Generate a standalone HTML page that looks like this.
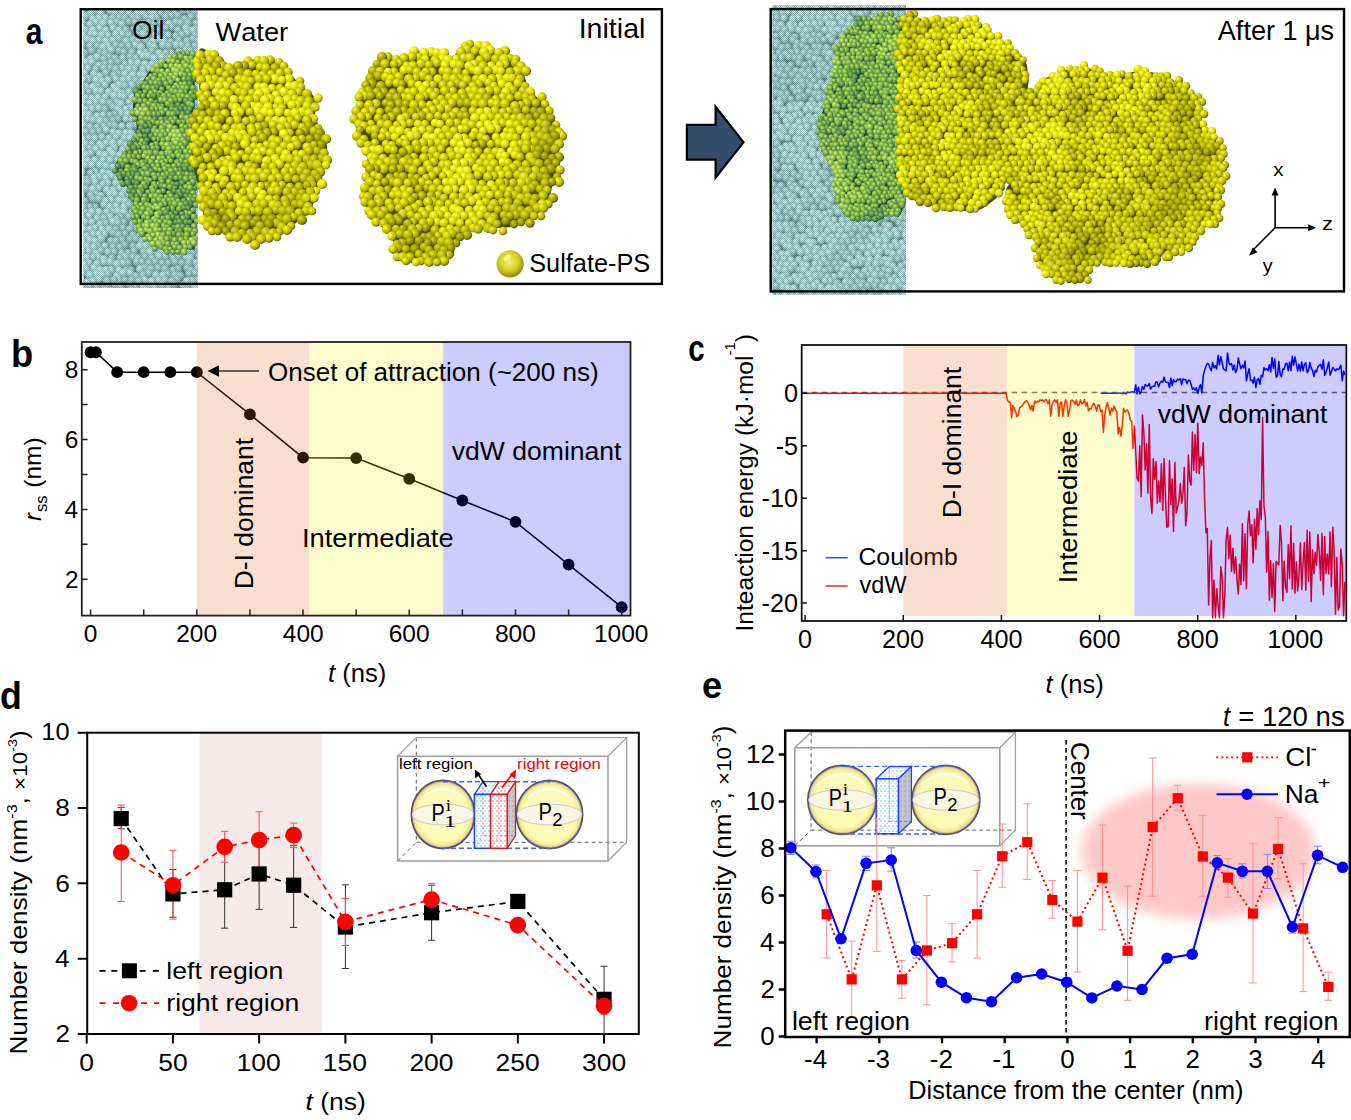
<!DOCTYPE html>
<html><head><meta charset="utf-8"><style>
html,body{margin:0;padding:0;background:#fff;}
body{width:1351px;height:1120px;overflow:hidden;}
svg{display:block;font-family:"Liberation Sans",sans-serif;font-kerning:none;}
text{font-kerning:none;}
</style></head><body>
<svg width="1351" height="1120" viewBox="0 0 1351 1120">
<defs>
<radialGradient id="gy1" cx="0.34" cy="0.31" r="0.75">
 <stop offset="0" stop-color="#ffff88"/><stop offset="0.28" stop-color="#f4f412"/><stop offset="0.7" stop-color="#c8c800"/><stop offset="1" stop-color="#5c5c00"/>
</radialGradient>
<radialGradient id="gy2" cx="0.34" cy="0.31" r="0.75">
 <stop offset="0" stop-color="#f4f46a"/><stop offset="0.28" stop-color="#e2e200"/><stop offset="0.7" stop-color="#a8a800"/><stop offset="1" stop-color="#464600"/>
</radialGradient>
<radialGradient id="gy3" cx="0.34" cy="0.31" r="0.75">
 <stop offset="0" stop-color="#e4e448"/><stop offset="0.28" stop-color="#c4c400"/><stop offset="0.7" stop-color="#8a8a00"/><stop offset="1" stop-color="#363600"/>
</radialGradient>
<radialGradient id="gg1" cx="0.36" cy="0.33" r="0.72">
 <stop offset="0" stop-color="#d8f488"/><stop offset="0.35" stop-color="#a4d050"/><stop offset="0.8" stop-color="#689a40"/><stop offset="1" stop-color="#2c5a40"/>
</radialGradient>
<radialGradient id="gg2" cx="0.36" cy="0.33" r="0.72">
 <stop offset="0" stop-color="#c0e878"/><stop offset="0.35" stop-color="#88bc48"/><stop offset="0.8" stop-color="#528640"/><stop offset="1" stop-color="#205040"/>
</radialGradient>
<radialGradient id="gg3" cx="0.36" cy="0.33" r="0.72">
 <stop offset="0" stop-color="#98cc68"/><stop offset="0.35" stop-color="#68a048"/><stop offset="0.8" stop-color="#3c7048"/><stop offset="1" stop-color="#1a4038"/>
</radialGradient>
<radialGradient id="gc1" cx="0.4" cy="0.35" r="0.7">
 <stop offset="0" stop-color="#e8ffff"/><stop offset="0.45" stop-color="#ace6e6"/><stop offset="1" stop-color="#7cb0b0"/>
</radialGradient>
<radialGradient id="gc2" cx="0.4" cy="0.35" r="0.7">
 <stop offset="0" stop-color="#d4f6f6"/><stop offset="0.45" stop-color="#9cd4d4"/><stop offset="1" stop-color="#74a0a0"/>
</radialGradient>
<pattern id="dith" width="2" height="2" patternUnits="userSpaceOnUse"><rect width="1" height="1" fill="#203838"/><rect x="1" y="1" width="1" height="1" fill="#203838"/></pattern>
<radialGradient id="gball" cx="0.45" cy="0.4" r="0.6">
 <stop offset="0" stop-color="#f4f470"/><stop offset="0.6" stop-color="#d0d020"/><stop offset="1" stop-color="#8a8a10"/>
</radialGradient>
<radialGradient id="lump" cx="0.42" cy="0.4" r="0.6">
 <stop offset="0" stop-color="#ffff60" stop-opacity="0.18"/><stop offset="0.55" stop-color="#ffff40" stop-opacity="0"/><stop offset="0.82" stop-color="#404000" stop-opacity="0"/><stop offset="1" stop-color="#303000" stop-opacity="0.45"/>
</radialGradient>
<radialGradient id="shadeY" cx="0.4" cy="0.38" r="0.62">
 <stop offset="0" stop-color="#ffff80" stop-opacity="0.06"/><stop offset="0.6" stop-color="#808000" stop-opacity="0"/><stop offset="0.9" stop-color="#505000" stop-opacity="0.2"/><stop offset="1" stop-color="#505000" stop-opacity="0.05"/>
</radialGradient>
<filter id="blur8" x="-30%" y="-30%" width="160%" height="160%"><feGaussianBlur stdDeviation="6"/></filter>
</defs>
<style>
.y1{fill:url(#gy1)}.y2{fill:url(#gy2)}.y3{fill:url(#gy3)}
.g1{fill:url(#gg1)}.g2{fill:url(#gg2)}.g3{fill:url(#gg3)}
.c1{fill:url(#gc1)}.c2{fill:url(#gc2)}
</style>
<text transform="translate(25.82,44.24) scale(0.3001,0.3669)" font-size="100" font-weight="bold" fill="#000">a</text>
<defs><circle id="k1c10" r="3.74" class="c1"/></defs>
<defs><circle id="k1c11" r="4.00" class="c1"/></defs>
<defs><circle id="k1c12" r="4.26" class="c1"/></defs>
<defs><circle id="k1c20" r="3.74" class="c2"/></defs>
<defs><circle id="k1c21" r="4.00" class="c2"/></defs>
<defs><circle id="k1c22" r="4.26" class="c2"/></defs>
<clipPath id="k1"><rect x="83.5" y="10" width="114" height="278"/></clipPath>
<g clip-path="url(#k1)">
<rect x="83.5" y="10" width="114" height="278" fill="#708888"/>
<use href="#k1c10" x="112" y="5"/>
<use href="#k1c11" x="193" y="5"/>
<use href="#k1c20" x="145" y="5"/>
<use href="#k1c11" x="118" y="5"/>
<use href="#k1c10" x="184" y="5"/>
<use href="#k1c22" x="177" y="6"/>
<use href="#k1c21" x="153" y="6"/>
<use href="#k1c21" x="166" y="6"/>
<use href="#k1c21" x="79" y="6"/>
<use href="#k1c21" x="86" y="6"/>
<use href="#k1c20" x="171" y="6"/>
<use href="#k1c10" x="132" y="6"/>
<use href="#k1c11" x="197" y="7"/>
<use href="#k1c10" x="93" y="7"/>
<use href="#k1c10" x="98" y="7"/>
<use href="#k1c11" x="126" y="7"/>
<use href="#k1c10" x="160" y="7"/>
<use href="#k1c11" x="107" y="7"/>
<use href="#k1c22" x="140" y="7"/>
<use href="#k1c11" x="188" y="10"/>
<use href="#k1c12" x="195" y="11"/>
<use href="#k1c20" x="183" y="11"/>
<use href="#k1c10" x="110" y="11"/>
<use href="#k1c11" x="95" y="11"/>
<use href="#k1c10" x="82" y="11"/>
<use href="#k1c11" x="122" y="12"/>
<use href="#k1c11" x="115" y="12"/>
<use href="#k1c20" x="150" y="12"/>
<use href="#k1c20" x="168" y="12"/>
<use href="#k1c12" x="91" y="13"/>
<use href="#k1c10" x="137" y="13"/>
<use href="#k1c20" x="161" y="13"/>
<use href="#k1c20" x="175" y="13"/>
<use href="#k1c10" x="129" y="13"/>
<use href="#k1c12" x="143" y="13"/>
<use href="#k1c12" x="154" y="13"/>
<use href="#k1c10" x="101" y="13"/>
<use href="#k1c22" x="171" y="16"/>
<use href="#k1c12" x="85" y="16"/>
<use href="#k1c21" x="178" y="16"/>
<use href="#k1c21" x="133" y="17"/>
<use href="#k1c20" x="199" y="17"/>
<use href="#k1c21" x="146" y="17"/>
<use href="#k1c22" x="191" y="17"/>
<use href="#k1c22" x="166" y="17"/>
<use href="#k1c12" x="105" y="18"/>
<use href="#k1c20" x="157" y="18"/>
<use href="#k1c22" x="138" y="18"/>
<use href="#k1c11" x="81" y="18"/>
<use href="#k1c22" x="119" y="18"/>
<use href="#k1c22" x="113" y="18"/>
<use href="#k1c12" x="99" y="18"/>
<use href="#k1c21" x="125" y="18"/>
<use href="#k1c12" x="152" y="18"/>
<use href="#k1c21" x="185" y="19"/>
<use href="#k1c11" x="93" y="19"/>
<use href="#k1c20" x="129" y="22"/>
<use href="#k1c21" x="117" y="22"/>
<use href="#k1c21" x="135" y="22"/>
<use href="#k1c22" x="176" y="22"/>
<use href="#k1c20" x="149" y="22"/>
<use href="#k1c11" x="96" y="22"/>
<use href="#k1c21" x="161" y="23"/>
<use href="#k1c10" x="111" y="23"/>
<use href="#k1c22" x="181" y="23"/>
<use href="#k1c20" x="196" y="23"/>
<use href="#k1c20" x="154" y="23"/>
<use href="#k1c12" x="103" y="23"/>
<use href="#k1c12" x="82" y="23"/>
<use href="#k1c22" x="188" y="23"/>
<use href="#k1c22" x="143" y="24"/>
<use href="#k1c12" x="169" y="24"/>
<use href="#k1c10" x="122" y="24"/>
<use href="#k1c10" x="90" y="24"/>
<use href="#k1c21" x="172" y="27"/>
<use href="#k1c10" x="113" y="28"/>
<use href="#k1c11" x="186" y="28"/>
<use href="#k1c21" x="166" y="28"/>
<use href="#k1c11" x="100" y="28"/>
<use href="#k1c22" x="152" y="29"/>
<use href="#k1c22" x="197" y="29"/>
<use href="#k1c20" x="134" y="29"/>
<use href="#k1c21" x="146" y="29"/>
<use href="#k1c22" x="138" y="29"/>
<use href="#k1c22" x="126" y="30"/>
<use href="#k1c10" x="106" y="30"/>
<use href="#k1c10" x="119" y="30"/>
<use href="#k1c12" x="93" y="30"/>
<use href="#k1c21" x="178" y="30"/>
<use href="#k1c22" x="80" y="30"/>
<use href="#k1c21" x="158" y="30"/>
<use href="#k1c12" x="85" y="30"/>
<use href="#k1c11" x="193" y="30"/>
<use href="#k1c10" x="187" y="33"/>
<use href="#k1c10" x="91" y="34"/>
<use href="#k1c11" x="122" y="34"/>
<use href="#k1c10" x="95" y="34"/>
<use href="#k1c22" x="137" y="34"/>
<use href="#k1c12" x="143" y="34"/>
<use href="#k1c11" x="83" y="34"/>
<use href="#k1c20" x="163" y="34"/>
<use href="#k1c11" x="116" y="34"/>
<use href="#k1c10" x="108" y="35"/>
<use href="#k1c20" x="195" y="35"/>
<use href="#k1c21" x="129" y="35"/>
<use href="#k1c12" x="102" y="35"/>
<use href="#k1c10" x="168" y="35"/>
<use href="#k1c10" x="155" y="35"/>
<use href="#k1c22" x="182" y="35"/>
<use href="#k1c20" x="176" y="36"/>
<use href="#k1c20" x="148" y="36"/>
<use href="#k1c22" x="119" y="39"/>
<use href="#k1c22" x="193" y="39"/>
<use href="#k1c11" x="159" y="39"/>
<use href="#k1c12" x="87" y="39"/>
<use href="#k1c12" x="79" y="39"/>
<use href="#k1c11" x="164" y="40"/>
<use href="#k1c20" x="198" y="40"/>
<use href="#k1c10" x="113" y="40"/>
<use href="#k1c22" x="146" y="40"/>
<use href="#k1c10" x="99" y="40"/>
<use href="#k1c22" x="133" y="40"/>
<use href="#k1c21" x="179" y="40"/>
<use href="#k1c22" x="187" y="41"/>
<use href="#k1c11" x="93" y="41"/>
<use href="#k1c11" x="153" y="41"/>
<use href="#k1c11" x="106" y="41"/>
<use href="#k1c11" x="126" y="41"/>
<use href="#k1c22" x="138" y="41"/>
<use href="#k1c21" x="171" y="42"/>
<use href="#k1c10" x="135" y="45"/>
<use href="#k1c22" x="150" y="45"/>
<use href="#k1c10" x="181" y="45"/>
<use href="#k1c21" x="116" y="45"/>
<use href="#k1c22" x="82" y="45"/>
<use href="#k1c11" x="176" y="45"/>
<use href="#k1c12" x="163" y="45"/>
<use href="#k1c21" x="195" y="46"/>
<use href="#k1c22" x="169" y="46"/>
<use href="#k1c11" x="108" y="46"/>
<use href="#k1c21" x="90" y="46"/>
<use href="#k1c22" x="129" y="46"/>
<use href="#k1c20" x="122" y="46"/>
<use href="#k1c20" x="97" y="46"/>
<use href="#k1c20" x="188" y="46"/>
<use href="#k1c12" x="141" y="47"/>
<use href="#k1c12" x="103" y="47"/>
<use href="#k1c11" x="154" y="47"/>
<use href="#k1c11" x="111" y="50"/>
<use href="#k1c21" x="186" y="50"/>
<use href="#k1c20" x="119" y="51"/>
<use href="#k1c22" x="198" y="51"/>
<use href="#k1c21" x="152" y="51"/>
<use href="#k1c21" x="92" y="51"/>
<use href="#k1c22" x="190" y="51"/>
<use href="#k1c21" x="132" y="52"/>
<use href="#k1c10" x="179" y="52"/>
<use href="#k1c20" x="146" y="52"/>
<use href="#k1c20" x="100" y="52"/>
<use href="#k1c21" x="124" y="52"/>
<use href="#k1c10" x="140" y="53"/>
<use href="#k1c10" x="171" y="53"/>
<use href="#k1c21" x="85" y="53"/>
<use href="#k1c21" x="166" y="53"/>
<use href="#k1c20" x="81" y="53"/>
<use href="#k1c22" x="105" y="53"/>
<use href="#k1c11" x="159" y="53"/>
<use href="#k1c12" x="143" y="56"/>
<use href="#k1c12" x="148" y="56"/>
<use href="#k1c11" x="82" y="56"/>
<use href="#k1c12" x="162" y="57"/>
<use href="#k1c21" x="130" y="57"/>
<use href="#k1c11" x="97" y="57"/>
<use href="#k1c21" x="109" y="57"/>
<use href="#k1c22" x="123" y="58"/>
<use href="#k1c21" x="115" y="58"/>
<use href="#k1c21" x="136" y="58"/>
<use href="#k1c12" x="154" y="58"/>
<use href="#k1c22" x="189" y="58"/>
<use href="#k1c21" x="177" y="58"/>
<use href="#k1c21" x="182" y="58"/>
<use href="#k1c21" x="169" y="58"/>
<use href="#k1c21" x="196" y="59"/>
<use href="#k1c21" x="104" y="59"/>
<use href="#k1c11" x="91" y="59"/>
<use href="#k1c20" x="118" y="62"/>
<use href="#k1c12" x="86" y="62"/>
<use href="#k1c20" x="184" y="62"/>
<use href="#k1c11" x="92" y="62"/>
<use href="#k1c21" x="172" y="62"/>
<use href="#k1c12" x="131" y="63"/>
<use href="#k1c22" x="111" y="63"/>
<use href="#k1c12" x="165" y="63"/>
<use href="#k1c22" x="193" y="63"/>
<use href="#k1c22" x="198" y="63"/>
<use href="#k1c11" x="138" y="63"/>
<use href="#k1c20" x="105" y="64"/>
<use href="#k1c11" x="80" y="64"/>
<use href="#k1c20" x="125" y="64"/>
<use href="#k1c21" x="178" y="64"/>
<use href="#k1c11" x="145" y="64"/>
<use href="#k1c11" x="157" y="64"/>
<use href="#k1c10" x="152" y="64"/>
<use href="#k1c10" x="99" y="65"/>
<use href="#k1c20" x="110" y="68"/>
<use href="#k1c20" x="189" y="68"/>
<use href="#k1c20" x="174" y="68"/>
<use href="#k1c11" x="149" y="68"/>
<use href="#k1c10" x="88" y="68"/>
<use href="#k1c11" x="162" y="68"/>
<use href="#k1c21" x="104" y="68"/>
<use href="#k1c10" x="122" y="68"/>
<use href="#k1c12" x="168" y="68"/>
<use href="#k1c12" x="134" y="69"/>
<use href="#k1c21" x="96" y="69"/>
<use href="#k1c22" x="116" y="69"/>
<use href="#k1c20" x="183" y="69"/>
<use href="#k1c11" x="143" y="69"/>
<use href="#k1c21" x="196" y="69"/>
<use href="#k1c12" x="129" y="69"/>
<use href="#k1c12" x="81" y="70"/>
<use href="#k1c10" x="154" y="70"/>
<use href="#k1c22" x="106" y="73"/>
<use href="#k1c10" x="85" y="73"/>
<use href="#k1c10" x="159" y="74"/>
<use href="#k1c22" x="185" y="74"/>
<use href="#k1c21" x="118" y="74"/>
<use href="#k1c12" x="125" y="74"/>
<use href="#k1c11" x="94" y="74"/>
<use href="#k1c12" x="171" y="74"/>
<use href="#k1c11" x="140" y="75"/>
<use href="#k1c10" x="80" y="75"/>
<use href="#k1c22" x="193" y="75"/>
<use href="#k1c12" x="133" y="75"/>
<use href="#k1c12" x="166" y="75"/>
<use href="#k1c11" x="144" y="75"/>
<use href="#k1c21" x="114" y="75"/>
<use href="#k1c10" x="100" y="76"/>
<use href="#k1c12" x="153" y="76"/>
<use href="#k1c21" x="198" y="76"/>
<use href="#k1c11" x="177" y="76"/>
<use href="#k1c11" x="129" y="79"/>
<use href="#k1c10" x="116" y="79"/>
<use href="#k1c12" x="88" y="79"/>
<use href="#k1c10" x="84" y="79"/>
<use href="#k1c10" x="176" y="80"/>
<use href="#k1c12" x="96" y="80"/>
<use href="#k1c10" x="123" y="80"/>
<use href="#k1c20" x="194" y="80"/>
<use href="#k1c22" x="136" y="80"/>
<use href="#k1c11" x="181" y="80"/>
<use href="#k1c11" x="108" y="80"/>
<use href="#k1c10" x="102" y="81"/>
<use href="#k1c20" x="187" y="81"/>
<use href="#k1c12" x="143" y="81"/>
<use href="#k1c11" x="150" y="81"/>
<use href="#k1c11" x="169" y="81"/>
<use href="#k1c10" x="162" y="81"/>
<use href="#k1c11" x="156" y="81"/>
<use href="#k1c12" x="119" y="85"/>
<use href="#k1c20" x="157" y="85"/>
<use href="#k1c22" x="145" y="85"/>
<use href="#k1c21" x="140" y="85"/>
<use href="#k1c12" x="132" y="85"/>
<use href="#k1c12" x="184" y="85"/>
<use href="#k1c10" x="105" y="85"/>
<use href="#k1c22" x="198" y="85"/>
<use href="#k1c10" x="178" y="85"/>
<use href="#k1c22" x="125" y="86"/>
<use href="#k1c20" x="98" y="86"/>
<use href="#k1c12" x="151" y="86"/>
<use href="#k1c21" x="191" y="86"/>
<use href="#k1c12" x="86" y="87"/>
<use href="#k1c11" x="114" y="87"/>
<use href="#k1c10" x="166" y="87"/>
<use href="#k1c12" x="93" y="87"/>
<use href="#k1c10" x="172" y="87"/>
<use href="#k1c12" x="81" y="87"/>
<use href="#k1c12" x="117" y="90"/>
<use href="#k1c12" x="169" y="90"/>
<use href="#k1c20" x="150" y="91"/>
<use href="#k1c12" x="96" y="91"/>
<use href="#k1c10" x="101" y="91"/>
<use href="#k1c11" x="161" y="92"/>
<use href="#k1c11" x="180" y="92"/>
<use href="#k1c12" x="136" y="92"/>
<use href="#k1c20" x="143" y="92"/>
<use href="#k1c20" x="89" y="92"/>
<use href="#k1c20" x="195" y="92"/>
<use href="#k1c12" x="109" y="92"/>
<use href="#k1c12" x="82" y="92"/>
<use href="#k1c11" x="129" y="92"/>
<use href="#k1c22" x="155" y="93"/>
<use href="#k1c12" x="188" y="93"/>
<use href="#k1c10" x="175" y="93"/>
<use href="#k1c10" x="122" y="93"/>
<use href="#k1c12" x="114" y="96"/>
<use href="#k1c12" x="166" y="96"/>
<use href="#k1c12" x="121" y="96"/>
<use href="#k1c11" x="191" y="97"/>
<use href="#k1c10" x="124" y="97"/>
<use href="#k1c10" x="145" y="97"/>
<use href="#k1c10" x="132" y="97"/>
<use href="#k1c10" x="78" y="97"/>
<use href="#k1c11" x="184" y="97"/>
<use href="#k1c10" x="105" y="97"/>
<use href="#k1c22" x="198" y="97"/>
<use href="#k1c11" x="86" y="98"/>
<use href="#k1c11" x="173" y="98"/>
<use href="#k1c11" x="160" y="98"/>
<use href="#k1c12" x="98" y="98"/>
<use href="#k1c10" x="92" y="98"/>
<use href="#k1c12" x="178" y="98"/>
<use href="#k1c11" x="152" y="99"/>
<use href="#k1c22" x="138" y="99"/>
<use href="#k1c21" x="117" y="102"/>
<use href="#k1c10" x="129" y="102"/>
<use href="#k1c10" x="134" y="102"/>
<use href="#k1c10" x="84" y="102"/>
<use href="#k1c12" x="154" y="102"/>
<use href="#k1c20" x="196" y="102"/>
<use href="#k1c11" x="149" y="102"/>
<use href="#k1c12" x="95" y="102"/>
<use href="#k1c10" x="103" y="102"/>
<use href="#k1c12" x="183" y="103"/>
<use href="#k1c10" x="168" y="103"/>
<use href="#k1c22" x="110" y="103"/>
<use href="#k1c10" x="90" y="103"/>
<use href="#k1c20" x="162" y="103"/>
<use href="#k1c10" x="142" y="103"/>
<use href="#k1c22" x="174" y="104"/>
<use href="#k1c12" x="188" y="104"/>
<use href="#k1c12" x="121" y="104"/>
<use href="#k1c21" x="113" y="107"/>
<use href="#k1c11" x="99" y="108"/>
<use href="#k1c20" x="180" y="108"/>
<use href="#k1c11" x="186" y="108"/>
<use href="#k1c11" x="191" y="108"/>
<use href="#k1c11" x="131" y="108"/>
<use href="#k1c20" x="166" y="109"/>
<use href="#k1c11" x="79" y="109"/>
<use href="#k1c11" x="118" y="109"/>
<use href="#k1c12" x="158" y="109"/>
<use href="#k1c10" x="126" y="109"/>
<use href="#k1c11" x="92" y="109"/>
<use href="#k1c10" x="86" y="109"/>
<use href="#k1c21" x="171" y="109"/>
<use href="#k1c21" x="105" y="109"/>
<use href="#k1c22" x="198" y="109"/>
<use href="#k1c11" x="138" y="109"/>
<use href="#k1c11" x="153" y="110"/>
<use href="#k1c11" x="146" y="110"/>
<use href="#k1c12" x="121" y="113"/>
<use href="#k1c20" x="115" y="114"/>
<use href="#k1c20" x="176" y="114"/>
<use href="#k1c10" x="149" y="114"/>
<use href="#k1c12" x="84" y="114"/>
<use href="#k1c11" x="189" y="114"/>
<use href="#k1c11" x="162" y="114"/>
<use href="#k1c11" x="128" y="114"/>
<use href="#k1c21" x="141" y="115"/>
<use href="#k1c20" x="110" y="115"/>
<use href="#k1c10" x="103" y="115"/>
<use href="#k1c12" x="89" y="115"/>
<use href="#k1c12" x="155" y="115"/>
<use href="#k1c11" x="170" y="115"/>
<use href="#k1c11" x="97" y="116"/>
<use href="#k1c20" x="135" y="116"/>
<use href="#k1c20" x="182" y="116"/>
<use href="#k1c12" x="196" y="116"/>
<use href="#k1c12" x="78" y="119"/>
<use href="#k1c20" x="144" y="119"/>
<use href="#k1c12" x="191" y="119"/>
<use href="#k1c20" x="118" y="119"/>
<use href="#k1c10" x="88" y="119"/>
<use href="#k1c10" x="126" y="119"/>
<use href="#k1c10" x="132" y="119"/>
<use href="#k1c10" x="186" y="119"/>
<use href="#k1c12" x="151" y="119"/>
<use href="#k1c11" x="166" y="120"/>
<use href="#k1c20" x="138" y="120"/>
<use href="#k1c10" x="93" y="120"/>
<use href="#k1c10" x="198" y="120"/>
<use href="#k1c20" x="113" y="120"/>
<use href="#k1c12" x="172" y="121"/>
<use href="#k1c21" x="106" y="121"/>
<use href="#k1c11" x="100" y="121"/>
<use href="#k1c11" x="158" y="121"/>
<use href="#k1c12" x="180" y="122"/>
<use href="#k1c22" x="84" y="125"/>
<use href="#k1c20" x="110" y="125"/>
<use href="#k1c10" x="143" y="125"/>
<use href="#k1c21" x="136" y="125"/>
<use href="#k1c12" x="155" y="126"/>
<use href="#k1c11" x="130" y="126"/>
<use href="#k1c20" x="187" y="126"/>
<use href="#k1c22" x="115" y="126"/>
<use href="#k1c20" x="195" y="126"/>
<use href="#k1c20" x="104" y="126"/>
<use href="#k1c10" x="174" y="126"/>
<use href="#k1c11" x="148" y="126"/>
<use href="#k1c10" x="122" y="126"/>
<use href="#k1c20" x="181" y="127"/>
<use href="#k1c22" x="90" y="127"/>
<use href="#k1c20" x="97" y="127"/>
<use href="#k1c12" x="161" y="127"/>
<use href="#k1c12" x="167" y="127"/>
<use href="#k1c11" x="106" y="130"/>
<use href="#k1c20" x="186" y="131"/>
<use href="#k1c22" x="197" y="131"/>
<use href="#k1c21" x="99" y="131"/>
<use href="#k1c22" x="190" y="131"/>
<use href="#k1c21" x="93" y="132"/>
<use href="#k1c12" x="173" y="132"/>
<use href="#k1c10" x="146" y="132"/>
<use href="#k1c10" x="159" y="132"/>
<use href="#k1c22" x="86" y="132"/>
<use href="#k1c10" x="113" y="132"/>
<use href="#k1c11" x="165" y="132"/>
<use href="#k1c22" x="140" y="132"/>
<use href="#k1c12" x="153" y="132"/>
<use href="#k1c22" x="180" y="133"/>
<use href="#k1c21" x="80" y="133"/>
<use href="#k1c12" x="126" y="133"/>
<use href="#k1c10" x="131" y="133"/>
<use href="#k1c10" x="119" y="133"/>
<use href="#k1c20" x="175" y="136"/>
<use href="#k1c20" x="189" y="137"/>
<use href="#k1c21" x="196" y="137"/>
<use href="#k1c10" x="102" y="137"/>
<use href="#k1c21" x="170" y="137"/>
<use href="#k1c11" x="135" y="137"/>
<use href="#k1c10" x="116" y="137"/>
<use href="#k1c12" x="155" y="138"/>
<use href="#k1c10" x="124" y="138"/>
<use href="#k1c22" x="89" y="138"/>
<use href="#k1c10" x="95" y="138"/>
<use href="#k1c11" x="130" y="138"/>
<use href="#k1c10" x="109" y="138"/>
<use href="#k1c11" x="142" y="138"/>
<use href="#k1c11" x="161" y="138"/>
<use href="#k1c12" x="83" y="139"/>
<use href="#k1c12" x="149" y="139"/>
<use href="#k1c22" x="182" y="139"/>
<use href="#k1c11" x="198" y="142"/>
<use href="#k1c11" x="146" y="142"/>
<use href="#k1c20" x="192" y="143"/>
<use href="#k1c21" x="171" y="143"/>
<use href="#k1c10" x="106" y="143"/>
<use href="#k1c11" x="138" y="143"/>
<use href="#k1c11" x="121" y="143"/>
<use href="#k1c20" x="184" y="143"/>
<use href="#k1c12" x="113" y="143"/>
<use href="#k1c12" x="132" y="144"/>
<use href="#k1c21" x="92" y="144"/>
<use href="#k1c12" x="152" y="144"/>
<use href="#k1c11" x="159" y="144"/>
<use href="#k1c21" x="177" y="144"/>
<use href="#k1c21" x="80" y="144"/>
<use href="#k1c22" x="164" y="144"/>
<use href="#k1c11" x="85" y="144"/>
<use href="#k1c11" x="100" y="144"/>
<use href="#k1c11" x="126" y="145"/>
<use href="#k1c12" x="102" y="147"/>
<use href="#k1c20" x="174" y="148"/>
<use href="#k1c12" x="114" y="148"/>
<use href="#k1c21" x="90" y="148"/>
<use href="#k1c21" x="182" y="148"/>
<use href="#k1c12" x="128" y="148"/>
<use href="#k1c20" x="148" y="148"/>
<use href="#k1c20" x="187" y="149"/>
<use href="#k1c11" x="155" y="149"/>
<use href="#k1c12" x="162" y="149"/>
<use href="#k1c10" x="83" y="149"/>
<use href="#k1c22" x="135" y="149"/>
<use href="#k1c21" x="167" y="149"/>
<use href="#k1c22" x="143" y="149"/>
<use href="#k1c12" x="96" y="149"/>
<use href="#k1c11" x="110" y="150"/>
<use href="#k1c11" x="123" y="150"/>
<use href="#k1c11" x="195" y="150"/>
<use href="#k1c21" x="139" y="153"/>
<use href="#k1c22" x="133" y="153"/>
<use href="#k1c12" x="166" y="153"/>
<use href="#k1c10" x="91" y="153"/>
<use href="#k1c11" x="79" y="154"/>
<use href="#k1c12" x="113" y="154"/>
<use href="#k1c12" x="198" y="154"/>
<use href="#k1c22" x="184" y="154"/>
<use href="#k1c11" x="100" y="154"/>
<use href="#k1c10" x="159" y="154"/>
<use href="#k1c21" x="153" y="154"/>
<use href="#k1c12" x="86" y="155"/>
<use href="#k1c20" x="172" y="155"/>
<use href="#k1c12" x="124" y="155"/>
<use href="#k1c12" x="120" y="155"/>
<use href="#k1c12" x="105" y="155"/>
<use href="#k1c20" x="191" y="156"/>
<use href="#k1c22" x="178" y="156"/>
<use href="#k1c20" x="146" y="156"/>
<use href="#k1c20" x="169" y="159"/>
<use href="#k1c22" x="150" y="159"/>
<use href="#k1c22" x="162" y="159"/>
<use href="#k1c20" x="117" y="160"/>
<use href="#k1c11" x="95" y="160"/>
<use href="#k1c11" x="110" y="160"/>
<use href="#k1c22" x="189" y="160"/>
<use href="#k1c20" x="143" y="160"/>
<use href="#k1c11" x="103" y="160"/>
<use href="#k1c20" x="174" y="160"/>
<use href="#k1c22" x="183" y="161"/>
<use href="#k1c22" x="135" y="161"/>
<use href="#k1c12" x="83" y="161"/>
<use href="#k1c21" x="154" y="161"/>
<use href="#k1c10" x="122" y="161"/>
<use href="#k1c11" x="88" y="161"/>
<use href="#k1c12" x="128" y="161"/>
<use href="#k1c20" x="194" y="161"/>
<use href="#k1c10" x="79" y="165"/>
<use href="#k1c20" x="160" y="165"/>
<use href="#k1c20" x="146" y="165"/>
<use href="#k1c21" x="192" y="165"/>
<use href="#k1c20" x="152" y="165"/>
<use href="#k1c12" x="100" y="165"/>
<use href="#k1c21" x="179" y="165"/>
<use href="#k1c21" x="185" y="165"/>
<use href="#k1c11" x="85" y="165"/>
<use href="#k1c11" x="92" y="165"/>
<use href="#k1c12" x="125" y="166"/>
<use href="#k1c11" x="134" y="166"/>
<use href="#k1c11" x="106" y="166"/>
<use href="#k1c10" x="200" y="166"/>
<use href="#k1c22" x="164" y="166"/>
<use href="#k1c20" x="173" y="167"/>
<use href="#k1c10" x="113" y="167"/>
<use href="#k1c12" x="118" y="167"/>
<use href="#k1c12" x="138" y="167"/>
<use href="#k1c21" x="161" y="171"/>
<use href="#k1c20" x="181" y="171"/>
<use href="#k1c21" x="169" y="171"/>
<use href="#k1c12" x="142" y="171"/>
<use href="#k1c12" x="156" y="172"/>
<use href="#k1c12" x="95" y="172"/>
<use href="#k1c22" x="175" y="172"/>
<use href="#k1c11" x="148" y="172"/>
<use href="#k1c10" x="103" y="172"/>
<use href="#k1c21" x="189" y="172"/>
<use href="#k1c11" x="123" y="172"/>
<use href="#k1c22" x="82" y="172"/>
<use href="#k1c10" x="194" y="173"/>
<use href="#k1c10" x="130" y="173"/>
<use href="#k1c22" x="91" y="173"/>
<use href="#k1c10" x="117" y="173"/>
<use href="#k1c10" x="109" y="173"/>
<use href="#k1c11" x="136" y="173"/>
<use href="#k1c10" x="112" y="176"/>
<use href="#k1c20" x="173" y="176"/>
<use href="#k1c12" x="145" y="176"/>
<use href="#k1c11" x="158" y="177"/>
<use href="#k1c10" x="151" y="177"/>
<use href="#k1c12" x="134" y="177"/>
<use href="#k1c12" x="99" y="177"/>
<use href="#k1c20" x="184" y="177"/>
<use href="#k1c12" x="199" y="177"/>
<use href="#k1c21" x="165" y="178"/>
<use href="#k1c11" x="140" y="178"/>
<use href="#k1c21" x="178" y="178"/>
<use href="#k1c12" x="94" y="178"/>
<use href="#k1c11" x="106" y="178"/>
<use href="#k1c12" x="118" y="179"/>
<use href="#k1c12" x="125" y="179"/>
<use href="#k1c11" x="193" y="179"/>
<use href="#k1c11" x="79" y="179"/>
<use href="#k1c20" x="87" y="179"/>
<use href="#k1c12" x="95" y="182"/>
<use href="#k1c21" x="84" y="182"/>
<use href="#k1c10" x="195" y="182"/>
<use href="#k1c20" x="156" y="182"/>
<use href="#k1c12" x="143" y="182"/>
<use href="#k1c22" x="88" y="182"/>
<use href="#k1c10" x="148" y="182"/>
<use href="#k1c22" x="137" y="182"/>
<use href="#k1c10" x="108" y="183"/>
<use href="#k1c11" x="122" y="183"/>
<use href="#k1c11" x="116" y="183"/>
<use href="#k1c11" x="182" y="183"/>
<use href="#k1c21" x="174" y="183"/>
<use href="#k1c10" x="129" y="183"/>
<use href="#k1c20" x="188" y="184"/>
<use href="#k1c10" x="103" y="184"/>
<use href="#k1c21" x="161" y="184"/>
<use href="#k1c21" x="169" y="184"/>
<use href="#k1c20" x="159" y="188"/>
<use href="#k1c10" x="120" y="188"/>
<use href="#k1c22" x="186" y="188"/>
<use href="#k1c10" x="99" y="188"/>
<use href="#k1c10" x="178" y="188"/>
<use href="#k1c22" x="86" y="189"/>
<use href="#k1c12" x="93" y="189"/>
<use href="#k1c10" x="192" y="189"/>
<use href="#k1c12" x="140" y="189"/>
<use href="#k1c12" x="197" y="189"/>
<use href="#k1c12" x="151" y="189"/>
<use href="#k1c22" x="166" y="190"/>
<use href="#k1c12" x="132" y="190"/>
<use href="#k1c12" x="113" y="190"/>
<use href="#k1c12" x="80" y="190"/>
<use href="#k1c12" x="107" y="190"/>
<use href="#k1c11" x="125" y="190"/>
<use href="#k1c21" x="172" y="190"/>
<use href="#k1c10" x="144" y="190"/>
<use href="#k1c12" x="137" y="194"/>
<use href="#k1c10" x="155" y="194"/>
<use href="#k1c11" x="110" y="194"/>
<use href="#k1c12" x="150" y="194"/>
<use href="#k1c11" x="187" y="194"/>
<use href="#k1c21" x="96" y="194"/>
<use href="#k1c21" x="169" y="194"/>
<use href="#k1c10" x="115" y="194"/>
<use href="#k1c11" x="129" y="194"/>
<use href="#k1c12" x="194" y="194"/>
<use href="#k1c20" x="176" y="194"/>
<use href="#k1c11" x="122" y="195"/>
<use href="#k1c12" x="161" y="195"/>
<use href="#k1c12" x="143" y="195"/>
<use href="#k1c22" x="91" y="195"/>
<use href="#k1c11" x="101" y="196"/>
<use href="#k1c20" x="82" y="196"/>
<use href="#k1c20" x="182" y="196"/>
<use href="#k1c21" x="93" y="199"/>
<use href="#k1c22" x="99" y="199"/>
<use href="#k1c12" x="192" y="200"/>
<use href="#k1c12" x="111" y="200"/>
<use href="#k1c12" x="119" y="200"/>
<use href="#k1c12" x="139" y="200"/>
<use href="#k1c10" x="184" y="200"/>
<use href="#k1c10" x="132" y="200"/>
<use href="#k1c11" x="145" y="200"/>
<use href="#k1c12" x="106" y="201"/>
<use href="#k1c21" x="79" y="201"/>
<use href="#k1c22" x="172" y="201"/>
<use href="#k1c10" x="158" y="201"/>
<use href="#k1c20" x="85" y="201"/>
<use href="#k1c11" x="125" y="201"/>
<use href="#k1c12" x="152" y="201"/>
<use href="#k1c11" x="197" y="202"/>
<use href="#k1c22" x="166" y="202"/>
<use href="#k1c22" x="179" y="202"/>
<use href="#k1c22" x="174" y="205"/>
<use href="#k1c10" x="104" y="205"/>
<use href="#k1c21" x="129" y="205"/>
<use href="#k1c10" x="196" y="206"/>
<use href="#k1c10" x="155" y="206"/>
<use href="#k1c20" x="181" y="206"/>
<use href="#k1c11" x="116" y="206"/>
<use href="#k1c10" x="162" y="207"/>
<use href="#k1c12" x="124" y="207"/>
<use href="#k1c21" x="149" y="207"/>
<use href="#k1c21" x="95" y="207"/>
<use href="#k1c10" x="142" y="207"/>
<use href="#k1c21" x="90" y="207"/>
<use href="#k1c21" x="84" y="207"/>
<use href="#k1c12" x="189" y="207"/>
<use href="#k1c20" x="170" y="207"/>
<use href="#k1c11" x="110" y="207"/>
<use href="#k1c22" x="136" y="207"/>
<use href="#k1c21" x="171" y="210"/>
<use href="#k1c12" x="144" y="211"/>
<use href="#k1c21" x="178" y="211"/>
<use href="#k1c22" x="113" y="211"/>
<use href="#k1c22" x="151" y="211"/>
<use href="#k1c22" x="185" y="211"/>
<use href="#k1c12" x="79" y="211"/>
<use href="#k1c20" x="165" y="211"/>
<use href="#k1c12" x="118" y="211"/>
<use href="#k1c11" x="198" y="211"/>
<use href="#k1c12" x="99" y="212"/>
<use href="#k1c11" x="158" y="212"/>
<use href="#k1c20" x="132" y="212"/>
<use href="#k1c20" x="86" y="212"/>
<use href="#k1c12" x="92" y="212"/>
<use href="#k1c11" x="192" y="212"/>
<use href="#k1c11" x="107" y="212"/>
<use href="#k1c12" x="124" y="212"/>
<use href="#k1c22" x="138" y="213"/>
<use href="#k1c10" x="89" y="216"/>
<use href="#k1c20" x="137" y="216"/>
<use href="#k1c10" x="189" y="216"/>
<use href="#k1c20" x="174" y="217"/>
<use href="#k1c21" x="121" y="217"/>
<use href="#k1c21" x="129" y="217"/>
<use href="#k1c21" x="169" y="217"/>
<use href="#k1c20" x="141" y="217"/>
<use href="#k1c11" x="110" y="217"/>
<use href="#k1c22" x="83" y="218"/>
<use href="#k1c21" x="156" y="218"/>
<use href="#k1c10" x="97" y="218"/>
<use href="#k1c21" x="163" y="218"/>
<use href="#k1c10" x="196" y="218"/>
<use href="#k1c22" x="181" y="218"/>
<use href="#k1c22" x="104" y="218"/>
<use href="#k1c22" x="149" y="219"/>
<use href="#k1c22" x="117" y="219"/>
<use href="#k1c21" x="151" y="222"/>
<use href="#k1c22" x="158" y="222"/>
<use href="#k1c10" x="197" y="222"/>
<use href="#k1c12" x="85" y="222"/>
<use href="#k1c12" x="113" y="222"/>
<use href="#k1c20" x="124" y="222"/>
<use href="#k1c22" x="172" y="222"/>
<use href="#k1c10" x="92" y="222"/>
<use href="#k1c22" x="118" y="223"/>
<use href="#k1c20" x="106" y="223"/>
<use href="#k1c21" x="139" y="223"/>
<use href="#k1c21" x="144" y="223"/>
<use href="#k1c22" x="164" y="223"/>
<use href="#k1c10" x="100" y="224"/>
<use href="#k1c22" x="133" y="224"/>
<use href="#k1c12" x="192" y="224"/>
<use href="#k1c10" x="78" y="224"/>
<use href="#k1c22" x="185" y="224"/>
<use href="#k1c20" x="177" y="224"/>
<use href="#k1c20" x="196" y="228"/>
<use href="#k1c22" x="137" y="228"/>
<use href="#k1c20" x="123" y="228"/>
<use href="#k1c10" x="95" y="228"/>
<use href="#k1c22" x="148" y="228"/>
<use href="#k1c11" x="109" y="229"/>
<use href="#k1c10" x="84" y="229"/>
<use href="#k1c20" x="116" y="229"/>
<use href="#k1c10" x="187" y="229"/>
<use href="#k1c21" x="130" y="229"/>
<use href="#k1c10" x="90" y="229"/>
<use href="#k1c10" x="102" y="229"/>
<use href="#k1c20" x="142" y="230"/>
<use href="#k1c12" x="163" y="230"/>
<use href="#k1c22" x="183" y="230"/>
<use href="#k1c21" x="169" y="230"/>
<use href="#k1c22" x="177" y="230"/>
<use href="#k1c11" x="156" y="230"/>
<use href="#k1c10" x="178" y="233"/>
<use href="#k1c20" x="145" y="233"/>
<use href="#k1c20" x="113" y="233"/>
<use href="#k1c11" x="157" y="233"/>
<use href="#k1c20" x="172" y="234"/>
<use href="#k1c22" x="191" y="234"/>
<use href="#k1c22" x="185" y="234"/>
<use href="#k1c10" x="93" y="234"/>
<use href="#k1c20" x="125" y="234"/>
<use href="#k1c12" x="104" y="234"/>
<use href="#k1c10" x="99" y="234"/>
<use href="#k1c20" x="133" y="235"/>
<use href="#k1c22" x="199" y="235"/>
<use href="#k1c12" x="153" y="235"/>
<use href="#k1c11" x="79" y="235"/>
<use href="#k1c12" x="166" y="235"/>
<use href="#k1c22" x="119" y="235"/>
<use href="#k1c21" x="140" y="236"/>
<use href="#k1c11" x="87" y="236"/>
<use href="#k1c21" x="181" y="239"/>
<use href="#k1c20" x="130" y="239"/>
<use href="#k1c12" x="101" y="239"/>
<use href="#k1c21" x="136" y="239"/>
<use href="#k1c12" x="176" y="240"/>
<use href="#k1c21" x="122" y="240"/>
<use href="#k1c10" x="168" y="240"/>
<use href="#k1c11" x="90" y="240"/>
<use href="#k1c22" x="195" y="240"/>
<use href="#k1c10" x="157" y="240"/>
<use href="#k1c11" x="95" y="241"/>
<use href="#k1c12" x="163" y="241"/>
<use href="#k1c20" x="142" y="241"/>
<use href="#k1c20" x="190" y="241"/>
<use href="#k1c21" x="111" y="241"/>
<use href="#k1c22" x="116" y="241"/>
<use href="#k1c10" x="148" y="241"/>
<use href="#k1c12" x="83" y="242"/>
<use href="#k1c21" x="125" y="245"/>
<use href="#k1c20" x="186" y="245"/>
<use href="#k1c12" x="178" y="246"/>
<use href="#k1c12" x="165" y="246"/>
<use href="#k1c20" x="133" y="246"/>
<use href="#k1c11" x="158" y="246"/>
<use href="#k1c22" x="98" y="246"/>
<use href="#k1c10" x="105" y="246"/>
<use href="#k1c12" x="140" y="246"/>
<use href="#k1c11" x="146" y="246"/>
<use href="#k1c12" x="87" y="246"/>
<use href="#k1c20" x="191" y="246"/>
<use href="#k1c12" x="79" y="246"/>
<use href="#k1c20" x="120" y="247"/>
<use href="#k1c22" x="198" y="247"/>
<use href="#k1c21" x="113" y="247"/>
<use href="#k1c11" x="94" y="247"/>
<use href="#k1c11" x="172" y="247"/>
<use href="#k1c11" x="153" y="247"/>
<use href="#k1c21" x="101" y="251"/>
<use href="#k1c20" x="134" y="251"/>
<use href="#k1c11" x="156" y="251"/>
<use href="#k1c20" x="174" y="251"/>
<use href="#k1c10" x="89" y="251"/>
<use href="#k1c22" x="189" y="251"/>
<use href="#k1c22" x="114" y="252"/>
<use href="#k1c10" x="108" y="252"/>
<use href="#k1c20" x="182" y="252"/>
<use href="#k1c10" x="82" y="252"/>
<use href="#k1c22" x="194" y="252"/>
<use href="#k1c22" x="144" y="252"/>
<use href="#k1c12" x="150" y="252"/>
<use href="#k1c11" x="162" y="252"/>
<use href="#k1c10" x="96" y="253"/>
<use href="#k1c21" x="128" y="253"/>
<use href="#k1c10" x="169" y="253"/>
<use href="#k1c21" x="122" y="253"/>
<use href="#k1c11" x="165" y="256"/>
<use href="#k1c20" x="199" y="256"/>
<use href="#k1c11" x="159" y="256"/>
<use href="#k1c12" x="125" y="257"/>
<use href="#k1c11" x="98" y="257"/>
<use href="#k1c10" x="93" y="257"/>
<use href="#k1c11" x="78" y="257"/>
<use href="#k1c21" x="178" y="257"/>
<use href="#k1c10" x="186" y="257"/>
<use href="#k1c10" x="87" y="257"/>
<use href="#k1c21" x="145" y="257"/>
<use href="#k1c21" x="133" y="257"/>
<use href="#k1c22" x="138" y="258"/>
<use href="#k1c20" x="152" y="258"/>
<use href="#k1c12" x="190" y="258"/>
<use href="#k1c20" x="120" y="258"/>
<use href="#k1c20" x="112" y="258"/>
<use href="#k1c20" x="173" y="258"/>
<use href="#k1c11" x="104" y="259"/>
<use href="#k1c21" x="155" y="262"/>
<use href="#k1c21" x="175" y="262"/>
<use href="#k1c22" x="137" y="262"/>
<use href="#k1c11" x="110" y="262"/>
<use href="#k1c10" x="104" y="262"/>
<use href="#k1c20" x="142" y="262"/>
<use href="#k1c20" x="168" y="263"/>
<use href="#k1c20" x="162" y="263"/>
<use href="#k1c21" x="128" y="263"/>
<use href="#k1c10" x="89" y="263"/>
<use href="#k1c22" x="196" y="263"/>
<use href="#k1c10" x="123" y="263"/>
<use href="#k1c20" x="182" y="263"/>
<use href="#k1c21" x="149" y="263"/>
<use href="#k1c21" x="189" y="263"/>
<use href="#k1c12" x="117" y="264"/>
<use href="#k1c11" x="84" y="264"/>
<use href="#k1c12" x="97" y="264"/>
<use href="#k1c11" x="94" y="268"/>
<use href="#k1c22" x="145" y="268"/>
<use href="#k1c22" x="198" y="268"/>
<use href="#k1c20" x="187" y="268"/>
<use href="#k1c21" x="158" y="268"/>
<use href="#k1c22" x="151" y="269"/>
<use href="#k1c11" x="140" y="269"/>
<use href="#k1c12" x="86" y="269"/>
<use href="#k1c22" x="165" y="269"/>
<use href="#k1c21" x="178" y="269"/>
<use href="#k1c20" x="131" y="270"/>
<use href="#k1c11" x="81" y="270"/>
<use href="#k1c20" x="191" y="270"/>
<use href="#k1c12" x="111" y="270"/>
<use href="#k1c20" x="173" y="270"/>
<use href="#k1c20" x="126" y="270"/>
<use href="#k1c10" x="119" y="270"/>
<use href="#k1c11" x="100" y="270"/>
<use href="#k1c11" x="106" y="270"/>
<use href="#k1c12" x="130" y="273"/>
<use href="#k1c22" x="195" y="273"/>
<use href="#k1c22" x="149" y="273"/>
<use href="#k1c12" x="123" y="273"/>
<use href="#k1c12" x="82" y="273"/>
<use href="#k1c22" x="108" y="274"/>
<use href="#k1c20" x="168" y="274"/>
<use href="#k1c11" x="96" y="274"/>
<use href="#k1c20" x="189" y="274"/>
<use href="#k1c11" x="156" y="275"/>
<use href="#k1c12" x="90" y="275"/>
<use href="#k1c10" x="163" y="275"/>
<use href="#k1c12" x="102" y="275"/>
<use href="#k1c21" x="143" y="275"/>
<use href="#k1c22" x="175" y="275"/>
<use href="#k1c12" x="117" y="276"/>
<use href="#k1c22" x="180" y="276"/>
<use href="#k1c21" x="136" y="276"/>
<use href="#k1c11" x="99" y="279"/>
<use href="#k1c22" x="177" y="279"/>
<use href="#k1c10" x="159" y="280"/>
<use href="#k1c21" x="198" y="280"/>
<use href="#k1c20" x="125" y="280"/>
<use href="#k1c22" x="165" y="280"/>
<use href="#k1c12" x="118" y="280"/>
<use href="#k1c21" x="132" y="280"/>
<use href="#k1c21" x="114" y="280"/>
<use href="#k1c10" x="145" y="280"/>
<use href="#k1c22" x="107" y="281"/>
<use href="#k1c22" x="172" y="281"/>
<use href="#k1c12" x="192" y="281"/>
<use href="#k1c22" x="80" y="281"/>
<use href="#k1c11" x="93" y="281"/>
<use href="#k1c11" x="187" y="281"/>
<use href="#k1c22" x="139" y="281"/>
<use href="#k1c11" x="152" y="281"/>
<use href="#k1c10" x="87" y="282"/>
<use href="#k1c20" x="129" y="285"/>
<use href="#k1c11" x="187" y="285"/>
<use href="#k1c21" x="174" y="285"/>
<use href="#k1c20" x="108" y="285"/>
<use href="#k1c12" x="162" y="285"/>
<use href="#k1c10" x="183" y="285"/>
<use href="#k1c10" x="149" y="286"/>
<use href="#k1c22" x="116" y="286"/>
<use href="#k1c11" x="89" y="286"/>
<use href="#k1c10" x="82" y="287"/>
<use href="#k1c12" x="143" y="287"/>
<use href="#k1c21" x="102" y="287"/>
<use href="#k1c21" x="121" y="287"/>
<use href="#k1c12" x="155" y="287"/>
<use href="#k1c20" x="136" y="287"/>
<use href="#k1c12" x="195" y="287"/>
<use href="#k1c20" x="169" y="287"/>
<use href="#k1c22" x="97" y="287"/>
<use href="#k1c11" x="146" y="290"/>
<use href="#k1c20" x="87" y="290"/>
<use href="#k1c22" x="106" y="290"/>
<use href="#k1c22" x="132" y="290"/>
<use href="#k1c20" x="119" y="291"/>
<use href="#k1c11" x="80" y="291"/>
<use href="#k1c10" x="186" y="291"/>
<use href="#k1c22" x="111" y="291"/>
<use href="#k1c11" x="158" y="292"/>
<use href="#k1c20" x="126" y="292"/>
<use href="#k1c10" x="197" y="292"/>
<use href="#k1c10" x="164" y="292"/>
<use href="#k1c21" x="190" y="293"/>
<use href="#k1c11" x="138" y="293"/>
<use href="#k1c20" x="93" y="293"/>
<use href="#k1c22" x="171" y="293"/>
<use href="#k1c10" x="153" y="293"/>
<use href="#k1c22" x="98" y="293"/>
<use href="#k1c22" x="178" y="293"/>
</g>
<rect x="83.5" y="10" width="114" height="278" fill="url(#dith)" opacity="0.3"/>
<defs><circle id="k2g10" r="2.80" class="g1"/></defs>
<defs><circle id="k2g11" r="3.10" class="g1"/></defs>
<defs><circle id="k2g12" r="3.40" class="g1"/></defs>
<defs><circle id="k2g20" r="2.80" class="g2"/></defs>
<defs><circle id="k2g21" r="3.10" class="g2"/></defs>
<defs><circle id="k2g22" r="3.40" class="g2"/></defs>
<defs><circle id="k2g30" r="2.80" class="g3"/></defs>
<defs><circle id="k2g31" r="3.10" class="g3"/></defs>
<defs><circle id="k2g32" r="3.40" class="g3"/></defs>
<clipPath id="k2"><rect x="0" y="0" width="197.8" height="400"/></clipPath>
<g clip-path="url(#k2)">
<path d="M159.21,64.62 C156.11,66.49 152.89,67.96 150.27,70.58 C147.65,73.21 146.11,76.48 143.47,80.36 C140.83,84.24 136.12,88.25 134.44,93.86 C132.76,99.48 133.03,108.48 133.42,114.07 C133.8,119.66 137.34,122.16 136.77,127.39 C136.19,132.62 132.97,140.18 129.97,145.45 C126.97,150.73 121.22,155.31 118.8,159.05 C116.37,162.79 114.7,164.17 115.44,167.89 C116.19,171.62 120.47,176.9 123.27,181.4 C126.06,185.9 130.51,189.65 132.2,194.9 C133.9,200.14 132.28,206.9 133.42,212.87 C134.55,218.85 135.82,225.52 139,230.75 C142.18,235.98 147.26,241.06 152.5,244.25 C157.75,247.45 164.11,249.17 170.48,249.93 C176.84,250.69 186.6,250.15 190.68,248.82 C194.77,247.48 194.25,258.44 194.97,241.92 C195.68,225.41 195.12,179.07 194.97,149.74 C194.81,120.4 194.75,81.6 194.04,65.93 C193.32,50.25 193.12,57.24 190.68,55.68 C188.25,54.13 183.05,55.99 179.42,56.62 C175.78,57.24 172.26,58.07 168.89,59.41 C165.53,60.74 162.31,62.76 159.21,64.62Z" fill="#1e4030"/>
<use href="#k2g20" x="188" y="53"/>
<use href="#k2g21" x="183" y="54"/>
<use href="#k2g21" x="193" y="54"/>
<use href="#k2g31" x="179" y="54"/>
<use href="#k2g10" x="170" y="57"/>
<use href="#k2g22" x="175" y="57"/>
<use href="#k2g22" x="181" y="57"/>
<use href="#k2g10" x="186" y="58"/>
<use href="#k2g21" x="191" y="58"/>
<use href="#k2g10" x="169" y="61"/>
<use href="#k2g10" x="173" y="61"/>
<use href="#k2g12" x="162" y="62"/>
<use href="#k2g12" x="187" y="62"/>
<use href="#k2g20" x="178" y="62"/>
<use href="#k2g22" x="193" y="62"/>
<use href="#k2g22" x="184" y="63"/>
<use href="#k2g12" x="160" y="65"/>
<use href="#k2g11" x="176" y="66"/>
<use href="#k2g11" x="186" y="66"/>
<use href="#k2g12" x="157" y="66"/>
<use href="#k2g11" x="171" y="66"/>
<use href="#k2g10" x="166" y="66"/>
<use href="#k2g12" x="180" y="67"/>
<use href="#k2g32" x="196" y="67"/>
<use href="#k2g21" x="191" y="67"/>
<use href="#k2g10" x="153" y="70"/>
<use href="#k2g22" x="193" y="70"/>
<use href="#k2g12" x="174" y="70"/>
<use href="#k2g21" x="183" y="70"/>
<use href="#k2g20" x="188" y="71"/>
<use href="#k2g10" x="168" y="71"/>
<use href="#k2g11" x="177" y="71"/>
<use href="#k2g21" x="158" y="71"/>
<use href="#k2g10" x="162" y="71"/>
<use href="#k2g21" x="195" y="74"/>
<use href="#k2g11" x="181" y="74"/>
<use href="#k2g20" x="155" y="75"/>
<use href="#k2g20" x="190" y="75"/>
<use href="#k2g12" x="165" y="75"/>
<use href="#k2g11" x="176" y="75"/>
<use href="#k2g20" x="185" y="75"/>
<use href="#k2g10" x="171" y="75"/>
<use href="#k2g20" x="151" y="76"/>
<use href="#k2g22" x="161" y="76"/>
<use href="#k2g11" x="174" y="78"/>
<use href="#k2g31" x="194" y="79"/>
<use href="#k2g22" x="169" y="79"/>
<use href="#k2g22" x="154" y="79"/>
<use href="#k2g20" x="148" y="79"/>
<use href="#k2g20" x="184" y="79"/>
<use href="#k2g32" x="189" y="79"/>
<use href="#k2g10" x="178" y="80"/>
<use href="#k2g22" x="164" y="80"/>
<use href="#k2g20" x="159" y="80"/>
<use href="#k2g21" x="171" y="82"/>
<use href="#k2g21" x="151" y="83"/>
<use href="#k2g21" x="156" y="83"/>
<use href="#k2g20" x="142" y="83"/>
<use href="#k2g32" x="190" y="84"/>
<use href="#k2g32" x="146" y="84"/>
<use href="#k2g21" x="166" y="84"/>
<use href="#k2g20" x="181" y="84"/>
<use href="#k2g32" x="160" y="84"/>
<use href="#k2g21" x="185" y="84"/>
<use href="#k2g10" x="176" y="85"/>
<use href="#k2g31" x="157" y="87"/>
<use href="#k2g30" x="139" y="87"/>
<use href="#k2g20" x="144" y="87"/>
<use href="#k2g21" x="178" y="87"/>
<use href="#k2g21" x="174" y="88"/>
<use href="#k2g22" x="183" y="88"/>
<use href="#k2g21" x="193" y="88"/>
<use href="#k2g21" x="169" y="88"/>
<use href="#k2g20" x="187" y="88"/>
<use href="#k2g20" x="153" y="88"/>
<use href="#k2g22" x="148" y="88"/>
<use href="#k2g20" x="162" y="89"/>
<use href="#k2g22" x="172" y="91"/>
<use href="#k2g32" x="136" y="91"/>
<use href="#k2g20" x="185" y="92"/>
<use href="#k2g22" x="155" y="92"/>
<use href="#k2g21" x="176" y="92"/>
<use href="#k2g20" x="145" y="92"/>
<use href="#k2g22" x="181" y="92"/>
<use href="#k2g30" x="195" y="92"/>
<use href="#k2g30" x="140" y="93"/>
<use href="#k2g20" x="191" y="93"/>
<use href="#k2g20" x="167" y="93"/>
<use href="#k2g21" x="160" y="93"/>
<use href="#k2g21" x="151" y="93"/>
<use href="#k2g22" x="169" y="96"/>
<use href="#k2g20" x="143" y="96"/>
<use href="#k2g32" x="158" y="96"/>
<use href="#k2g22" x="179" y="96"/>
<use href="#k2g22" x="138" y="96"/>
<use href="#k2g20" x="149" y="96"/>
<use href="#k2g20" x="183" y="96"/>
<use href="#k2g31" x="154" y="96"/>
<use href="#k2g22" x="164" y="96"/>
<use href="#k2g22" x="188" y="97"/>
<use href="#k2g32" x="194" y="97"/>
<use href="#k2g20" x="174" y="97"/>
<use href="#k2g20" x="180" y="100"/>
<use href="#k2g22" x="135" y="100"/>
<use href="#k2g30" x="191" y="100"/>
<use href="#k2g22" x="161" y="100"/>
<use href="#k2g21" x="175" y="100"/>
<use href="#k2g21" x="165" y="100"/>
<use href="#k2g21" x="145" y="101"/>
<use href="#k2g32" x="186" y="101"/>
<use href="#k2g21" x="140" y="101"/>
<use href="#k2g21" x="151" y="101"/>
<use href="#k2g22" x="171" y="101"/>
<use href="#k2g30" x="156" y="102"/>
<use href="#k2g21" x="168" y="104"/>
<use href="#k2g22" x="149" y="104"/>
<use href="#k2g22" x="189" y="104"/>
<use href="#k2g31" x="178" y="105"/>
<use href="#k2g20" x="192" y="105"/>
<use href="#k2g30" x="183" y="106"/>
<use href="#k2g20" x="162" y="106"/>
<use href="#k2g20" x="138" y="106"/>
<use href="#k2g21" x="158" y="106"/>
<use href="#k2g22" x="154" y="106"/>
<use href="#k2g22" x="144" y="106"/>
<use href="#k2g31" x="172" y="106"/>
<use href="#k2g32" x="172" y="109"/>
<use href="#k2g22" x="161" y="109"/>
<use href="#k2g31" x="186" y="109"/>
<use href="#k2g21" x="156" y="109"/>
<use href="#k2g30" x="190" y="109"/>
<use href="#k2g32" x="180" y="109"/>
<use href="#k2g20" x="152" y="109"/>
<use href="#k2g32" x="176" y="110"/>
<use href="#k2g20" x="166" y="110"/>
<use href="#k2g12" x="141" y="110"/>
<use href="#k2g10" x="136" y="110"/>
<use href="#k2g12" x="146" y="110"/>
<use href="#k2g31" x="196" y="111"/>
<use href="#k2g22" x="133" y="113"/>
<use href="#k2g31" x="188" y="113"/>
<use href="#k2g30" x="178" y="113"/>
<use href="#k2g21" x="162" y="113"/>
<use href="#k2g12" x="138" y="113"/>
<use href="#k2g21" x="158" y="114"/>
<use href="#k2g22" x="169" y="114"/>
<use href="#k2g21" x="154" y="114"/>
<use href="#k2g32" x="183" y="114"/>
<use href="#k2g21" x="173" y="114"/>
<use href="#k2g22" x="149" y="114"/>
<use href="#k2g11" x="143" y="114"/>
<use href="#k2g20" x="194" y="115"/>
<use href="#k2g21" x="191" y="117"/>
<use href="#k2g21" x="182" y="117"/>
<use href="#k2g21" x="141" y="118"/>
<use href="#k2g22" x="187" y="118"/>
<use href="#k2g21" x="175" y="119"/>
<use href="#k2g30" x="155" y="119"/>
<use href="#k2g20" x="135" y="119"/>
<use href="#k2g31" x="166" y="119"/>
<use href="#k2g21" x="146" y="119"/>
<use href="#k2g20" x="150" y="119"/>
<use href="#k2g20" x="161" y="119"/>
<use href="#k2g20" x="171" y="119"/>
<use href="#k2g20" x="183" y="122"/>
<use href="#k2g32" x="194" y="122"/>
<use href="#k2g20" x="173" y="122"/>
<use href="#k2g20" x="179" y="122"/>
<use href="#k2g21" x="153" y="122"/>
<use href="#k2g22" x="189" y="122"/>
<use href="#k2g30" x="139" y="123"/>
<use href="#k2g22" x="142" y="123"/>
<use href="#k2g21" x="158" y="123"/>
<use href="#k2g30" x="149" y="123"/>
<use href="#k2g22" x="168" y="123"/>
<use href="#k2g21" x="162" y="123"/>
<use href="#k2g21" x="190" y="126"/>
<use href="#k2g31" x="150" y="126"/>
<use href="#k2g31" x="196" y="126"/>
<use href="#k2g30" x="146" y="126"/>
<use href="#k2g21" x="182" y="126"/>
<use href="#k2g22" x="165" y="126"/>
<use href="#k2g12" x="170" y="127"/>
<use href="#k2g20" x="186" y="127"/>
<use href="#k2g21" x="175" y="128"/>
<use href="#k2g22" x="162" y="128"/>
<use href="#k2g20" x="155" y="128"/>
<use href="#k2g31" x="141" y="128"/>
<use href="#k2g30" x="144" y="131"/>
<use href="#k2g22" x="154" y="131"/>
<use href="#k2g22" x="182" y="131"/>
<use href="#k2g31" x="194" y="131"/>
<use href="#k2g10" x="168" y="131"/>
<use href="#k2g31" x="148" y="131"/>
<use href="#k2g22" x="158" y="132"/>
<use href="#k2g22" x="188" y="132"/>
<use href="#k2g12" x="174" y="132"/>
<use href="#k2g22" x="163" y="132"/>
<use href="#k2g30" x="139" y="132"/>
<use href="#k2g12" x="178" y="132"/>
<use href="#k2g21" x="165" y="135"/>
<use href="#k2g11" x="171" y="135"/>
<use href="#k2g20" x="156" y="135"/>
<use href="#k2g32" x="195" y="135"/>
<use href="#k2g22" x="191" y="135"/>
<use href="#k2g20" x="136" y="136"/>
<use href="#k2g22" x="161" y="136"/>
<use href="#k2g12" x="175" y="136"/>
<use href="#k2g21" x="185" y="136"/>
<use href="#k2g30" x="145" y="136"/>
<use href="#k2g31" x="151" y="136"/>
<use href="#k2g21" x="140" y="136"/>
<use href="#k2g11" x="180" y="136"/>
<use href="#k2g11" x="168" y="139"/>
<use href="#k2g31" x="189" y="139"/>
<use href="#k2g20" x="158" y="139"/>
<use href="#k2g22" x="137" y="139"/>
<use href="#k2g20" x="154" y="139"/>
<use href="#k2g11" x="174" y="140"/>
<use href="#k2g30" x="147" y="140"/>
<use href="#k2g32" x="193" y="140"/>
<use href="#k2g11" x="178" y="140"/>
<use href="#k2g20" x="163" y="140"/>
<use href="#k2g22" x="183" y="140"/>
<use href="#k2g31" x="134" y="140"/>
<use href="#k2g21" x="142" y="141"/>
<use href="#k2g12" x="176" y="143"/>
<use href="#k2g22" x="185" y="143"/>
<use href="#k2g21" x="156" y="144"/>
<use href="#k2g22" x="196" y="144"/>
<use href="#k2g10" x="162" y="144"/>
<use href="#k2g32" x="130" y="144"/>
<use href="#k2g30" x="136" y="144"/>
<use href="#k2g32" x="145" y="144"/>
<use href="#k2g12" x="170" y="145"/>
<use href="#k2g21" x="191" y="145"/>
<use href="#k2g21" x="140" y="145"/>
<use href="#k2g12" x="167" y="145"/>
<use href="#k2g21" x="181" y="145"/>
<use href="#k2g20" x="152" y="145"/>
<use href="#k2g22" x="137" y="147"/>
<use href="#k2g20" x="157" y="148"/>
<use href="#k2g21" x="174" y="148"/>
<use href="#k2g21" x="194" y="148"/>
<use href="#k2g32" x="134" y="148"/>
<use href="#k2g20" x="153" y="148"/>
<use href="#k2g21" x="147" y="148"/>
<use href="#k2g20" x="183" y="148"/>
<use href="#k2g21" x="189" y="148"/>
<use href="#k2g20" x="164" y="148"/>
<use href="#k2g21" x="144" y="148"/>
<use href="#k2g20" x="178" y="148"/>
<use href="#k2g11" x="169" y="149"/>
<use href="#k2g20" x="128" y="149"/>
<use href="#k2g20" x="140" y="152"/>
<use href="#k2g22" x="186" y="152"/>
<use href="#k2g21" x="191" y="152"/>
<use href="#k2g20" x="180" y="152"/>
<use href="#k2g22" x="156" y="153"/>
<use href="#k2g30" x="130" y="153"/>
<use href="#k2g22" x="146" y="153"/>
<use href="#k2g11" x="167" y="153"/>
<use href="#k2g21" x="177" y="153"/>
<use href="#k2g21" x="136" y="153"/>
<use href="#k2g22" x="150" y="153"/>
<use href="#k2g22" x="170" y="153"/>
<use href="#k2g20" x="196" y="154"/>
<use href="#k2g22" x="162" y="154"/>
<use href="#k2g31" x="125" y="154"/>
<use href="#k2g21" x="194" y="156"/>
<use href="#k2g10" x="144" y="156"/>
<use href="#k2g20" x="173" y="156"/>
<use href="#k2g22" x="179" y="156"/>
<use href="#k2g22" x="133" y="157"/>
<use href="#k2g20" x="139" y="157"/>
<use href="#k2g21" x="183" y="157"/>
<use href="#k2g22" x="129" y="157"/>
<use href="#k2g22" x="124" y="157"/>
<use href="#k2g22" x="188" y="157"/>
<use href="#k2g10" x="153" y="158"/>
<use href="#k2g20" x="169" y="158"/>
<use href="#k2g10" x="159" y="158"/>
<use href="#k2g20" x="163" y="158"/>
<use href="#k2g10" x="148" y="158"/>
<use href="#k2g20" x="166" y="161"/>
<use href="#k2g21" x="181" y="161"/>
<use href="#k2g22" x="121" y="161"/>
<use href="#k2g21" x="126" y="161"/>
<use href="#k2g20" x="132" y="161"/>
<use href="#k2g20" x="171" y="161"/>
<use href="#k2g20" x="145" y="162"/>
<use href="#k2g22" x="190" y="162"/>
<use href="#k2g21" x="177" y="162"/>
<use href="#k2g20" x="186" y="162"/>
<use href="#k2g10" x="157" y="162"/>
<use href="#k2g22" x="151" y="162"/>
<use href="#k2g21" x="136" y="162"/>
<use href="#k2g20" x="162" y="162"/>
<use href="#k2g20" x="142" y="162"/>
<use href="#k2g21" x="196" y="162"/>
<use href="#k2g22" x="138" y="165"/>
<use href="#k2g32" x="123" y="165"/>
<use href="#k2g21" x="164" y="165"/>
<use href="#k2g20" x="179" y="165"/>
<use href="#k2g21" x="143" y="165"/>
<use href="#k2g31" x="193" y="165"/>
<use href="#k2g20" x="153" y="166"/>
<use href="#k2g21" x="174" y="166"/>
<use href="#k2g20" x="158" y="166"/>
<use href="#k2g31" x="118" y="166"/>
<use href="#k2g31" x="184" y="166"/>
<use href="#k2g32" x="187" y="166"/>
<use href="#k2g22" x="168" y="167"/>
<use href="#k2g31" x="134" y="167"/>
<use href="#k2g21" x="128" y="167"/>
<use href="#k2g32" x="148" y="167"/>
<use href="#k2g21" x="156" y="169"/>
<use href="#k2g22" x="165" y="169"/>
<use href="#k2g32" x="191" y="169"/>
<use href="#k2g22" x="145" y="169"/>
<use href="#k2g32" x="185" y="169"/>
<use href="#k2g20" x="160" y="170"/>
<use href="#k2g31" x="180" y="170"/>
<use href="#k2g20" x="176" y="170"/>
<use href="#k2g31" x="132" y="170"/>
<use href="#k2g31" x="196" y="170"/>
<use href="#k2g32" x="135" y="170"/>
<use href="#k2g22" x="171" y="171"/>
<use href="#k2g22" x="127" y="171"/>
<use href="#k2g30" x="121" y="171"/>
<use href="#k2g30" x="115" y="171"/>
<use href="#k2g31" x="151" y="171"/>
<use href="#k2g31" x="141" y="171"/>
<use href="#k2g30" x="133" y="174"/>
<use href="#k2g21" x="167" y="174"/>
<use href="#k2g31" x="183" y="174"/>
<use href="#k2g22" x="143" y="174"/>
<use href="#k2g22" x="148" y="174"/>
<use href="#k2g20" x="187" y="174"/>
<use href="#k2g32" x="124" y="174"/>
<use href="#k2g21" x="179" y="174"/>
<use href="#k2g31" x="119" y="175"/>
<use href="#k2g32" x="192" y="175"/>
<use href="#k2g21" x="163" y="175"/>
<use href="#k2g32" x="173" y="175"/>
<use href="#k2g20" x="158" y="175"/>
<use href="#k2g32" x="138" y="175"/>
<use href="#k2g21" x="154" y="175"/>
<use href="#k2g31" x="129" y="175"/>
<use href="#k2g20" x="191" y="178"/>
<use href="#k2g21" x="137" y="178"/>
<use href="#k2g30" x="120" y="178"/>
<use href="#k2g32" x="171" y="178"/>
<use href="#k2g31" x="131" y="178"/>
<use href="#k2g20" x="155" y="178"/>
<use href="#k2g32" x="195" y="178"/>
<use href="#k2g20" x="176" y="178"/>
<use href="#k2g32" x="181" y="178"/>
<use href="#k2g30" x="165" y="178"/>
<use href="#k2g22" x="186" y="179"/>
<use href="#k2g20" x="146" y="179"/>
<use href="#k2g21" x="161" y="179"/>
<use href="#k2g21" x="141" y="179"/>
<use href="#k2g30" x="127" y="179"/>
<use href="#k2g20" x="150" y="180"/>
<use href="#k2g30" x="134" y="182"/>
<use href="#k2g22" x="193" y="182"/>
<use href="#k2g20" x="162" y="182"/>
<use href="#k2g22" x="169" y="182"/>
<use href="#k2g21" x="147" y="183"/>
<use href="#k2g32" x="128" y="183"/>
<use href="#k2g30" x="137" y="183"/>
<use href="#k2g32" x="182" y="183"/>
<use href="#k2g31" x="173" y="184"/>
<use href="#k2g30" x="177" y="184"/>
<use href="#k2g31" x="123" y="184"/>
<use href="#k2g22" x="144" y="184"/>
<use href="#k2g20" x="158" y="184"/>
<use href="#k2g20" x="189" y="184"/>
<use href="#k2g21" x="154" y="184"/>
<use href="#k2g32" x="162" y="186"/>
<use href="#k2g20" x="165" y="186"/>
<use href="#k2g21" x="186" y="187"/>
<use href="#k2g31" x="136" y="187"/>
<use href="#k2g21" x="141" y="187"/>
<use href="#k2g30" x="146" y="187"/>
<use href="#k2g22" x="155" y="187"/>
<use href="#k2g21" x="170" y="187"/>
<use href="#k2g21" x="152" y="188"/>
<use href="#k2g30" x="195" y="188"/>
<use href="#k2g22" x="190" y="188"/>
<use href="#k2g30" x="175" y="188"/>
<use href="#k2g32" x="131" y="188"/>
<use href="#k2g30" x="181" y="188"/>
<use href="#k2g20" x="163" y="191"/>
<use href="#k2g20" x="142" y="191"/>
<use href="#k2g30" x="174" y="191"/>
<use href="#k2g22" x="153" y="191"/>
<use href="#k2g30" x="129" y="191"/>
<use href="#k2g31" x="184" y="191"/>
<use href="#k2g22" x="139" y="192"/>
<use href="#k2g21" x="159" y="192"/>
<use href="#k2g20" x="148" y="192"/>
<use href="#k2g31" x="179" y="192"/>
<use href="#k2g31" x="134" y="192"/>
<use href="#k2g30" x="188" y="192"/>
<use href="#k2g20" x="169" y="193"/>
<use href="#k2g21" x="193" y="193"/>
<use href="#k2g31" x="180" y="195"/>
<use href="#k2g21" x="140" y="195"/>
<use href="#k2g20" x="145" y="196"/>
<use href="#k2g21" x="171" y="196"/>
<use href="#k2g30" x="137" y="196"/>
<use href="#k2g30" x="186" y="196"/>
<use href="#k2g10" x="151" y="196"/>
<use href="#k2g22" x="156" y="196"/>
<use href="#k2g31" x="131" y="196"/>
<use href="#k2g32" x="191" y="197"/>
<use href="#k2g20" x="195" y="197"/>
<use href="#k2g20" x="166" y="197"/>
<use href="#k2g32" x="177" y="197"/>
<use href="#k2g21" x="161" y="197"/>
<use href="#k2g30" x="133" y="199"/>
<use href="#k2g22" x="159" y="200"/>
<use href="#k2g21" x="137" y="200"/>
<use href="#k2g20" x="147" y="200"/>
<use href="#k2g20" x="169" y="200"/>
<use href="#k2g22" x="189" y="200"/>
<use href="#k2g22" x="144" y="200"/>
<use href="#k2g32" x="194" y="200"/>
<use href="#k2g20" x="173" y="200"/>
<use href="#k2g22" x="154" y="201"/>
<use href="#k2g32" x="184" y="201"/>
<use href="#k2g20" x="178" y="201"/>
<use href="#k2g21" x="164" y="201"/>
<use href="#k2g32" x="190" y="204"/>
<use href="#k2g20" x="165" y="204"/>
<use href="#k2g32" x="171" y="204"/>
<use href="#k2g22" x="175" y="204"/>
<use href="#k2g21" x="136" y="204"/>
<use href="#k2g32" x="186" y="204"/>
<use href="#k2g21" x="196" y="205"/>
<use href="#k2g21" x="141" y="205"/>
<use href="#k2g22" x="181" y="205"/>
<use href="#k2g21" x="161" y="205"/>
<use href="#k2g22" x="147" y="205"/>
<use href="#k2g11" x="156" y="206"/>
<use href="#k2g21" x="150" y="206"/>
<use href="#k2g10" x="153" y="208"/>
<use href="#k2g22" x="138" y="208"/>
<use href="#k2g30" x="184" y="208"/>
<use href="#k2g30" x="188" y="208"/>
<use href="#k2g11" x="158" y="208"/>
<use href="#k2g22" x="172" y="209"/>
<use href="#k2g21" x="179" y="209"/>
<use href="#k2g22" x="143" y="209"/>
<use href="#k2g31" x="168" y="209"/>
<use href="#k2g22" x="134" y="209"/>
<use href="#k2g22" x="149" y="210"/>
<use href="#k2g20" x="193" y="210"/>
<use href="#k2g21" x="164" y="210"/>
<use href="#k2g21" x="136" y="212"/>
<use href="#k2g21" x="186" y="213"/>
<use href="#k2g20" x="141" y="213"/>
<use href="#k2g30" x="176" y="213"/>
<use href="#k2g21" x="151" y="213"/>
<use href="#k2g32" x="166" y="213"/>
<use href="#k2g20" x="190" y="213"/>
<use href="#k2g21" x="160" y="213"/>
<use href="#k2g30" x="171" y="214"/>
<use href="#k2g31" x="182" y="214"/>
<use href="#k2g11" x="157" y="214"/>
<use href="#k2g12" x="147" y="214"/>
<use href="#k2g31" x="187" y="217"/>
<use href="#k2g21" x="137" y="217"/>
<use href="#k2g21" x="144" y="217"/>
<use href="#k2g20" x="133" y="217"/>
<use href="#k2g22" x="194" y="217"/>
<use href="#k2g11" x="157" y="217"/>
<use href="#k2g32" x="173" y="217"/>
<use href="#k2g22" x="168" y="218"/>
<use href="#k2g20" x="183" y="218"/>
<use href="#k2g31" x="178" y="218"/>
<use href="#k2g20" x="163" y="218"/>
<use href="#k2g20" x="148" y="218"/>
<use href="#k2g11" x="154" y="219"/>
<use href="#k2g21" x="197" y="221"/>
<use href="#k2g22" x="156" y="221"/>
<use href="#k2g21" x="166" y="222"/>
<use href="#k2g22" x="140" y="222"/>
<use href="#k2g10" x="150" y="222"/>
<use href="#k2g30" x="176" y="222"/>
<use href="#k2g31" x="186" y="222"/>
<use href="#k2g32" x="180" y="222"/>
<use href="#k2g20" x="135" y="222"/>
<use href="#k2g21" x="160" y="222"/>
<use href="#k2g30" x="190" y="222"/>
<use href="#k2g21" x="170" y="223"/>
<use href="#k2g12" x="147" y="223"/>
<use href="#k2g22" x="164" y="226"/>
<use href="#k2g22" x="144" y="226"/>
<use href="#k2g12" x="153" y="226"/>
<use href="#k2g11" x="147" y="226"/>
<use href="#k2g22" x="157" y="226"/>
<use href="#k2g21" x="194" y="226"/>
<use href="#k2g22" x="139" y="227"/>
<use href="#k2g30" x="174" y="227"/>
<use href="#k2g20" x="167" y="227"/>
<use href="#k2g30" x="188" y="227"/>
<use href="#k2g21" x="178" y="227"/>
<use href="#k2g32" x="183" y="227"/>
<use href="#k2g22" x="187" y="230"/>
<use href="#k2g12" x="156" y="230"/>
<use href="#k2g22" x="165" y="230"/>
<use href="#k2g20" x="190" y="230"/>
<use href="#k2g22" x="170" y="230"/>
<use href="#k2g10" x="146" y="230"/>
<use href="#k2g20" x="160" y="230"/>
<use href="#k2g31" x="177" y="231"/>
<use href="#k2g32" x="180" y="231"/>
<use href="#k2g21" x="195" y="231"/>
<use href="#k2g12" x="141" y="231"/>
<use href="#k2g11" x="150" y="231"/>
<use href="#k2g21" x="142" y="234"/>
<use href="#k2g21" x="173" y="234"/>
<use href="#k2g22" x="169" y="234"/>
<use href="#k2g20" x="193" y="234"/>
<use href="#k2g12" x="158" y="235"/>
<use href="#k2g20" x="182" y="235"/>
<use href="#k2g21" x="179" y="235"/>
<use href="#k2g22" x="187" y="235"/>
<use href="#k2g22" x="163" y="235"/>
<use href="#k2g10" x="153" y="235"/>
<use href="#k2g10" x="148" y="236"/>
<use href="#k2g21" x="170" y="239"/>
<use href="#k2g11" x="195" y="239"/>
<use href="#k2g11" x="150" y="239"/>
<use href="#k2g21" x="186" y="239"/>
<use href="#k2g10" x="145" y="239"/>
<use href="#k2g22" x="167" y="239"/>
<use href="#k2g12" x="161" y="239"/>
<use href="#k2g22" x="181" y="240"/>
<use href="#k2g12" x="192" y="240"/>
<use href="#k2g11" x="156" y="240"/>
<use href="#k2g22" x="175" y="240"/>
<use href="#k2g12" x="194" y="243"/>
<use href="#k2g11" x="163" y="243"/>
<use href="#k2g11" x="188" y="243"/>
<use href="#k2g11" x="184" y="243"/>
<use href="#k2g12" x="153" y="244"/>
<use href="#k2g12" x="159" y="244"/>
<use href="#k2g21" x="173" y="244"/>
<use href="#k2g20" x="177" y="244"/>
<use href="#k2g21" x="168" y="244"/>
<use href="#k2g20" x="161" y="247"/>
<use href="#k2g10" x="185" y="247"/>
<use href="#k2g20" x="190" y="247"/>
<use href="#k2g21" x="175" y="247"/>
<use href="#k2g22" x="180" y="248"/>
<use href="#k2g22" x="166" y="249"/>
<use href="#k2g20" x="155" y="249"/>
<use href="#k2g20" x="170" y="249"/>
<use href="#k2g12" x="184" y="252"/>
<use href="#k2g20" x="173" y="252"/>
<use href="#k2g20" x="167" y="252"/>
<use href="#k2g20" x="178" y="252"/>
</g>
<defs><circle id="k3y10" r="4.30" class="y1"/></defs>
<defs><circle id="k3y11" r="4.70" class="y1"/></defs>
<defs><circle id="k3y12" r="5.10" class="y1"/></defs>
<defs><circle id="k3y20" r="4.30" class="y2"/></defs>
<defs><circle id="k3y21" r="4.70" class="y2"/></defs>
<defs><circle id="k3y22" r="5.10" class="y2"/></defs>
<defs><circle id="k3y30" r="4.30" class="y3"/></defs>
<defs><circle id="k3y31" r="4.70" class="y3"/></defs>
<defs><circle id="k3y32" r="5.10" class="y3"/></defs>
<clipPath id="k3"><rect x="186" y="0" width="400" height="400"/></clipPath>
<g clip-path="url(#k3)">
<path d="M199.72,49.16 C202.13,46.16 208.51,51.67 213.02,54.87 C217.52,58.07 222.22,65.91 226.77,68.35 C231.33,70.78 236.24,70.78 240.35,69.47 C244.45,68.16 246.12,62.17 251.39,60.48 C256.66,58.8 265.93,57.68 271.98,59.36 C278.04,61.05 282.83,66.08 287.71,70.59 C292.59,75.1 296.38,81.51 301.28,86.41 C306.18,91.31 314.84,94.71 317.1,99.98 C319.36,105.26 313.73,112.78 314.85,118.05 C315.98,123.32 321.78,125.97 323.84,131.62 C325.9,137.27 327.21,145.16 327.21,151.93 C327.21,158.7 325.52,165.85 323.84,172.24 C322.15,178.64 319.34,183.91 317.1,190.31 C314.85,196.7 314.13,204.99 310.36,210.62 C306.58,216.25 300.09,219.96 294.45,224.1 C288.8,228.23 283.23,232.6 276.48,235.42 C269.72,238.25 261.45,241.04 253.92,241.04 C246.38,241.04 238.05,237.12 231.27,235.42 C224.48,233.72 217.71,232.72 213.2,230.84 C208.69,228.95 206.09,229.35 204.22,224.1 C202.34,218.84 203.86,209.45 201.97,199.29 C200.08,189.14 194.59,174.83 192.89,163.16 C191.19,151.49 190.63,138.31 191.77,129.28 C192.91,120.25 198.59,118.38 199.72,108.97 C200.86,99.56 198.6,82.81 198.6,72.84 C198.6,62.87 197.32,52.15 199.72,49.16Z" fill="#4a4a00"/>
<use href="#k3y10" x="208" y="54"/>
<use href="#k3y22" x="214" y="55"/>
<use href="#k3y11" x="200" y="55"/>
<use href="#k3y21" x="270" y="60"/>
<use href="#k3y21" x="210" y="60"/>
<use href="#k3y20" x="258" y="60"/>
<use href="#k3y32" x="219" y="61"/>
<use href="#k3y22" x="264" y="61"/>
<use href="#k3y21" x="248" y="61"/>
<use href="#k3y21" x="202" y="62"/>
<use href="#k3y20" x="279" y="62"/>
<use href="#k3y21" x="197" y="62"/>
<use href="#k3y20" x="252" y="65"/>
<use href="#k3y32" x="223" y="66"/>
<use href="#k3y32" x="244" y="66"/>
<use href="#k3y32" x="216" y="66"/>
<use href="#k3y32" x="238" y="66"/>
<use href="#k3y20" x="284" y="66"/>
<use href="#k3y20" x="260" y="67"/>
<use href="#k3y21" x="198" y="67"/>
<use href="#k3y32" x="275" y="68"/>
<use href="#k3y22" x="229" y="68"/>
<use href="#k3y21" x="266" y="68"/>
<use href="#k3y21" x="207" y="68"/>
<use href="#k3y21" x="288" y="72"/>
<use href="#k3y20" x="220" y="72"/>
<use href="#k3y22" x="211" y="72"/>
<use href="#k3y32" x="240" y="73"/>
<use href="#k3y21" x="280" y="73"/>
<use href="#k3y22" x="205" y="73"/>
<use href="#k3y31" x="233" y="73"/>
<use href="#k3y20" x="271" y="74"/>
<use href="#k3y22" x="197" y="74"/>
<use href="#k3y22" x="248" y="74"/>
<use href="#k3y20" x="256" y="74"/>
<use href="#k3y21" x="263" y="75"/>
<use href="#k3y20" x="226" y="75"/>
<use href="#k3y12" x="275" y="79"/>
<use href="#k3y12" x="289" y="79"/>
<use href="#k3y22" x="259" y="79"/>
<use href="#k3y21" x="215" y="79"/>
<use href="#k3y10" x="208" y="79"/>
<use href="#k3y22" x="239" y="79"/>
<use href="#k3y21" x="267" y="79"/>
<use href="#k3y22" x="245" y="80"/>
<use href="#k3y10" x="282" y="80"/>
<use href="#k3y22" x="201" y="80"/>
<use href="#k3y20" x="230" y="81"/>
<use href="#k3y20" x="300" y="81"/>
<use href="#k3y20" x="251" y="81"/>
<use href="#k3y21" x="222" y="81"/>
<use href="#k3y11" x="211" y="85"/>
<use href="#k3y11" x="226" y="86"/>
<use href="#k3y10" x="289" y="86"/>
<use href="#k3y11" x="219" y="86"/>
<use href="#k3y12" x="295" y="86"/>
<use href="#k3y22" x="241" y="86"/>
<use href="#k3y22" x="247" y="87"/>
<use href="#k3y11" x="258" y="87"/>
<use href="#k3y12" x="205" y="87"/>
<use href="#k3y20" x="301" y="87"/>
<use href="#k3y11" x="264" y="87"/>
<use href="#k3y10" x="272" y="88"/>
<use href="#k3y22" x="235" y="88"/>
<use href="#k3y20" x="280" y="88"/>
<use href="#k3y20" x="239" y="92"/>
<use href="#k3y10" x="216" y="92"/>
<use href="#k3y12" x="266" y="92"/>
<use href="#k3y12" x="284" y="92"/>
<use href="#k3y20" x="299" y="92"/>
<use href="#k3y20" x="252" y="93"/>
<use href="#k3y11" x="223" y="93"/>
<use href="#k3y20" x="244" y="93"/>
<use href="#k3y22" x="307" y="94"/>
<use href="#k3y22" x="292" y="94"/>
<use href="#k3y21" x="229" y="94"/>
<use href="#k3y12" x="259" y="94"/>
<use href="#k3y20" x="200" y="94"/>
<use href="#k3y11" x="276" y="95"/>
<use href="#k3y21" x="207" y="95"/>
<use href="#k3y11" x="318" y="98"/>
<use href="#k3y22" x="256" y="99"/>
<use href="#k3y21" x="219" y="99"/>
<use href="#k3y20" x="242" y="99"/>
<use href="#k3y21" x="295" y="99"/>
<use href="#k3y12" x="270" y="99"/>
<use href="#k3y21" x="203" y="99"/>
<use href="#k3y12" x="234" y="100"/>
<use href="#k3y22" x="249" y="100"/>
<use href="#k3y12" x="265" y="100"/>
<use href="#k3y12" x="287" y="100"/>
<use href="#k3y12" x="279" y="101"/>
<use href="#k3y21" x="212" y="101"/>
<use href="#k3y22" x="301" y="101"/>
<use href="#k3y22" x="225" y="101"/>
<use href="#k3y21" x="309" y="101"/>
<use href="#k3y32" x="206" y="105"/>
<use href="#k3y10" x="297" y="105"/>
<use href="#k3y11" x="292" y="105"/>
<use href="#k3y31" x="223" y="106"/>
<use href="#k3y22" x="215" y="106"/>
<use href="#k3y10" x="253" y="106"/>
<use href="#k3y22" x="246" y="106"/>
<use href="#k3y11" x="307" y="106"/>
<use href="#k3y20" x="232" y="106"/>
<use href="#k3y12" x="259" y="107"/>
<use href="#k3y20" x="276" y="107"/>
<use href="#k3y12" x="268" y="107"/>
<use href="#k3y30" x="201" y="107"/>
<use href="#k3y11" x="315" y="107"/>
<use href="#k3y12" x="236" y="108"/>
<use href="#k3y21" x="282" y="108"/>
<use href="#k3y12" x="257" y="111"/>
<use href="#k3y20" x="250" y="112"/>
<use href="#k3y12" x="265" y="112"/>
<use href="#k3y12" x="279" y="112"/>
<use href="#k3y11" x="240" y="112"/>
<use href="#k3y12" x="302" y="112"/>
<use href="#k3y10" x="271" y="113"/>
<use href="#k3y11" x="309" y="113"/>
<use href="#k3y10" x="235" y="113"/>
<use href="#k3y32" x="210" y="113"/>
<use href="#k3y10" x="288" y="113"/>
<use href="#k3y12" x="295" y="113"/>
<use href="#k3y32" x="197" y="114"/>
<use href="#k3y31" x="218" y="114"/>
<use href="#k3y22" x="225" y="114"/>
<use href="#k3y31" x="203" y="115"/>
<use href="#k3y21" x="260" y="118"/>
<use href="#k3y20" x="298" y="118"/>
<use href="#k3y31" x="221" y="119"/>
<use href="#k3y12" x="313" y="119"/>
<use href="#k3y21" x="252" y="120"/>
<use href="#k3y21" x="269" y="120"/>
<use href="#k3y22" x="237" y="120"/>
<use href="#k3y22" x="307" y="120"/>
<use href="#k3y21" x="216" y="120"/>
<use href="#k3y20" x="200" y="120"/>
<use href="#k3y22" x="208" y="121"/>
<use href="#k3y22" x="290" y="121"/>
<use href="#k3y20" x="246" y="121"/>
<use href="#k3y20" x="230" y="121"/>
<use href="#k3y31" x="193" y="121"/>
<use href="#k3y12" x="276" y="121"/>
<use href="#k3y11" x="283" y="121"/>
<use href="#k3y21" x="273" y="125"/>
<use href="#k3y21" x="295" y="125"/>
<use href="#k3y31" x="264" y="126"/>
<use href="#k3y22" x="212" y="126"/>
<use href="#k3y32" x="309" y="126"/>
<use href="#k3y20" x="218" y="127"/>
<use href="#k3y20" x="302" y="127"/>
<use href="#k3y20" x="196" y="127"/>
<use href="#k3y22" x="287" y="127"/>
<use href="#k3y20" x="204" y="127"/>
<use href="#k3y21" x="258" y="127"/>
<use href="#k3y21" x="235" y="128"/>
<use href="#k3y20" x="318" y="128"/>
<use href="#k3y21" x="251" y="128"/>
<use href="#k3y22" x="281" y="128"/>
<use href="#k3y22" x="241" y="128"/>
<use href="#k3y20" x="226" y="128"/>
<use href="#k3y32" x="305" y="131"/>
<use href="#k3y21" x="314" y="131"/>
<use href="#k3y21" x="201" y="132"/>
<use href="#k3y21" x="252" y="132"/>
<use href="#k3y31" x="274" y="132"/>
<use href="#k3y21" x="191" y="133"/>
<use href="#k3y10" x="232" y="133"/>
<use href="#k3y32" x="267" y="133"/>
<use href="#k3y32" x="320" y="133"/>
<use href="#k3y20" x="290" y="133"/>
<use href="#k3y31" x="300" y="133"/>
<use href="#k3y11" x="213" y="134"/>
<use href="#k3y20" x="221" y="134"/>
<use href="#k3y22" x="238" y="134"/>
<use href="#k3y30" x="260" y="134"/>
<use href="#k3y10" x="208" y="134"/>
<use href="#k3y10" x="243" y="134"/>
<use href="#k3y12" x="284" y="134"/>
<use href="#k3y12" x="226" y="138"/>
<use href="#k3y32" x="263" y="138"/>
<use href="#k3y22" x="240" y="138"/>
<use href="#k3y32" x="318" y="138"/>
<use href="#k3y11" x="195" y="138"/>
<use href="#k3y22" x="326" y="139"/>
<use href="#k3y21" x="217" y="139"/>
<use href="#k3y20" x="302" y="139"/>
<use href="#k3y31" x="310" y="139"/>
<use href="#k3y22" x="247" y="139"/>
<use href="#k3y12" x="210" y="139"/>
<use href="#k3y22" x="288" y="140"/>
<use href="#k3y22" x="273" y="140"/>
<use href="#k3y21" x="203" y="140"/>
<use href="#k3y20" x="255" y="140"/>
<use href="#k3y20" x="295" y="140"/>
<use href="#k3y22" x="232" y="140"/>
<use href="#k3y21" x="278" y="141"/>
<use href="#k3y12" x="245" y="144"/>
<use href="#k3y21" x="267" y="145"/>
<use href="#k3y21" x="297" y="145"/>
<use href="#k3y32" x="321" y="145"/>
<use href="#k3y31" x="229" y="145"/>
<use href="#k3y21" x="198" y="145"/>
<use href="#k3y20" x="314" y="145"/>
<use href="#k3y22" x="274" y="146"/>
<use href="#k3y22" x="222" y="146"/>
<use href="#k3y21" x="284" y="146"/>
<use href="#k3y21" x="254" y="147"/>
<use href="#k3y20" x="260" y="147"/>
<use href="#k3y22" x="194" y="147"/>
<use href="#k3y31" x="236" y="147"/>
<use href="#k3y11" x="307" y="147"/>
<use href="#k3y30" x="207" y="147"/>
<use href="#k3y10" x="291" y="147"/>
<use href="#k3y20" x="216" y="148"/>
<use href="#k3y20" x="317" y="151"/>
<use href="#k3y21" x="309" y="151"/>
<use href="#k3y22" x="280" y="151"/>
<use href="#k3y21" x="227" y="151"/>
<use href="#k3y21" x="249" y="151"/>
<use href="#k3y10" x="263" y="151"/>
<use href="#k3y20" x="202" y="152"/>
<use href="#k3y32" x="219" y="152"/>
<use href="#k3y21" x="197" y="152"/>
<use href="#k3y20" x="234" y="153"/>
<use href="#k3y11" x="257" y="153"/>
<use href="#k3y22" x="271" y="153"/>
<use href="#k3y31" x="213" y="153"/>
<use href="#k3y21" x="324" y="153"/>
<use href="#k3y11" x="286" y="154"/>
<use href="#k3y20" x="296" y="154"/>
<use href="#k3y10" x="302" y="154"/>
<use href="#k3y20" x="241" y="154"/>
<use href="#k3y20" x="321" y="158"/>
<use href="#k3y31" x="215" y="158"/>
<use href="#k3y22" x="236" y="158"/>
<use href="#k3y20" x="246" y="158"/>
<use href="#k3y10" x="284" y="158"/>
<use href="#k3y22" x="254" y="158"/>
<use href="#k3y22" x="207" y="158"/>
<use href="#k3y21" x="259" y="159"/>
<use href="#k3y21" x="307" y="159"/>
<use href="#k3y21" x="314" y="159"/>
<use href="#k3y22" x="290" y="159"/>
<use href="#k3y12" x="275" y="159"/>
<use href="#k3y21" x="193" y="160"/>
<use href="#k3y22" x="298" y="160"/>
<use href="#k3y30" x="200" y="160"/>
<use href="#k3y22" x="327" y="160"/>
<use href="#k3y11" x="228" y="160"/>
<use href="#k3y21" x="223" y="161"/>
<use href="#k3y12" x="267" y="161"/>
<use href="#k3y12" x="279" y="164"/>
<use href="#k3y22" x="219" y="164"/>
<use href="#k3y20" x="195" y="164"/>
<use href="#k3y22" x="227" y="164"/>
<use href="#k3y10" x="326" y="165"/>
<use href="#k3y22" x="311" y="165"/>
<use href="#k3y12" x="317" y="165"/>
<use href="#k3y22" x="295" y="166"/>
<use href="#k3y22" x="249" y="166"/>
<use href="#k3y22" x="232" y="166"/>
<use href="#k3y20" x="265" y="166"/>
<use href="#k3y21" x="273" y="167"/>
<use href="#k3y20" x="288" y="167"/>
<use href="#k3y21" x="211" y="167"/>
<use href="#k3y22" x="303" y="167"/>
<use href="#k3y30" x="255" y="167"/>
<use href="#k3y20" x="241" y="167"/>
<use href="#k3y20" x="203" y="167"/>
<use href="#k3y11" x="231" y="171"/>
<use href="#k3y21" x="300" y="171"/>
<use href="#k3y22" x="246" y="171"/>
<use href="#k3y12" x="224" y="171"/>
<use href="#k3y22" x="253" y="172"/>
<use href="#k3y21" x="292" y="172"/>
<use href="#k3y21" x="285" y="172"/>
<use href="#k3y20" x="260" y="172"/>
<use href="#k3y20" x="201" y="172"/>
<use href="#k3y22" x="320" y="172"/>
<use href="#k3y22" x="275" y="173"/>
<use href="#k3y21" x="307" y="173"/>
<use href="#k3y10" x="213" y="173"/>
<use href="#k3y21" x="267" y="173"/>
<use href="#k3y22" x="238" y="173"/>
<use href="#k3y21" x="315" y="174"/>
<use href="#k3y10" x="208" y="174"/>
<use href="#k3y22" x="264" y="177"/>
<use href="#k3y10" x="211" y="178"/>
<use href="#k3y21" x="279" y="178"/>
<use href="#k3y30" x="318" y="178"/>
<use href="#k3y21" x="203" y="178"/>
<use href="#k3y21" x="288" y="178"/>
<use href="#k3y22" x="304" y="178"/>
<use href="#k3y20" x="249" y="178"/>
<use href="#k3y10" x="219" y="178"/>
<use href="#k3y21" x="235" y="178"/>
<use href="#k3y22" x="240" y="179"/>
<use href="#k3y21" x="272" y="179"/>
<use href="#k3y22" x="255" y="179"/>
<use href="#k3y20" x="296" y="179"/>
<use href="#k3y21" x="311" y="180"/>
<use href="#k3y10" x="225" y="180"/>
<use href="#k3y20" x="223" y="184"/>
<use href="#k3y12" x="322" y="184"/>
<use href="#k3y10" x="208" y="185"/>
<use href="#k3y21" x="312" y="185"/>
<use href="#k3y20" x="282" y="185"/>
<use href="#k3y20" x="307" y="185"/>
<use href="#k3y20" x="245" y="185"/>
<use href="#k3y20" x="237" y="186"/>
<use href="#k3y31" x="267" y="186"/>
<use href="#k3y20" x="201" y="186"/>
<use href="#k3y20" x="261" y="186"/>
<use href="#k3y21" x="275" y="186"/>
<use href="#k3y20" x="216" y="187"/>
<use href="#k3y20" x="290" y="187"/>
<use href="#k3y21" x="299" y="187"/>
<use href="#k3y22" x="253" y="187"/>
<use href="#k3y22" x="231" y="187"/>
<use href="#k3y22" x="272" y="191"/>
<use href="#k3y12" x="204" y="191"/>
<use href="#k3y10" x="258" y="191"/>
<use href="#k3y21" x="278" y="191"/>
<use href="#k3y10" x="316" y="191"/>
<use href="#k3y21" x="217" y="192"/>
<use href="#k3y21" x="295" y="192"/>
<use href="#k3y12" x="249" y="192"/>
<use href="#k3y22" x="310" y="192"/>
<use href="#k3y21" x="287" y="192"/>
<use href="#k3y20" x="243" y="192"/>
<use href="#k3y20" x="226" y="193"/>
<use href="#k3y22" x="212" y="193"/>
<use href="#k3y20" x="302" y="193"/>
<use href="#k3y10" x="263" y="194"/>
<use href="#k3y21" x="233" y="194"/>
<use href="#k3y20" x="229" y="197"/>
<use href="#k3y20" x="252" y="197"/>
<use href="#k3y32" x="215" y="198"/>
<use href="#k3y11" x="314" y="198"/>
<use href="#k3y21" x="291" y="198"/>
<use href="#k3y12" x="238" y="198"/>
<use href="#k3y22" x="223" y="198"/>
<use href="#k3y21" x="300" y="198"/>
<use href="#k3y12" x="261" y="198"/>
<use href="#k3y11" x="306" y="198"/>
<use href="#k3y22" x="201" y="199"/>
<use href="#k3y20" x="276" y="199"/>
<use href="#k3y10" x="269" y="199"/>
<use href="#k3y21" x="285" y="200"/>
<use href="#k3y21" x="245" y="200"/>
<use href="#k3y21" x="207" y="200"/>
<use href="#k3y22" x="257" y="204"/>
<use href="#k3y21" x="264" y="204"/>
<use href="#k3y12" x="241" y="204"/>
<use href="#k3y20" x="295" y="204"/>
<use href="#k3y21" x="211" y="204"/>
<use href="#k3y20" x="301" y="204"/>
<use href="#k3y11" x="273" y="205"/>
<use href="#k3y22" x="225" y="205"/>
<use href="#k3y22" x="219" y="205"/>
<use href="#k3y22" x="286" y="205"/>
<use href="#k3y11" x="248" y="206"/>
<use href="#k3y21" x="232" y="206"/>
<use href="#k3y22" x="278" y="206"/>
<use href="#k3y22" x="308" y="207"/>
<use href="#k3y22" x="204" y="207"/>
<use href="#k3y20" x="276" y="210"/>
<use href="#k3y10" x="239" y="211"/>
<use href="#k3y21" x="306" y="211"/>
<use href="#k3y20" x="253" y="211"/>
<use href="#k3y22" x="283" y="211"/>
<use href="#k3y22" x="290" y="211"/>
<use href="#k3y22" x="259" y="211"/>
<use href="#k3y20" x="312" y="211"/>
<use href="#k3y22" x="268" y="212"/>
<use href="#k3y22" x="246" y="212"/>
<use href="#k3y31" x="223" y="212"/>
<use href="#k3y21" x="299" y="213"/>
<use href="#k3y21" x="208" y="213"/>
<use href="#k3y30" x="214" y="213"/>
<use href="#k3y21" x="230" y="213"/>
<use href="#k3y22" x="232" y="217"/>
<use href="#k3y20" x="294" y="217"/>
<use href="#k3y31" x="265" y="219"/>
<use href="#k3y22" x="280" y="219"/>
<use href="#k3y22" x="287" y="219"/>
<use href="#k3y20" x="242" y="219"/>
<use href="#k3y32" x="272" y="219"/>
<use href="#k3y30" x="249" y="219"/>
<use href="#k3y31" x="217" y="219"/>
<use href="#k3y31" x="226" y="219"/>
<use href="#k3y31" x="257" y="220"/>
<use href="#k3y12" x="203" y="220"/>
<use href="#k3y32" x="302" y="220"/>
<use href="#k3y20" x="210" y="220"/>
<use href="#k3y21" x="277" y="223"/>
<use href="#k3y21" x="215" y="223"/>
<use href="#k3y30" x="254" y="223"/>
<use href="#k3y32" x="269" y="224"/>
<use href="#k3y22" x="238" y="224"/>
<use href="#k3y20" x="230" y="225"/>
<use href="#k3y21" x="245" y="226"/>
<use href="#k3y20" x="291" y="226"/>
<use href="#k3y21" x="260" y="226"/>
<use href="#k3y31" x="222" y="226"/>
<use href="#k3y22" x="208" y="226"/>
<use href="#k3y22" x="282" y="227"/>
<use href="#k3y22" x="287" y="230"/>
<use href="#k3y21" x="235" y="231"/>
<use href="#k3y20" x="212" y="231"/>
<use href="#k3y30" x="226" y="231"/>
<use href="#k3y22" x="257" y="231"/>
<use href="#k3y30" x="218" y="231"/>
<use href="#k3y20" x="279" y="232"/>
<use href="#k3y22" x="266" y="232"/>
<use href="#k3y20" x="250" y="233"/>
<use href="#k3y20" x="242" y="233"/>
<use href="#k3y21" x="273" y="233"/>
<use href="#k3y21" x="230" y="237"/>
<use href="#k3y22" x="252" y="237"/>
<use href="#k3y22" x="237" y="237"/>
<use href="#k3y20" x="277" y="237"/>
<use href="#k3y21" x="269" y="238"/>
<use href="#k3y22" x="247" y="239"/>
<use href="#k3y22" x="261" y="239"/>
<use href="#k3y22" x="255" y="245"/>
<path d="M200.32,50.11 C202.7,47.15 209.01,52.6 213.47,55.76 C217.94,58.93 222.58,66.69 227.09,69.1 C231.6,71.51 236.46,71.51 240.52,70.21 C244.58,68.91 246.23,62.99 251.45,61.32 C256.67,59.65 265.84,58.54 271.83,60.21 C277.82,61.88 282.56,66.86 287.39,71.32 C292.22,75.78 295.97,82.13 300.82,86.98 C305.67,91.82 314.24,95.19 316.47,100.41 C318.71,105.63 313.14,113.07 314.25,118.28 C315.36,123.5 321.11,126.13 323.14,131.71 C325.18,137.3 326.48,145.11 326.48,151.81 C326.48,158.51 324.81,165.58 323.14,171.91 C321.48,178.24 318.7,183.46 316.47,189.79 C314.25,196.12 313.54,204.32 309.8,209.89 C306.07,215.46 299.65,219.14 294.06,223.23 C288.47,227.32 282.96,231.64 276.27,234.44 C269.59,237.23 261.41,239.99 253.95,239.99 C246.5,239.99 238.25,236.12 231.54,234.44 C224.82,232.75 218.12,231.76 213.66,229.9 C209.2,228.03 206.62,228.43 204.77,223.23 C202.92,218.03 204.41,208.73 202.55,198.68 C200.68,188.63 195.24,174.48 193.56,162.93 C191.88,151.38 191.32,138.34 192.45,129.4 C193.58,120.46 199.2,118.61 200.32,109.3 C201.45,99.99 199.21,83.41 199.21,73.55 C199.21,63.68 197.94,53.08 200.32,50.11Z" fill="url(#shadeY)"/>
</g>
<defs><circle id="k4y10" r="4.30" class="y1"/></defs>
<defs><circle id="k4y11" r="4.70" class="y1"/></defs>
<defs><circle id="k4y12" r="5.10" class="y1"/></defs>
<defs><circle id="k4y20" r="4.30" class="y2"/></defs>
<defs><circle id="k4y21" r="4.70" class="y2"/></defs>
<defs><circle id="k4y22" r="5.10" class="y2"/></defs>
<defs><circle id="k4y30" r="4.30" class="y3"/></defs>
<defs><circle id="k4y31" r="4.70" class="y3"/></defs>
<defs><circle id="k4y32" r="5.10" class="y3"/></defs>
<g>
<path d="M357.16,109.27 C358.23,104.57 358.56,99.89 361.46,94.1 C364.36,88.32 371.67,79.99 374.57,74.54 C377.47,69.1 375.99,64.17 378.87,61.44 C381.76,58.71 387.17,58.52 391.88,58.16 C396.59,57.8 402.43,60.55 407.14,59.28 C411.85,58.02 415.44,51.3 420.15,50.58 C424.86,49.86 430.34,53.89 435.41,54.98 C440.48,56.07 445.87,58.22 450.57,57.13 C455.27,56.04 458.51,50.06 463.58,48.43 C468.65,46.79 475.55,46.59 480.99,47.3 C486.43,48.02 491.18,51.09 496.25,52.73 C501.32,54.37 507.07,54.23 511.41,57.13 C515.75,60.03 519.37,65.07 522.27,70.14 C525.17,75.21 525.56,82.12 528.82,87.55 C532.08,92.98 537.85,98 541.83,102.71 C545.81,107.43 549.79,110.37 552.69,115.82 C555.59,121.26 558.15,129.59 559.24,135.38 C560.33,141.17 559.61,143.66 559.24,150.54 C558.87,157.42 558.09,170.87 556.99,176.66 C555.9,182.45 554.5,180.22 552.69,185.27 C550.88,190.32 549.4,201.54 546.14,206.98 C542.88,212.43 538.91,214.66 533.13,217.94 C527.34,221.21 518.65,224.83 511.41,226.64 C504.17,228.45 496.93,227.72 489.7,228.79 C482.46,229.87 473.78,230.21 467.98,233.1 C462.18,235.99 457.42,242.13 454.88,246.11 C452.33,250.09 455.61,254.42 452.72,256.97 C449.84,259.51 443.71,260.27 437.56,261.37 C431.41,262.46 422.01,264.25 415.84,263.52 C409.68,262.79 404.21,260.23 400.59,256.97 C396.97,253.71 396.3,248.65 394.13,243.96 C391.96,239.26 390.84,233.5 387.58,228.79 C384.32,224.08 378.55,220.04 374.57,215.69 C370.59,211.34 365.89,207.02 363.71,202.68 C361.53,198.34 360.75,194.01 361.46,189.67 C362.18,185.33 366.92,181.37 368.02,176.66 C369.11,171.95 369.11,167.2 368.02,161.4 C366.92,155.6 363.63,148.36 361.46,141.84 C359.29,135.32 355.72,127.71 355,122.28 C354.29,116.85 356.08,113.96 357.16,109.27Z" fill="#4a4a00"/>
<use href="#k4y20" x="470" y="44"/>
<use href="#k4y10" x="479" y="45"/>
<use href="#k4y12" x="486" y="46"/>
<use href="#k4y20" x="465" y="46"/>
<use href="#k4y22" x="467" y="50"/>
<use href="#k4y12" x="490" y="50"/>
<use href="#k4y21" x="475" y="51"/>
<use href="#k4y22" x="505" y="51"/>
<use href="#k4y11" x="414" y="51"/>
<use href="#k4y12" x="484" y="52"/>
<use href="#k4y22" x="461" y="52"/>
<use href="#k4y12" x="431" y="52"/>
<use href="#k4y11" x="437" y="53"/>
<use href="#k4y12" x="424" y="53"/>
<use href="#k4y22" x="499" y="53"/>
<use href="#k4y12" x="444" y="53"/>
<use href="#k4y22" x="487" y="57"/>
<use href="#k4y21" x="388" y="57"/>
<use href="#k4y20" x="419" y="57"/>
<use href="#k4y22" x="412" y="57"/>
<use href="#k4y32" x="382" y="57"/>
<use href="#k4y21" x="464" y="58"/>
<use href="#k4y20" x="510" y="58"/>
<use href="#k4y22" x="404" y="58"/>
<use href="#k4y22" x="470" y="58"/>
<use href="#k4y20" x="516" y="59"/>
<use href="#k4y10" x="456" y="59"/>
<use href="#k4y22" x="496" y="59"/>
<use href="#k4y11" x="442" y="59"/>
<use href="#k4y12" x="504" y="59"/>
<use href="#k4y10" x="425" y="59"/>
<use href="#k4y20" x="396" y="59"/>
<use href="#k4y12" x="448" y="60"/>
<use href="#k4y21" x="480" y="60"/>
<use href="#k4y21" x="435" y="60"/>
<use href="#k4y20" x="399" y="63"/>
<use href="#k4y20" x="515" y="63"/>
<use href="#k4y21" x="437" y="63"/>
<use href="#k4y11" x="454" y="64"/>
<use href="#k4y30" x="377" y="64"/>
<use href="#k4y20" x="394" y="64"/>
<use href="#k4y22" x="385" y="64"/>
<use href="#k4y10" x="474" y="64"/>
<use href="#k4y22" x="421" y="64"/>
<use href="#k4y10" x="505" y="64"/>
<use href="#k4y20" x="429" y="65"/>
<use href="#k4y22" x="460" y="65"/>
<use href="#k4y11" x="445" y="65"/>
<use href="#k4y10" x="500" y="65"/>
<use href="#k4y11" x="491" y="66"/>
<use href="#k4y21" x="521" y="66"/>
<use href="#k4y11" x="469" y="66"/>
<use href="#k4y21" x="407" y="66"/>
<use href="#k4y22" x="483" y="66"/>
<use href="#k4y22" x="413" y="66"/>
<use href="#k4y11" x="404" y="70"/>
<use href="#k4y11" x="496" y="70"/>
<use href="#k4y20" x="473" y="70"/>
<use href="#k4y20" x="410" y="70"/>
<use href="#k4y21" x="488" y="71"/>
<use href="#k4y12" x="517" y="71"/>
<use href="#k4y22" x="526" y="71"/>
<use href="#k4y12" x="478" y="71"/>
<use href="#k4y32" x="373" y="71"/>
<use href="#k4y10" x="501" y="71"/>
<use href="#k4y20" x="380" y="71"/>
<use href="#k4y21" x="443" y="71"/>
<use href="#k4y21" x="417" y="72"/>
<use href="#k4y21" x="510" y="72"/>
<use href="#k4y22" x="448" y="72"/>
<use href="#k4y21" x="394" y="72"/>
<use href="#k4y22" x="457" y="72"/>
<use href="#k4y21" x="432" y="72"/>
<use href="#k4y10" x="388" y="72"/>
<use href="#k4y21" x="426" y="72"/>
<use href="#k4y20" x="466" y="73"/>
<use href="#k4y22" x="423" y="76"/>
<use href="#k4y32" x="378" y="76"/>
<use href="#k4y22" x="399" y="77"/>
<use href="#k4y22" x="386" y="77"/>
<use href="#k4y11" x="499" y="78"/>
<use href="#k4y11" x="507" y="78"/>
<use href="#k4y20" x="416" y="78"/>
<use href="#k4y31" x="370" y="78"/>
<use href="#k4y10" x="512" y="78"/>
<use href="#k4y22" x="447" y="78"/>
<use href="#k4y20" x="429" y="79"/>
<use href="#k4y22" x="460" y="79"/>
<use href="#k4y22" x="409" y="79"/>
<use href="#k4y22" x="391" y="79"/>
<use href="#k4y20" x="476" y="79"/>
<use href="#k4y22" x="492" y="79"/>
<use href="#k4y12" x="483" y="79"/>
<use href="#k4y22" x="454" y="79"/>
<use href="#k4y11" x="438" y="79"/>
<use href="#k4y21" x="520" y="79"/>
<use href="#k4y22" x="467" y="80"/>
<use href="#k4y20" x="389" y="83"/>
<use href="#k4y21" x="489" y="83"/>
<use href="#k4y32" x="458" y="83"/>
<use href="#k4y11" x="518" y="83"/>
<use href="#k4y21" x="397" y="83"/>
<use href="#k4y21" x="479" y="84"/>
<use href="#k4y30" x="402" y="84"/>
<use href="#k4y32" x="372" y="84"/>
<use href="#k4y11" x="502" y="84"/>
<use href="#k4y21" x="412" y="84"/>
<use href="#k4y21" x="443" y="85"/>
<use href="#k4y31" x="366" y="85"/>
<use href="#k4y20" x="451" y="85"/>
<use href="#k4y20" x="433" y="85"/>
<use href="#k4y10" x="419" y="85"/>
<use href="#k4y20" x="463" y="85"/>
<use href="#k4y10" x="426" y="85"/>
<use href="#k4y20" x="525" y="86"/>
<use href="#k4y32" x="381" y="86"/>
<use href="#k4y20" x="494" y="86"/>
<use href="#k4y21" x="473" y="86"/>
<use href="#k4y10" x="509" y="86"/>
<use href="#k4y20" x="401" y="90"/>
<use href="#k4y21" x="513" y="90"/>
<use href="#k4y11" x="422" y="90"/>
<use href="#k4y21" x="523" y="91"/>
<use href="#k4y21" x="469" y="91"/>
<use href="#k4y22" x="475" y="91"/>
<use href="#k4y20" x="453" y="91"/>
<use href="#k4y21" x="497" y="91"/>
<use href="#k4y22" x="445" y="91"/>
<use href="#k4y22" x="489" y="91"/>
<use href="#k4y32" x="369" y="91"/>
<use href="#k4y12" x="506" y="92"/>
<use href="#k4y20" x="362" y="92"/>
<use href="#k4y12" x="530" y="92"/>
<use href="#k4y20" x="436" y="92"/>
<use href="#k4y20" x="408" y="92"/>
<use href="#k4y31" x="384" y="92"/>
<use href="#k4y21" x="430" y="92"/>
<use href="#k4y21" x="482" y="92"/>
<use href="#k4y22" x="414" y="92"/>
<use href="#k4y31" x="377" y="92"/>
<use href="#k4y21" x="462" y="93"/>
<use href="#k4y31" x="393" y="93"/>
<use href="#k4y22" x="519" y="96"/>
<use href="#k4y30" x="380" y="96"/>
<use href="#k4y20" x="425" y="96"/>
<use href="#k4y21" x="365" y="96"/>
<use href="#k4y21" x="434" y="96"/>
<use href="#k4y31" x="371" y="96"/>
<use href="#k4y22" x="472" y="97"/>
<use href="#k4y31" x="390" y="97"/>
<use href="#k4y21" x="526" y="97"/>
<use href="#k4y21" x="503" y="97"/>
<use href="#k4y20" x="404" y="97"/>
<use href="#k4y21" x="542" y="97"/>
<use href="#k4y20" x="449" y="97"/>
<use href="#k4y21" x="359" y="97"/>
<use href="#k4y32" x="464" y="98"/>
<use href="#k4y21" x="479" y="98"/>
<use href="#k4y32" x="397" y="98"/>
<use href="#k4y32" x="487" y="98"/>
<use href="#k4y20" x="510" y="98"/>
<use href="#k4y21" x="410" y="98"/>
<use href="#k4y21" x="456" y="98"/>
<use href="#k4y22" x="420" y="98"/>
<use href="#k4y20" x="441" y="99"/>
<use href="#k4y20" x="532" y="99"/>
<use href="#k4y20" x="496" y="99"/>
<use href="#k4y21" x="492" y="103"/>
<use href="#k4y20" x="536" y="103"/>
<use href="#k4y31" x="461" y="103"/>
<use href="#k4y21" x="452" y="103"/>
<use href="#k4y32" x="468" y="103"/>
<use href="#k4y22" x="527" y="103"/>
<use href="#k4y20" x="436" y="103"/>
<use href="#k4y30" x="386" y="103"/>
<use href="#k4y21" x="444" y="104"/>
<use href="#k4y21" x="475" y="104"/>
<use href="#k4y32" x="399" y="104"/>
<use href="#k4y22" x="376" y="104"/>
<use href="#k4y22" x="483" y="104"/>
<use href="#k4y21" x="497" y="104"/>
<use href="#k4y20" x="545" y="104"/>
<use href="#k4y22" x="505" y="104"/>
<use href="#k4y30" x="406" y="104"/>
<use href="#k4y20" x="521" y="105"/>
<use href="#k4y21" x="422" y="105"/>
<use href="#k4y22" x="414" y="105"/>
<use href="#k4y20" x="360" y="105"/>
<use href="#k4y20" x="430" y="105"/>
<use href="#k4y22" x="369" y="105"/>
<use href="#k4y31" x="391" y="105"/>
<use href="#k4y22" x="515" y="106"/>
<use href="#k4y21" x="448" y="109"/>
<use href="#k4y22" x="440" y="109"/>
<use href="#k4y31" x="389" y="110"/>
<use href="#k4y21" x="433" y="110"/>
<use href="#k4y20" x="526" y="110"/>
<use href="#k4y20" x="509" y="111"/>
<use href="#k4y22" x="495" y="111"/>
<use href="#k4y21" x="356" y="111"/>
<use href="#k4y21" x="372" y="111"/>
<use href="#k4y21" x="473" y="111"/>
<use href="#k4y30" x="464" y="111"/>
<use href="#k4y21" x="549" y="111"/>
<use href="#k4y32" x="404" y="111"/>
<use href="#k4y30" x="534" y="111"/>
<use href="#k4y32" x="397" y="112"/>
<use href="#k4y21" x="426" y="112"/>
<use href="#k4y32" x="417" y="112"/>
<use href="#k4y32" x="541" y="112"/>
<use href="#k4y12" x="487" y="112"/>
<use href="#k4y21" x="365" y="112"/>
<use href="#k4y32" x="412" y="112"/>
<use href="#k4y21" x="456" y="112"/>
<use href="#k4y10" x="480" y="112"/>
<use href="#k4y20" x="503" y="112"/>
<use href="#k4y32" x="517" y="112"/>
<use href="#k4y20" x="380" y="112"/>
<use href="#k4y31" x="461" y="116"/>
<use href="#k4y30" x="537" y="116"/>
<use href="#k4y32" x="422" y="116"/>
<use href="#k4y30" x="466" y="116"/>
<use href="#k4y20" x="438" y="116"/>
<use href="#k4y21" x="452" y="116"/>
<use href="#k4y20" x="491" y="117"/>
<use href="#k4y20" x="430" y="117"/>
<use href="#k4y21" x="446" y="117"/>
<use href="#k4y20" x="368" y="117"/>
<use href="#k4y22" x="361" y="117"/>
<use href="#k4y20" x="507" y="117"/>
<use href="#k4y21" x="391" y="117"/>
<use href="#k4y20" x="416" y="117"/>
<use href="#k4y21" x="406" y="117"/>
<use href="#k4y21" x="544" y="118"/>
<use href="#k4y22" x="499" y="118"/>
<use href="#k4y20" x="514" y="118"/>
<use href="#k4y12" x="475" y="118"/>
<use href="#k4y11" x="484" y="118"/>
<use href="#k4y22" x="521" y="118"/>
<use href="#k4y30" x="386" y="118"/>
<use href="#k4y20" x="378" y="118"/>
<use href="#k4y30" x="551" y="118"/>
<use href="#k4y31" x="529" y="118"/>
<use href="#k4y11" x="401" y="119"/>
<use href="#k4y21" x="354" y="119"/>
<use href="#k4y21" x="525" y="123"/>
<use href="#k4y21" x="457" y="123"/>
<use href="#k4y21" x="450" y="123"/>
<use href="#k4y21" x="540" y="123"/>
<use href="#k4y22" x="466" y="123"/>
<use href="#k4y10" x="435" y="123"/>
<use href="#k4y21" x="503" y="123"/>
<use href="#k4y20" x="410" y="123"/>
<use href="#k4y10" x="440" y="124"/>
<use href="#k4y11" x="495" y="124"/>
<use href="#k4y21" x="359" y="124"/>
<use href="#k4y10" x="418" y="124"/>
<use href="#k4y11" x="510" y="124"/>
<use href="#k4y21" x="381" y="124"/>
<use href="#k4y20" x="371" y="124"/>
<use href="#k4y21" x="532" y="124"/>
<use href="#k4y20" x="425" y="124"/>
<use href="#k4y22" x="388" y="125"/>
<use href="#k4y20" x="556" y="125"/>
<use href="#k4y22" x="472" y="125"/>
<use href="#k4y22" x="546" y="125"/>
<use href="#k4y12" x="488" y="125"/>
<use href="#k4y10" x="480" y="125"/>
<use href="#k4y12" x="402" y="125"/>
<use href="#k4y20" x="397" y="125"/>
<use href="#k4y22" x="517" y="125"/>
<use href="#k4y21" x="364" y="126"/>
<use href="#k4y10" x="461" y="129"/>
<use href="#k4y10" x="497" y="129"/>
<use href="#k4y20" x="466" y="129"/>
<use href="#k4y11" x="491" y="129"/>
<use href="#k4y20" x="370" y="130"/>
<use href="#k4y21" x="430" y="130"/>
<use href="#k4y11" x="520" y="130"/>
<use href="#k4y32" x="553" y="130"/>
<use href="#k4y22" x="446" y="130"/>
<use href="#k4y30" x="360" y="130"/>
<use href="#k4y10" x="393" y="130"/>
<use href="#k4y20" x="538" y="130"/>
<use href="#k4y10" x="422" y="130"/>
<use href="#k4y22" x="375" y="130"/>
<use href="#k4y20" x="545" y="131"/>
<use href="#k4y21" x="454" y="131"/>
<use href="#k4y10" x="415" y="131"/>
<use href="#k4y12" x="400" y="131"/>
<use href="#k4y10" x="483" y="131"/>
<use href="#k4y20" x="528" y="131"/>
<use href="#k4y20" x="507" y="131"/>
<use href="#k4y10" x="438" y="132"/>
<use href="#k4y20" x="408" y="132"/>
<use href="#k4y10" x="475" y="132"/>
<use href="#k4y21" x="559" y="132"/>
<use href="#k4y21" x="384" y="132"/>
<use href="#k4y21" x="512" y="132"/>
<use href="#k4y22" x="562" y="136"/>
<use href="#k4y21" x="533" y="136"/>
<use href="#k4y12" x="411" y="136"/>
<use href="#k4y22" x="357" y="136"/>
<use href="#k4y22" x="541" y="136"/>
<use href="#k4y20" x="417" y="136"/>
<use href="#k4y21" x="473" y="136"/>
<use href="#k4y32" x="555" y="136"/>
<use href="#k4y21" x="388" y="136"/>
<use href="#k4y21" x="449" y="136"/>
<use href="#k4y30" x="375" y="136"/>
<use href="#k4y12" x="504" y="137"/>
<use href="#k4y10" x="395" y="137"/>
<use href="#k4y12" x="427" y="137"/>
<use href="#k4y12" x="526" y="137"/>
<use href="#k4y20" x="382" y="137"/>
<use href="#k4y10" x="510" y="137"/>
<use href="#k4y21" x="481" y="137"/>
<use href="#k4y10" x="496" y="137"/>
<use href="#k4y20" x="442" y="137"/>
<use href="#k4y12" x="433" y="138"/>
<use href="#k4y21" x="516" y="138"/>
<use href="#k4y11" x="464" y="138"/>
<use href="#k4y22" x="547" y="138"/>
<use href="#k4y12" x="458" y="138"/>
<use href="#k4y20" x="364" y="139"/>
<use href="#k4y10" x="404" y="139"/>
<use href="#k4y20" x="486" y="139"/>
<use href="#k4y22" x="535" y="142"/>
<use href="#k4y31" x="551" y="142"/>
<use href="#k4y20" x="400" y="142"/>
<use href="#k4y21" x="361" y="143"/>
<use href="#k4y22" x="438" y="143"/>
<use href="#k4y20" x="445" y="143"/>
<use href="#k4y21" x="430" y="143"/>
<use href="#k4y22" x="499" y="143"/>
<use href="#k4y11" x="468" y="143"/>
<use href="#k4y20" x="375" y="143"/>
<use href="#k4y11" x="454" y="143"/>
<use href="#k4y22" x="423" y="143"/>
<use href="#k4y21" x="416" y="144"/>
<use href="#k4y31" x="543" y="144"/>
<use href="#k4y11" x="505" y="144"/>
<use href="#k4y20" x="386" y="144"/>
<use href="#k4y21" x="521" y="144"/>
<use href="#k4y21" x="406" y="144"/>
<use href="#k4y32" x="482" y="144"/>
<use href="#k4y20" x="491" y="144"/>
<use href="#k4y22" x="559" y="144"/>
<use href="#k4y21" x="527" y="144"/>
<use href="#k4y20" x="392" y="145"/>
<use href="#k4y30" x="476" y="145"/>
<use href="#k4y11" x="461" y="145"/>
<use href="#k4y20" x="368" y="145"/>
<use href="#k4y11" x="514" y="145"/>
<use href="#k4y32" x="547" y="149"/>
<use href="#k4y22" x="389" y="149"/>
<use href="#k4y21" x="555" y="149"/>
<use href="#k4y20" x="441" y="149"/>
<use href="#k4y20" x="532" y="149"/>
<use href="#k4y22" x="526" y="149"/>
<use href="#k4y31" x="418" y="149"/>
<use href="#k4y11" x="373" y="150"/>
<use href="#k4y32" x="539" y="150"/>
<use href="#k4y20" x="394" y="150"/>
<use href="#k4y12" x="379" y="150"/>
<use href="#k4y20" x="425" y="150"/>
<use href="#k4y22" x="409" y="150"/>
<use href="#k4y11" x="457" y="151"/>
<use href="#k4y11" x="366" y="151"/>
<use href="#k4y10" x="463" y="151"/>
<use href="#k4y10" x="511" y="151"/>
<use href="#k4y20" x="450" y="151"/>
<use href="#k4y22" x="433" y="151"/>
<use href="#k4y21" x="517" y="151"/>
<use href="#k4y21" x="488" y="152"/>
<use href="#k4y22" x="496" y="152"/>
<use href="#k4y31" x="403" y="152"/>
<use href="#k4y21" x="478" y="152"/>
<use href="#k4y21" x="470" y="152"/>
<use href="#k4y10" x="501" y="152"/>
<use href="#k4y32" x="537" y="155"/>
<use href="#k4y10" x="515" y="155"/>
<use href="#k4y10" x="500" y="156"/>
<use href="#k4y10" x="505" y="156"/>
<use href="#k4y22" x="452" y="156"/>
<use href="#k4y20" x="437" y="156"/>
<use href="#k4y30" x="545" y="156"/>
<use href="#k4y20" x="474" y="157"/>
<use href="#k4y10" x="468" y="157"/>
<use href="#k4y20" x="414" y="157"/>
<use href="#k4y10" x="371" y="157"/>
<use href="#k4y21" x="520" y="157"/>
<use href="#k4y20" x="459" y="157"/>
<use href="#k4y11" x="530" y="157"/>
<use href="#k4y32" x="559" y="157"/>
<use href="#k4y21" x="429" y="158"/>
<use href="#k4y21" x="484" y="158"/>
<use href="#k4y22" x="375" y="158"/>
<use href="#k4y20" x="383" y="158"/>
<use href="#k4y30" x="398" y="158"/>
<use href="#k4y31" x="393" y="158"/>
<use href="#k4y22" x="444" y="158"/>
<use href="#k4y22" x="424" y="158"/>
<use href="#k4y21" x="491" y="158"/>
<use href="#k4y30" x="552" y="158"/>
<use href="#k4y31" x="408" y="159"/>
<use href="#k4y21" x="434" y="162"/>
<use href="#k4y22" x="388" y="162"/>
<use href="#k4y22" x="404" y="162"/>
<use href="#k4y22" x="471" y="162"/>
<use href="#k4y21" x="533" y="162"/>
<use href="#k4y11" x="503" y="162"/>
<use href="#k4y12" x="464" y="163"/>
<use href="#k4y30" x="548" y="163"/>
<use href="#k4y22" x="373" y="163"/>
<use href="#k4y32" x="394" y="163"/>
<use href="#k4y30" x="556" y="163"/>
<use href="#k4y21" x="508" y="163"/>
<use href="#k4y21" x="480" y="163"/>
<use href="#k4y31" x="411" y="163"/>
<use href="#k4y21" x="417" y="163"/>
<use href="#k4y21" x="487" y="164"/>
<use href="#k4y21" x="380" y="164"/>
<use href="#k4y22" x="494" y="164"/>
<use href="#k4y22" x="539" y="164"/>
<use href="#k4y20" x="366" y="164"/>
<use href="#k4y12" x="456" y="164"/>
<use href="#k4y22" x="428" y="165"/>
<use href="#k4y22" x="526" y="165"/>
<use href="#k4y22" x="443" y="165"/>
<use href="#k4y22" x="448" y="165"/>
<use href="#k4y22" x="517" y="165"/>
<use href="#k4y22" x="513" y="168"/>
<use href="#k4y31" x="408" y="168"/>
<use href="#k4y10" x="476" y="168"/>
<use href="#k4y20" x="430" y="169"/>
<use href="#k4y22" x="384" y="169"/>
<use href="#k4y32" x="400" y="169"/>
<use href="#k4y10" x="454" y="169"/>
<use href="#k4y32" x="551" y="169"/>
<use href="#k4y31" x="376" y="169"/>
<use href="#k4y32" x="370" y="169"/>
<use href="#k4y31" x="393" y="169"/>
<use href="#k4y22" x="413" y="170"/>
<use href="#k4y21" x="560" y="170"/>
<use href="#k4y21" x="490" y="170"/>
<use href="#k4y21" x="499" y="170"/>
<use href="#k4y21" x="507" y="170"/>
<use href="#k4y12" x="461" y="171"/>
<use href="#k4y21" x="544" y="171"/>
<use href="#k4y21" x="522" y="171"/>
<use href="#k4y20" x="446" y="171"/>
<use href="#k4y12" x="467" y="171"/>
<use href="#k4y21" x="422" y="171"/>
<use href="#k4y12" x="535" y="171"/>
<use href="#k4y20" x="528" y="171"/>
<use href="#k4y22" x="482" y="171"/>
<use href="#k4y21" x="437" y="171"/>
<use href="#k4y22" x="518" y="175"/>
<use href="#k4y10" x="501" y="175"/>
<use href="#k4y12" x="449" y="175"/>
<use href="#k4y20" x="374" y="175"/>
<use href="#k4y21" x="478" y="175"/>
<use href="#k4y20" x="509" y="175"/>
<use href="#k4y21" x="494" y="176"/>
<use href="#k4y20" x="443" y="176"/>
<use href="#k4y30" x="397" y="176"/>
<use href="#k4y21" x="432" y="176"/>
<use href="#k4y22" x="488" y="177"/>
<use href="#k4y32" x="541" y="177"/>
<use href="#k4y30" x="557" y="177"/>
<use href="#k4y12" x="524" y="177"/>
<use href="#k4y10" x="533" y="177"/>
<use href="#k4y30" x="411" y="177"/>
<use href="#k4y21" x="366" y="177"/>
<use href="#k4y20" x="379" y="177"/>
<use href="#k4y12" x="464" y="177"/>
<use href="#k4y32" x="403" y="177"/>
<use href="#k4y12" x="457" y="178"/>
<use href="#k4y31" x="390" y="178"/>
<use href="#k4y22" x="470" y="178"/>
<use href="#k4y30" x="417" y="178"/>
<use href="#k4y32" x="546" y="178"/>
<use href="#k4y20" x="426" y="178"/>
<use href="#k4y32" x="393" y="182"/>
<use href="#k4y10" x="446" y="182"/>
<use href="#k4y21" x="422" y="182"/>
<use href="#k4y30" x="385" y="182"/>
<use href="#k4y10" x="460" y="182"/>
<use href="#k4y22" x="559" y="182"/>
<use href="#k4y22" x="528" y="182"/>
<use href="#k4y22" x="370" y="182"/>
<use href="#k4y30" x="552" y="182"/>
<use href="#k4y12" x="453" y="182"/>
<use href="#k4y22" x="398" y="183"/>
<use href="#k4y32" x="414" y="183"/>
<use href="#k4y21" x="437" y="183"/>
<use href="#k4y12" x="521" y="183"/>
<use href="#k4y21" x="513" y="183"/>
<use href="#k4y21" x="545" y="183"/>
<use href="#k4y21" x="505" y="183"/>
<use href="#k4y21" x="408" y="183"/>
<use href="#k4y22" x="500" y="183"/>
<use href="#k4y20" x="482" y="184"/>
<use href="#k4y20" x="429" y="184"/>
<use href="#k4y22" x="474" y="184"/>
<use href="#k4y20" x="377" y="184"/>
<use href="#k4y11" x="469" y="184"/>
<use href="#k4y21" x="535" y="185"/>
<use href="#k4y11" x="491" y="185"/>
<use href="#k4y21" x="532" y="188"/>
<use href="#k4y30" x="427" y="188"/>
<use href="#k4y22" x="365" y="188"/>
<use href="#k4y21" x="503" y="189"/>
<use href="#k4y10" x="455" y="189"/>
<use href="#k4y20" x="540" y="189"/>
<use href="#k4y21" x="433" y="189"/>
<use href="#k4y21" x="480" y="189"/>
<use href="#k4y20" x="495" y="189"/>
<use href="#k4y20" x="441" y="189"/>
<use href="#k4y31" x="419" y="189"/>
<use href="#k4y11" x="471" y="189"/>
<use href="#k4y31" x="388" y="190"/>
<use href="#k4y21" x="486" y="190"/>
<use href="#k4y12" x="526" y="190"/>
<use href="#k4y12" x="464" y="190"/>
<use href="#k4y12" x="448" y="190"/>
<use href="#k4y21" x="518" y="190"/>
<use href="#k4y20" x="547" y="190"/>
<use href="#k4y22" x="404" y="190"/>
<use href="#k4y20" x="410" y="191"/>
<use href="#k4y21" x="373" y="191"/>
<use href="#k4y21" x="396" y="191"/>
<use href="#k4y22" x="510" y="191"/>
<use href="#k4y22" x="380" y="191"/>
<use href="#k4y20" x="393" y="195"/>
<use href="#k4y22" x="499" y="195"/>
<use href="#k4y21" x="483" y="195"/>
<use href="#k4y21" x="399" y="195"/>
<use href="#k4y21" x="515" y="195"/>
<use href="#k4y10" x="490" y="195"/>
<use href="#k4y20" x="438" y="195"/>
<use href="#k4y20" x="508" y="195"/>
<use href="#k4y22" x="406" y="196"/>
<use href="#k4y32" x="431" y="196"/>
<use href="#k4y20" x="363" y="196"/>
<use href="#k4y32" x="422" y="196"/>
<use href="#k4y22" x="543" y="196"/>
<use href="#k4y22" x="368" y="197"/>
<use href="#k4y20" x="461" y="197"/>
<use href="#k4y30" x="415" y="197"/>
<use href="#k4y21" x="469" y="197"/>
<use href="#k4y10" x="528" y="197"/>
<use href="#k4y22" x="454" y="197"/>
<use href="#k4y22" x="383" y="197"/>
<use href="#k4y20" x="378" y="198"/>
<use href="#k4y11" x="477" y="198"/>
<use href="#k4y11" x="521" y="198"/>
<use href="#k4y20" x="535" y="198"/>
<use href="#k4y32" x="553" y="198"/>
<use href="#k4y20" x="444" y="198"/>
<use href="#k4y11" x="472" y="201"/>
<use href="#k4y32" x="411" y="201"/>
<use href="#k4y20" x="527" y="201"/>
<use href="#k4y21" x="365" y="202"/>
<use href="#k4y20" x="397" y="202"/>
<use href="#k4y21" x="486" y="202"/>
<use href="#k4y22" x="433" y="202"/>
<use href="#k4y20" x="502" y="202"/>
<use href="#k4y22" x="428" y="202"/>
<use href="#k4y21" x="508" y="202"/>
<use href="#k4y21" x="458" y="203"/>
<use href="#k4y20" x="533" y="203"/>
<use href="#k4y22" x="518" y="203"/>
<use href="#k4y22" x="379" y="203"/>
<use href="#k4y21" x="389" y="203"/>
<use href="#k4y20" x="465" y="203"/>
<use href="#k4y22" x="404" y="203"/>
<use href="#k4y21" x="548" y="204"/>
<use href="#k4y10" x="480" y="204"/>
<use href="#k4y11" x="542" y="204"/>
<use href="#k4y22" x="494" y="204"/>
<use href="#k4y20" x="419" y="204"/>
<use href="#k4y21" x="372" y="204"/>
<use href="#k4y21" x="449" y="204"/>
<use href="#k4y21" x="440" y="204"/>
<use href="#k4y22" x="415" y="208"/>
<use href="#k4y20" x="391" y="208"/>
<use href="#k4y22" x="507" y="208"/>
<use href="#k4y20" x="399" y="208"/>
<use href="#k4y22" x="537" y="208"/>
<use href="#k4y20" x="491" y="208"/>
<use href="#k4y22" x="543" y="208"/>
<use href="#k4y12" x="454" y="209"/>
<use href="#k4y22" x="514" y="209"/>
<use href="#k4y10" x="477" y="209"/>
<use href="#k4y20" x="498" y="210"/>
<use href="#k4y21" x="409" y="210"/>
<use href="#k4y22" x="438" y="210"/>
<use href="#k4y22" x="429" y="210"/>
<use href="#k4y10" x="469" y="210"/>
<use href="#k4y11" x="483" y="210"/>
<use href="#k4y20" x="521" y="210"/>
<use href="#k4y22" x="384" y="211"/>
<use href="#k4y21" x="369" y="211"/>
<use href="#k4y22" x="529" y="211"/>
<use href="#k4y12" x="444" y="211"/>
<use href="#k4y12" x="459" y="211"/>
<use href="#k4y20" x="422" y="211"/>
<use href="#k4y21" x="377" y="211"/>
<use href="#k4y22" x="403" y="214"/>
<use href="#k4y22" x="372" y="215"/>
<use href="#k4y21" x="425" y="215"/>
<use href="#k4y21" x="516" y="215"/>
<use href="#k4y22" x="440" y="215"/>
<use href="#k4y20" x="504" y="215"/>
<use href="#k4y20" x="411" y="215"/>
<use href="#k4y11" x="480" y="215"/>
<use href="#k4y21" x="381" y="215"/>
<use href="#k4y22" x="525" y="215"/>
<use href="#k4y11" x="472" y="216"/>
<use href="#k4y20" x="541" y="216"/>
<use href="#k4y12" x="434" y="216"/>
<use href="#k4y10" x="448" y="216"/>
<use href="#k4y11" x="464" y="216"/>
<use href="#k4y20" x="510" y="216"/>
<use href="#k4y20" x="534" y="216"/>
<use href="#k4y20" x="488" y="216"/>
<use href="#k4y12" x="456" y="217"/>
<use href="#k4y21" x="494" y="217"/>
<use href="#k4y21" x="418" y="217"/>
<use href="#k4y31" x="397" y="218"/>
<use href="#k4y21" x="389" y="218"/>
<use href="#k4y11" x="453" y="221"/>
<use href="#k4y12" x="475" y="221"/>
<use href="#k4y31" x="506" y="221"/>
<use href="#k4y11" x="491" y="221"/>
<use href="#k4y30" x="399" y="221"/>
<use href="#k4y30" x="521" y="222"/>
<use href="#k4y20" x="413" y="222"/>
<use href="#k4y21" x="376" y="222"/>
<use href="#k4y30" x="392" y="222"/>
<use href="#k4y10" x="437" y="222"/>
<use href="#k4y21" x="430" y="222"/>
<use href="#k4y21" x="423" y="223"/>
<use href="#k4y11" x="444" y="223"/>
<use href="#k4y31" x="530" y="223"/>
<use href="#k4y10" x="469" y="223"/>
<use href="#k4y21" x="384" y="223"/>
<use href="#k4y10" x="460" y="223"/>
<use href="#k4y20" x="497" y="224"/>
<use href="#k4y30" x="514" y="224"/>
<use href="#k4y32" x="408" y="224"/>
<use href="#k4y11" x="482" y="224"/>
<use href="#k4y22" x="488" y="228"/>
<use href="#k4y30" x="426" y="228"/>
<use href="#k4y20" x="419" y="228"/>
<use href="#k4y10" x="473" y="228"/>
<use href="#k4y11" x="450" y="229"/>
<use href="#k4y21" x="478" y="229"/>
<use href="#k4y21" x="412" y="229"/>
<use href="#k4y20" x="396" y="229"/>
<use href="#k4y30" x="403" y="229"/>
<use href="#k4y22" x="387" y="229"/>
<use href="#k4y20" x="457" y="230"/>
<use href="#k4y20" x="493" y="230"/>
<use href="#k4y21" x="435" y="230"/>
<use href="#k4y21" x="465" y="230"/>
<use href="#k4y20" x="503" y="231"/>
<use href="#k4y10" x="443" y="231"/>
<use href="#k4y21" x="400" y="234"/>
<use href="#k4y21" x="415" y="234"/>
<use href="#k4y21" x="452" y="234"/>
<use href="#k4y32" x="467" y="235"/>
<use href="#k4y22" x="408" y="235"/>
<use href="#k4y11" x="392" y="236"/>
<use href="#k4y20" x="438" y="236"/>
<use href="#k4y11" x="447" y="236"/>
<use href="#k4y30" x="424" y="237"/>
<use href="#k4y32" x="430" y="237"/>
<use href="#k4y30" x="460" y="237"/>
<use href="#k4y31" x="419" y="241"/>
<use href="#k4y31" x="434" y="241"/>
<use href="#k4y30" x="410" y="241"/>
<use href="#k4y22" x="442" y="242"/>
<use href="#k4y30" x="456" y="243"/>
<use href="#k4y30" x="428" y="243"/>
<use href="#k4y22" x="449" y="243"/>
<use href="#k4y21" x="402" y="243"/>
<use href="#k4y20" x="397" y="244"/>
<use href="#k4y20" x="424" y="247"/>
<use href="#k4y21" x="398" y="248"/>
<use href="#k4y20" x="438" y="248"/>
<use href="#k4y30" x="451" y="248"/>
<use href="#k4y20" x="406" y="249"/>
<use href="#k4y21" x="393" y="249"/>
<use href="#k4y32" x="415" y="249"/>
<use href="#k4y20" x="429" y="250"/>
<use href="#k4y20" x="444" y="250"/>
<use href="#k4y20" x="419" y="254"/>
<use href="#k4y20" x="449" y="255"/>
<use href="#k4y22" x="433" y="255"/>
<use href="#k4y22" x="442" y="255"/>
<use href="#k4y20" x="397" y="257"/>
<use href="#k4y22" x="403" y="257"/>
<use href="#k4y21" x="426" y="257"/>
<use href="#k4y21" x="410" y="257"/>
<use href="#k4y20" x="421" y="261"/>
<use href="#k4y20" x="406" y="261"/>
<use href="#k4y22" x="444" y="261"/>
<use href="#k4y22" x="429" y="262"/>
<use href="#k4y10" x="416" y="262"/>
<use href="#k4y20" x="437" y="262"/>
<path d="M358.11,109.67 C359.18,105.03 359.5,100.39 362.37,94.67 C365.24,88.94 372.47,80.7 375.34,75.31 C378.21,69.92 376.74,65.04 379.6,62.34 C382.46,59.64 387.81,59.45 392.47,59.1 C397.14,58.74 402.91,61.46 407.57,60.21 C412.23,58.96 415.79,52.31 420.45,51.6 C425.11,50.89 430.53,54.87 435.55,55.95 C440.56,57.03 445.9,59.16 450.55,58.08 C455.2,57 458.41,51.09 463.43,49.47 C468.44,47.85 475.27,47.64 480.65,48.35 C486.04,49.06 490.73,52.11 495.75,53.73 C500.77,55.35 506.47,55.21 510.76,58.08 C515.05,60.95 518.63,65.94 521.5,70.96 C524.37,75.97 524.76,82.81 527.99,88.18 C531.21,93.56 536.92,98.53 540.86,103.19 C544.8,107.85 548.73,110.77 551.6,116.16 C554.48,121.54 557.01,129.79 558.09,135.51 C559.17,141.24 558.46,143.71 558.09,150.52 C557.72,157.33 556.95,170.64 555.87,176.36 C554.78,182.09 553.4,179.88 551.6,184.88 C549.81,189.89 548.35,200.99 545.12,206.37 C541.89,211.76 537.97,213.97 532.25,217.21 C526.52,220.45 517.92,224.03 510.76,225.82 C503.59,227.62 496.43,226.89 489.27,227.95 C482.11,229.02 473.52,229.36 467.78,232.22 C462.04,235.07 457.33,241.15 454.81,245.09 C452.3,249.03 455.54,253.32 452.68,255.83 C449.83,258.35 443.76,259.11 437.68,260.19 C431.59,261.27 422.28,263.04 416.19,262.32 C410.09,261.59 404.67,259.06 401.09,255.83 C397.51,252.61 396.84,247.61 394.7,242.96 C392.55,238.31 391.44,232.62 388.21,227.95 C384.99,223.29 379.28,219.29 375.34,214.99 C371.4,210.68 366.76,206.4 364.59,202.11 C362.43,197.82 361.66,193.53 362.37,189.24 C363.08,184.95 367.77,181.02 368.86,176.36 C369.94,171.7 369.94,167.01 368.86,161.26 C367.77,155.52 364.52,148.36 362.37,141.91 C360.23,135.45 356.69,127.92 355.98,122.55 C355.27,117.18 357.05,114.32 358.11,109.67Z" fill="url(#shadeY)"/>
</g>
<rect x="80.7" y="9.2" width="581.2" height="274.7" fill="none" stroke="#000" stroke-width="2.4"/>
<text transform="translate(132.05,38.5) scale(1.0578,1)" font-size="25" fill="#000">Oil</text>
<text transform="translate(215.48,40.5) scale(1.0480,1)" font-size="26" fill="#000">Water</text>
<text transform="translate(578.66,37.7) scale(1.0590,1)" font-size="27" fill="#000">Initial</text>
<circle cx="510.1" cy="263.8" r="13.6" fill="url(#gball)"/>
<ellipse cx="507" cy="258" rx="4" ry="2.5" fill="#fbfbb0" opacity="0.7" transform="rotate(-30 507 258)"/>
<text transform="translate(529.25,271.9) scale(0.9736,1)" font-size="26" fill="#000">Sulfate-PS</text>
<path d="M686.9,124.9 H715.6 V106.8 L743.5,142.3 L715.6,177.6 V159.6 H686.9 Z" fill="#344d6b" stroke="#000" stroke-width="2.2" stroke-linejoin="miter"/>
<defs><circle id="k5c10" r="3.74" class="c1"/></defs>
<defs><circle id="k5c11" r="4.00" class="c1"/></defs>
<defs><circle id="k5c12" r="4.26" class="c1"/></defs>
<defs><circle id="k5c20" r="3.74" class="c2"/></defs>
<defs><circle id="k5c21" r="4.00" class="c2"/></defs>
<defs><circle id="k5c22" r="4.26" class="c2"/></defs>
<clipPath id="k5"><rect x="772.5" y="5.5" width="133.5" height="289"/></clipPath>
<g clip-path="url(#k5)">
<rect x="772.5" y="5.5" width="133.5" height="289" fill="#708888"/>
<use href="#k5c22" x="841" y="0"/>
<use href="#k5c22" x="828" y="0"/>
<use href="#k5c11" x="886" y="1"/>
<use href="#k5c10" x="820" y="1"/>
<use href="#k5c22" x="774" y="1"/>
<use href="#k5c10" x="801" y="1"/>
<use href="#k5c21" x="834" y="1"/>
<use href="#k5c12" x="873" y="1"/>
<use href="#k5c12" x="787" y="1"/>
<use href="#k5c10" x="893" y="1"/>
<use href="#k5c21" x="861" y="2"/>
<use href="#k5c12" x="880" y="2"/>
<use href="#k5c11" x="782" y="2"/>
<use href="#k5c20" x="768" y="2"/>
<use href="#k5c21" x="849" y="2"/>
<use href="#k5c10" x="855" y="2"/>
<use href="#k5c12" x="794" y="2"/>
<use href="#k5c11" x="866" y="2"/>
<use href="#k5c10" x="807" y="3"/>
<use href="#k5c20" x="906" y="3"/>
<use href="#k5c11" x="816" y="3"/>
<use href="#k5c22" x="900" y="3"/>
<use href="#k5c12" x="792" y="6"/>
<use href="#k5c12" x="813" y="6"/>
<use href="#k5c10" x="825" y="6"/>
<use href="#k5c22" x="838" y="6"/>
<use href="#k5c12" x="884" y="7"/>
<use href="#k5c10" x="779" y="7"/>
<use href="#k5c21" x="898" y="7"/>
<use href="#k5c12" x="852" y="7"/>
<use href="#k5c12" x="865" y="7"/>
<use href="#k5c11" x="858" y="7"/>
<use href="#k5c12" x="784" y="8"/>
<use href="#k5c11" x="891" y="8"/>
<use href="#k5c22" x="845" y="8"/>
<use href="#k5c12" x="805" y="8"/>
<use href="#k5c11" x="799" y="8"/>
<use href="#k5c20" x="903" y="8"/>
<use href="#k5c12" x="832" y="8"/>
<use href="#k5c10" x="878" y="8"/>
<use href="#k5c22" x="872" y="8"/>
<use href="#k5c20" x="773" y="8"/>
<use href="#k5c12" x="817" y="9"/>
<use href="#k5c22" x="907" y="12"/>
<use href="#k5c10" x="888" y="12"/>
<use href="#k5c11" x="782" y="12"/>
<use href="#k5c11" x="794" y="12"/>
<use href="#k5c11" x="855" y="12"/>
<use href="#k5c10" x="788" y="12"/>
<use href="#k5c10" x="835" y="12"/>
<use href="#k5c10" x="841" y="13"/>
<use href="#k5c21" x="776" y="13"/>
<use href="#k5c11" x="880" y="13"/>
<use href="#k5c10" x="875" y="13"/>
<use href="#k5c12" x="814" y="13"/>
<use href="#k5c12" x="807" y="13"/>
<use href="#k5c12" x="895" y="13"/>
<use href="#k5c11" x="821" y="13"/>
<use href="#k5c10" x="847" y="13"/>
<use href="#k5c21" x="866" y="13"/>
<use href="#k5c11" x="828" y="13"/>
<use href="#k5c21" x="768" y="13"/>
<use href="#k5c22" x="902" y="14"/>
<use href="#k5c10" x="861" y="14"/>
<use href="#k5c12" x="801" y="14"/>
<use href="#k5c10" x="843" y="17"/>
<use href="#k5c12" x="877" y="17"/>
<use href="#k5c10" x="839" y="18"/>
<use href="#k5c22" x="777" y="18"/>
<use href="#k5c10" x="784" y="18"/>
<use href="#k5c22" x="896" y="18"/>
<use href="#k5c11" x="819" y="18"/>
<use href="#k5c11" x="812" y="18"/>
<use href="#k5c12" x="831" y="18"/>
<use href="#k5c10" x="872" y="18"/>
<use href="#k5c11" x="798" y="18"/>
<use href="#k5c11" x="806" y="19"/>
<use href="#k5c12" x="793" y="19"/>
<use href="#k5c12" x="850" y="19"/>
<use href="#k5c12" x="826" y="19"/>
<use href="#k5c10" x="859" y="19"/>
<use href="#k5c11" x="905" y="19"/>
<use href="#k5c21" x="885" y="19"/>
<use href="#k5c20" x="771" y="20"/>
<use href="#k5c22" x="890" y="20"/>
<use href="#k5c10" x="863" y="20"/>
<use href="#k5c22" x="893" y="23"/>
<use href="#k5c12" x="842" y="23"/>
<use href="#k5c11" x="829" y="24"/>
<use href="#k5c11" x="820" y="24"/>
<use href="#k5c10" x="808" y="24"/>
<use href="#k5c12" x="874" y="24"/>
<use href="#k5c10" x="908" y="24"/>
<use href="#k5c11" x="869" y="24"/>
<use href="#k5c11" x="815" y="24"/>
<use href="#k5c10" x="834" y="24"/>
<use href="#k5c11" x="880" y="24"/>
<use href="#k5c20" x="775" y="24"/>
<use href="#k5c11" x="802" y="25"/>
<use href="#k5c11" x="781" y="25"/>
<use href="#k5c21" x="888" y="25"/>
<use href="#k5c11" x="861" y="25"/>
<use href="#k5c11" x="849" y="25"/>
<use href="#k5c10" x="794" y="25"/>
<use href="#k5c11" x="790" y="25"/>
<use href="#k5c10" x="854" y="25"/>
<use href="#k5c20" x="900" y="26"/>
<use href="#k5c20" x="770" y="26"/>
<use href="#k5c11" x="852" y="29"/>
<use href="#k5c10" x="772" y="29"/>
<use href="#k5c10" x="877" y="29"/>
<use href="#k5c10" x="885" y="29"/>
<use href="#k5c22" x="778" y="29"/>
<use href="#k5c22" x="818" y="29"/>
<use href="#k5c12" x="791" y="29"/>
<use href="#k5c22" x="904" y="29"/>
<use href="#k5c12" x="831" y="30"/>
<use href="#k5c11" x="825" y="30"/>
<use href="#k5c22" x="785" y="30"/>
<use href="#k5c10" x="799" y="30"/>
<use href="#k5c12" x="892" y="30"/>
<use href="#k5c20" x="811" y="30"/>
<use href="#k5c11" x="845" y="30"/>
<use href="#k5c12" x="838" y="30"/>
<use href="#k5c12" x="865" y="31"/>
<use href="#k5c12" x="806" y="31"/>
<use href="#k5c11" x="871" y="31"/>
<use href="#k5c21" x="898" y="31"/>
<use href="#k5c11" x="858" y="32"/>
<use href="#k5c22" x="834" y="34"/>
<use href="#k5c22" x="846" y="35"/>
<use href="#k5c20" x="814" y="35"/>
<use href="#k5c20" x="901" y="35"/>
<use href="#k5c21" x="874" y="35"/>
<use href="#k5c20" x="803" y="35"/>
<use href="#k5c21" x="788" y="35"/>
<use href="#k5c21" x="782" y="35"/>
<use href="#k5c22" x="820" y="36"/>
<use href="#k5c20" x="776" y="36"/>
<use href="#k5c20" x="842" y="36"/>
<use href="#k5c21" x="856" y="36"/>
<use href="#k5c21" x="888" y="36"/>
<use href="#k5c10" x="907" y="36"/>
<use href="#k5c21" x="868" y="36"/>
<use href="#k5c22" x="880" y="36"/>
<use href="#k5c22" x="862" y="36"/>
<use href="#k5c12" x="829" y="37"/>
<use href="#k5c20" x="769" y="37"/>
<use href="#k5c22" x="808" y="37"/>
<use href="#k5c21" x="893" y="37"/>
<use href="#k5c20" x="795" y="37"/>
<use href="#k5c20" x="897" y="40"/>
<use href="#k5c22" x="852" y="40"/>
<use href="#k5c20" x="824" y="40"/>
<use href="#k5c22" x="857" y="40"/>
<use href="#k5c20" x="832" y="40"/>
<use href="#k5c21" x="793" y="40"/>
<use href="#k5c21" x="785" y="40"/>
<use href="#k5c22" x="843" y="41"/>
<use href="#k5c22" x="817" y="41"/>
<use href="#k5c22" x="804" y="41"/>
<use href="#k5c22" x="812" y="41"/>
<use href="#k5c20" x="772" y="41"/>
<use href="#k5c22" x="870" y="42"/>
<use href="#k5c11" x="864" y="42"/>
<use href="#k5c20" x="797" y="43"/>
<use href="#k5c22" x="891" y="43"/>
<use href="#k5c21" x="838" y="43"/>
<use href="#k5c22" x="903" y="43"/>
<use href="#k5c22" x="777" y="43"/>
<use href="#k5c22" x="877" y="43"/>
<use href="#k5c20" x="885" y="43"/>
<use href="#k5c22" x="881" y="46"/>
<use href="#k5c20" x="894" y="46"/>
<use href="#k5c20" x="776" y="46"/>
<use href="#k5c20" x="802" y="46"/>
<use href="#k5c20" x="788" y="47"/>
<use href="#k5c20" x="796" y="47"/>
<use href="#k5c20" x="862" y="47"/>
<use href="#k5c21" x="815" y="47"/>
<use href="#k5c21" x="770" y="47"/>
<use href="#k5c20" x="820" y="47"/>
<use href="#k5c20" x="873" y="47"/>
<use href="#k5c20" x="867" y="47"/>
<use href="#k5c20" x="849" y="47"/>
<use href="#k5c20" x="856" y="48"/>
<use href="#k5c20" x="807" y="48"/>
<use href="#k5c20" x="902" y="48"/>
<use href="#k5c20" x="843" y="48"/>
<use href="#k5c22" x="782" y="48"/>
<use href="#k5c10" x="835" y="48"/>
<use href="#k5c22" x="827" y="48"/>
<use href="#k5c21" x="888" y="49"/>
<use href="#k5c21" x="908" y="49"/>
<use href="#k5c22" x="852" y="52"/>
<use href="#k5c21" x="797" y="52"/>
<use href="#k5c20" x="896" y="52"/>
<use href="#k5c21" x="839" y="52"/>
<use href="#k5c22" x="891" y="52"/>
<use href="#k5c20" x="870" y="53"/>
<use href="#k5c21" x="779" y="53"/>
<use href="#k5c22" x="904" y="53"/>
<use href="#k5c22" x="791" y="53"/>
<use href="#k5c21" x="772" y="53"/>
<use href="#k5c20" x="859" y="53"/>
<use href="#k5c21" x="804" y="53"/>
<use href="#k5c21" x="811" y="53"/>
<use href="#k5c21" x="844" y="53"/>
<use href="#k5c22" x="825" y="53"/>
<use href="#k5c22" x="817" y="53"/>
<use href="#k5c22" x="786" y="54"/>
<use href="#k5c20" x="877" y="54"/>
<use href="#k5c12" x="863" y="54"/>
<use href="#k5c12" x="830" y="54"/>
<use href="#k5c22" x="883" y="54"/>
<use href="#k5c20" x="789" y="57"/>
<use href="#k5c22" x="809" y="57"/>
<use href="#k5c20" x="795" y="58"/>
<use href="#k5c20" x="894" y="58"/>
<use href="#k5c21" x="835" y="58"/>
<use href="#k5c21" x="800" y="58"/>
<use href="#k5c21" x="781" y="58"/>
<use href="#k5c21" x="775" y="58"/>
<use href="#k5c22" x="853" y="59"/>
<use href="#k5c20" x="828" y="59"/>
<use href="#k5c22" x="847" y="59"/>
<use href="#k5c12" x="842" y="59"/>
<use href="#k5c20" x="769" y="59"/>
<use href="#k5c11" x="908" y="59"/>
<use href="#k5c10" x="815" y="59"/>
<use href="#k5c10" x="868" y="59"/>
<use href="#k5c22" x="887" y="60"/>
<use href="#k5c20" x="873" y="60"/>
<use href="#k5c11" x="861" y="60"/>
<use href="#k5c11" x="901" y="60"/>
<use href="#k5c21" x="820" y="60"/>
<use href="#k5c12" x="881" y="60"/>
<use href="#k5c11" x="903" y="63"/>
<use href="#k5c20" x="799" y="63"/>
<use href="#k5c12" x="892" y="64"/>
<use href="#k5c10" x="878" y="64"/>
<use href="#k5c11" x="897" y="64"/>
<use href="#k5c21" x="838" y="64"/>
<use href="#k5c20" x="832" y="64"/>
<use href="#k5c21" x="851" y="64"/>
<use href="#k5c21" x="810" y="64"/>
<use href="#k5c10" x="845" y="64"/>
<use href="#k5c21" x="883" y="65"/>
<use href="#k5c12" x="870" y="65"/>
<use href="#k5c22" x="819" y="65"/>
<use href="#k5c20" x="779" y="65"/>
<use href="#k5c21" x="857" y="65"/>
<use href="#k5c12" x="773" y="65"/>
<use href="#k5c21" x="805" y="65"/>
<use href="#k5c21" x="824" y="65"/>
<use href="#k5c20" x="784" y="65"/>
<use href="#k5c20" x="791" y="65"/>
<use href="#k5c10" x="863" y="66"/>
<use href="#k5c10" x="901" y="69"/>
<use href="#k5c10" x="842" y="69"/>
<use href="#k5c22" x="828" y="69"/>
<use href="#k5c21" x="769" y="69"/>
<use href="#k5c10" x="907" y="69"/>
<use href="#k5c20" x="854" y="70"/>
<use href="#k5c22" x="820" y="70"/>
<use href="#k5c22" x="788" y="70"/>
<use href="#k5c21" x="847" y="70"/>
<use href="#k5c20" x="781" y="70"/>
<use href="#k5c10" x="860" y="71"/>
<use href="#k5c22" x="796" y="71"/>
<use href="#k5c20" x="802" y="71"/>
<use href="#k5c12" x="881" y="71"/>
<use href="#k5c11" x="775" y="71"/>
<use href="#k5c21" x="893" y="71"/>
<use href="#k5c10" x="813" y="71"/>
<use href="#k5c21" x="889" y="71"/>
<use href="#k5c12" x="835" y="71"/>
<use href="#k5c21" x="809" y="71"/>
<use href="#k5c12" x="867" y="71"/>
<use href="#k5c12" x="874" y="71"/>
<use href="#k5c22" x="825" y="74"/>
<use href="#k5c22" x="780" y="74"/>
<use href="#k5c12" x="865" y="75"/>
<use href="#k5c12" x="859" y="75"/>
<use href="#k5c10" x="844" y="75"/>
<use href="#k5c11" x="898" y="75"/>
<use href="#k5c21" x="805" y="75"/>
<use href="#k5c10" x="891" y="75"/>
<use href="#k5c21" x="792" y="75"/>
<use href="#k5c21" x="851" y="75"/>
<use href="#k5c10" x="903" y="75"/>
<use href="#k5c10" x="872" y="75"/>
<use href="#k5c22" x="819" y="76"/>
<use href="#k5c20" x="785" y="76"/>
<use href="#k5c11" x="837" y="76"/>
<use href="#k5c10" x="771" y="77"/>
<use href="#k5c21" x="799" y="77"/>
<use href="#k5c12" x="831" y="77"/>
<use href="#k5c22" x="811" y="77"/>
<use href="#k5c12" x="884" y="77"/>
<use href="#k5c12" x="876" y="77"/>
<use href="#k5c20" x="776" y="80"/>
<use href="#k5c12" x="866" y="80"/>
<use href="#k5c20" x="796" y="81"/>
<use href="#k5c21" x="769" y="81"/>
<use href="#k5c20" x="848" y="81"/>
<use href="#k5c11" x="901" y="81"/>
<use href="#k5c10" x="836" y="81"/>
<use href="#k5c12" x="888" y="81"/>
<use href="#k5c20" x="814" y="81"/>
<use href="#k5c20" x="807" y="82"/>
<use href="#k5c21" x="783" y="82"/>
<use href="#k5c12" x="874" y="82"/>
<use href="#k5c12" x="840" y="82"/>
<use href="#k5c10" x="895" y="82"/>
<use href="#k5c20" x="789" y="82"/>
<use href="#k5c21" x="854" y="82"/>
<use href="#k5c11" x="862" y="82"/>
<use href="#k5c11" x="907" y="82"/>
<use href="#k5c22" x="802" y="82"/>
<use href="#k5c11" x="881" y="82"/>
<use href="#k5c11" x="829" y="83"/>
<use href="#k5c20" x="821" y="83"/>
<use href="#k5c11" x="883" y="86"/>
<use href="#k5c22" x="811" y="86"/>
<use href="#k5c21" x="777" y="86"/>
<use href="#k5c21" x="803" y="86"/>
<use href="#k5c21" x="773" y="86"/>
<use href="#k5c20" x="865" y="86"/>
<use href="#k5c10" x="817" y="87"/>
<use href="#k5c22" x="838" y="87"/>
<use href="#k5c10" x="891" y="87"/>
<use href="#k5c10" x="825" y="87"/>
<use href="#k5c12" x="871" y="87"/>
<use href="#k5c20" x="784" y="88"/>
<use href="#k5c21" x="798" y="88"/>
<use href="#k5c21" x="845" y="88"/>
<use href="#k5c20" x="850" y="88"/>
<use href="#k5c20" x="793" y="88"/>
<use href="#k5c20" x="904" y="88"/>
<use href="#k5c20" x="857" y="88"/>
<use href="#k5c20" x="899" y="88"/>
<use href="#k5c22" x="830" y="88"/>
<use href="#k5c10" x="876" y="88"/>
<use href="#k5c10" x="840" y="92"/>
<use href="#k5c20" x="899" y="92"/>
<use href="#k5c12" x="886" y="92"/>
<use href="#k5c21" x="854" y="92"/>
<use href="#k5c22" x="809" y="92"/>
<use href="#k5c20" x="796" y="92"/>
<use href="#k5c21" x="800" y="92"/>
<use href="#k5c21" x="907" y="93"/>
<use href="#k5c10" x="867" y="93"/>
<use href="#k5c22" x="776" y="93"/>
<use href="#k5c20" x="849" y="93"/>
<use href="#k5c20" x="827" y="93"/>
<use href="#k5c11" x="876" y="93"/>
<use href="#k5c20" x="787" y="94"/>
<use href="#k5c11" x="894" y="94"/>
<use href="#k5c21" x="815" y="94"/>
<use href="#k5c22" x="781" y="94"/>
<use href="#k5c21" x="860" y="94"/>
<use href="#k5c21" x="768" y="94"/>
<use href="#k5c10" x="882" y="94"/>
<use href="#k5c22" x="820" y="94"/>
<use href="#k5c11" x="834" y="94"/>
<use href="#k5c11" x="879" y="97"/>
<use href="#k5c11" x="864" y="97"/>
<use href="#k5c11" x="892" y="97"/>
<use href="#k5c10" x="871" y="97"/>
<use href="#k5c21" x="804" y="97"/>
<use href="#k5c12" x="885" y="97"/>
<use href="#k5c20" x="799" y="98"/>
<use href="#k5c10" x="903" y="98"/>
<use href="#k5c21" x="824" y="98"/>
<use href="#k5c20" x="846" y="98"/>
<use href="#k5c20" x="850" y="98"/>
<use href="#k5c22" x="819" y="98"/>
<use href="#k5c11" x="858" y="98"/>
<use href="#k5c20" x="791" y="99"/>
<use href="#k5c21" x="897" y="99"/>
<use href="#k5c22" x="771" y="99"/>
<use href="#k5c22" x="784" y="99"/>
<use href="#k5c20" x="839" y="99"/>
<use href="#k5c20" x="812" y="100"/>
<use href="#k5c10" x="832" y="100"/>
<use href="#k5c20" x="780" y="100"/>
<use href="#k5c12" x="835" y="103"/>
<use href="#k5c10" x="874" y="103"/>
<use href="#k5c20" x="902" y="103"/>
<use href="#k5c12" x="776" y="104"/>
<use href="#k5c10" x="840" y="104"/>
<use href="#k5c11" x="780" y="104"/>
<use href="#k5c11" x="827" y="104"/>
<use href="#k5c20" x="847" y="104"/>
<use href="#k5c11" x="888" y="104"/>
<use href="#k5c12" x="882" y="105"/>
<use href="#k5c10" x="814" y="105"/>
<use href="#k5c11" x="906" y="105"/>
<use href="#k5c12" x="893" y="105"/>
<use href="#k5c20" x="861" y="105"/>
<use href="#k5c22" x="795" y="105"/>
<use href="#k5c10" x="809" y="105"/>
<use href="#k5c10" x="821" y="105"/>
<use href="#k5c21" x="854" y="105"/>
<use href="#k5c11" x="868" y="105"/>
<use href="#k5c11" x="801" y="105"/>
<use href="#k5c10" x="770" y="105"/>
<use href="#k5c22" x="790" y="106"/>
<use href="#k5c22" x="851" y="109"/>
<use href="#k5c12" x="791" y="109"/>
<use href="#k5c12" x="898" y="109"/>
<use href="#k5c10" x="797" y="109"/>
<use href="#k5c10" x="832" y="109"/>
<use href="#k5c12" x="811" y="109"/>
<use href="#k5c11" x="778" y="109"/>
<use href="#k5c10" x="806" y="110"/>
<use href="#k5c12" x="885" y="110"/>
<use href="#k5c12" x="879" y="110"/>
<use href="#k5c11" x="784" y="110"/>
<use href="#k5c20" x="891" y="110"/>
<use href="#k5c11" x="818" y="110"/>
<use href="#k5c22" x="771" y="111"/>
<use href="#k5c10" x="871" y="111"/>
<use href="#k5c12" x="843" y="111"/>
<use href="#k5c21" x="858" y="111"/>
<use href="#k5c21" x="863" y="111"/>
<use href="#k5c10" x="837" y="111"/>
<use href="#k5c11" x="824" y="111"/>
<use href="#k5c12" x="903" y="111"/>
<use href="#k5c22" x="866" y="114"/>
<use href="#k5c12" x="800" y="115"/>
<use href="#k5c11" x="907" y="115"/>
<use href="#k5c11" x="841" y="115"/>
<use href="#k5c21" x="895" y="115"/>
<use href="#k5c20" x="833" y="115"/>
<use href="#k5c10" x="783" y="115"/>
<use href="#k5c12" x="900" y="115"/>
<use href="#k5c11" x="821" y="116"/>
<use href="#k5c20" x="889" y="116"/>
<use href="#k5c11" x="879" y="116"/>
<use href="#k5c11" x="862" y="116"/>
<use href="#k5c10" x="770" y="116"/>
<use href="#k5c22" x="829" y="116"/>
<use href="#k5c12" x="795" y="116"/>
<use href="#k5c10" x="776" y="117"/>
<use href="#k5c12" x="789" y="117"/>
<use href="#k5c12" x="809" y="117"/>
<use href="#k5c10" x="874" y="117"/>
<use href="#k5c20" x="849" y="117"/>
<use href="#k5c10" x="816" y="117"/>
<use href="#k5c21" x="855" y="117"/>
<use href="#k5c12" x="791" y="120"/>
<use href="#k5c10" x="817" y="120"/>
<use href="#k5c21" x="898" y="120"/>
<use href="#k5c10" x="858" y="120"/>
<use href="#k5c22" x="771" y="121"/>
<use href="#k5c10" x="839" y="121"/>
<use href="#k5c22" x="904" y="121"/>
<use href="#k5c11" x="869" y="121"/>
<use href="#k5c12" x="863" y="121"/>
<use href="#k5c12" x="805" y="121"/>
<use href="#k5c10" x="786" y="121"/>
<use href="#k5c12" x="889" y="121"/>
<use href="#k5c12" x="813" y="121"/>
<use href="#k5c12" x="879" y="122"/>
<use href="#k5c11" x="824" y="122"/>
<use href="#k5c11" x="777" y="122"/>
<use href="#k5c10" x="884" y="122"/>
<use href="#k5c12" x="844" y="122"/>
<use href="#k5c11" x="799" y="122"/>
<use href="#k5c11" x="851" y="123"/>
<use href="#k5c10" x="830" y="123"/>
<use href="#k5c21" x="900" y="126"/>
<use href="#k5c10" x="788" y="126"/>
<use href="#k5c12" x="807" y="127"/>
<use href="#k5c10" x="840" y="127"/>
<use href="#k5c12" x="795" y="127"/>
<use href="#k5c12" x="860" y="127"/>
<use href="#k5c12" x="822" y="127"/>
<use href="#k5c11" x="833" y="127"/>
<use href="#k5c12" x="849" y="127"/>
<use href="#k5c21" x="880" y="127"/>
<use href="#k5c11" x="855" y="127"/>
<use href="#k5c10" x="829" y="127"/>
<use href="#k5c11" x="887" y="128"/>
<use href="#k5c10" x="776" y="128"/>
<use href="#k5c21" x="895" y="128"/>
<use href="#k5c11" x="801" y="128"/>
<use href="#k5c12" x="781" y="128"/>
<use href="#k5c12" x="769" y="128"/>
<use href="#k5c22" x="908" y="128"/>
<use href="#k5c10" x="815" y="128"/>
<use href="#k5c10" x="874" y="128"/>
<use href="#k5c12" x="869" y="128"/>
<use href="#k5c21" x="877" y="132"/>
<use href="#k5c10" x="843" y="132"/>
<use href="#k5c10" x="792" y="132"/>
<use href="#k5c11" x="871" y="132"/>
<use href="#k5c12" x="885" y="132"/>
<use href="#k5c10" x="784" y="132"/>
<use href="#k5c21" x="890" y="132"/>
<use href="#k5c21" x="771" y="133"/>
<use href="#k5c10" x="856" y="133"/>
<use href="#k5c10" x="799" y="133"/>
<use href="#k5c11" x="817" y="133"/>
<use href="#k5c12" x="804" y="133"/>
<use href="#k5c11" x="865" y="133"/>
<use href="#k5c10" x="838" y="134"/>
<use href="#k5c20" x="898" y="134"/>
<use href="#k5c12" x="812" y="134"/>
<use href="#k5c11" x="850" y="134"/>
<use href="#k5c20" x="903" y="134"/>
<use href="#k5c10" x="779" y="134"/>
<use href="#k5c12" x="824" y="134"/>
<use href="#k5c20" x="830" y="134"/>
<use href="#k5c10" x="782" y="137"/>
<use href="#k5c20" x="906" y="137"/>
<use href="#k5c12" x="769" y="137"/>
<use href="#k5c20" x="901" y="137"/>
<use href="#k5c12" x="814" y="138"/>
<use href="#k5c10" x="788" y="138"/>
<use href="#k5c20" x="861" y="138"/>
<use href="#k5c11" x="834" y="138"/>
<use href="#k5c12" x="854" y="138"/>
<use href="#k5c10" x="822" y="138"/>
<use href="#k5c22" x="894" y="138"/>
<use href="#k5c12" x="775" y="138"/>
<use href="#k5c11" x="828" y="138"/>
<use href="#k5c20" x="887" y="139"/>
<use href="#k5c11" x="840" y="139"/>
<use href="#k5c22" x="875" y="139"/>
<use href="#k5c11" x="808" y="139"/>
<use href="#k5c12" x="796" y="139"/>
<use href="#k5c22" x="868" y="139"/>
<use href="#k5c12" x="800" y="140"/>
<use href="#k5c21" x="880" y="140"/>
<use href="#k5c12" x="847" y="140"/>
<use href="#k5c11" x="870" y="143"/>
<use href="#k5c22" x="885" y="144"/>
<use href="#k5c20" x="832" y="144"/>
<use href="#k5c20" x="771" y="144"/>
<use href="#k5c11" x="817" y="144"/>
<use href="#k5c10" x="812" y="144"/>
<use href="#k5c22" x="777" y="144"/>
<use href="#k5c11" x="799" y="144"/>
<use href="#k5c21" x="904" y="144"/>
<use href="#k5c21" x="876" y="144"/>
<use href="#k5c11" x="890" y="144"/>
<use href="#k5c21" x="826" y="145"/>
<use href="#k5c21" x="857" y="145"/>
<use href="#k5c10" x="804" y="145"/>
<use href="#k5c21" x="865" y="145"/>
<use href="#k5c11" x="791" y="146"/>
<use href="#k5c22" x="850" y="146"/>
<use href="#k5c21" x="844" y="146"/>
<use href="#k5c10" x="786" y="146"/>
<use href="#k5c11" x="896" y="146"/>
<use href="#k5c22" x="838" y="146"/>
<use href="#k5c20" x="894" y="149"/>
<use href="#k5c20" x="834" y="149"/>
<use href="#k5c22" x="880" y="149"/>
<use href="#k5c10" x="874" y="149"/>
<use href="#k5c11" x="781" y="149"/>
<use href="#k5c10" x="788" y="149"/>
<use href="#k5c21" x="862" y="149"/>
<use href="#k5c11" x="902" y="149"/>
<use href="#k5c22" x="855" y="149"/>
<use href="#k5c12" x="801" y="150"/>
<use href="#k5c12" x="907" y="150"/>
<use href="#k5c21" x="829" y="150"/>
<use href="#k5c11" x="794" y="150"/>
<use href="#k5c21" x="822" y="150"/>
<use href="#k5c12" x="809" y="150"/>
<use href="#k5c22" x="847" y="151"/>
<use href="#k5c10" x="813" y="151"/>
<use href="#k5c21" x="888" y="151"/>
<use href="#k5c22" x="769" y="151"/>
<use href="#k5c22" x="842" y="151"/>
<use href="#k5c20" x="776" y="151"/>
<use href="#k5c20" x="868" y="151"/>
<use href="#k5c12" x="785" y="155"/>
<use href="#k5c21" x="870" y="155"/>
<use href="#k5c12" x="892" y="155"/>
<use href="#k5c12" x="819" y="155"/>
<use href="#k5c21" x="857" y="155"/>
<use href="#k5c22" x="878" y="155"/>
<use href="#k5c12" x="813" y="155"/>
<use href="#k5c11" x="904" y="155"/>
<use href="#k5c22" x="864" y="155"/>
<use href="#k5c20" x="846" y="156"/>
<use href="#k5c22" x="839" y="156"/>
<use href="#k5c21" x="851" y="156"/>
<use href="#k5c21" x="777" y="156"/>
<use href="#k5c20" x="771" y="156"/>
<use href="#k5c11" x="825" y="156"/>
<use href="#k5c12" x="804" y="156"/>
<use href="#k5c10" x="792" y="156"/>
<use href="#k5c21" x="832" y="156"/>
<use href="#k5c10" x="896" y="157"/>
<use href="#k5c21" x="884" y="157"/>
<use href="#k5c11" x="798" y="157"/>
<use href="#k5c20" x="769" y="160"/>
<use href="#k5c11" x="822" y="160"/>
<use href="#k5c22" x="859" y="160"/>
<use href="#k5c11" x="867" y="160"/>
<use href="#k5c12" x="802" y="161"/>
<use href="#k5c20" x="783" y="161"/>
<use href="#k5c10" x="795" y="161"/>
<use href="#k5c20" x="775" y="161"/>
<use href="#k5c22" x="880" y="161"/>
<use href="#k5c22" x="889" y="161"/>
<use href="#k5c10" x="789" y="161"/>
<use href="#k5c11" x="900" y="161"/>
<use href="#k5c22" x="836" y="161"/>
<use href="#k5c22" x="827" y="162"/>
<use href="#k5c11" x="816" y="162"/>
<use href="#k5c21" x="854" y="162"/>
<use href="#k5c22" x="875" y="162"/>
<use href="#k5c21" x="841" y="162"/>
<use href="#k5c21" x="848" y="162"/>
<use href="#k5c11" x="895" y="162"/>
<use href="#k5c10" x="808" y="162"/>
<use href="#k5c10" x="906" y="163"/>
<use href="#k5c12" x="800" y="166"/>
<use href="#k5c11" x="851" y="166"/>
<use href="#k5c22" x="777" y="166"/>
<use href="#k5c21" x="831" y="166"/>
<use href="#k5c21" x="845" y="166"/>
<use href="#k5c12" x="902" y="166"/>
<use href="#k5c22" x="872" y="166"/>
<use href="#k5c20" x="837" y="166"/>
<use href="#k5c10" x="806" y="167"/>
<use href="#k5c12" x="892" y="167"/>
<use href="#k5c20" x="826" y="167"/>
<use href="#k5c20" x="878" y="167"/>
<use href="#k5c11" x="785" y="168"/>
<use href="#k5c12" x="865" y="168"/>
<use href="#k5c12" x="817" y="168"/>
<use href="#k5c10" x="811" y="168"/>
<use href="#k5c12" x="897" y="168"/>
<use href="#k5c10" x="858" y="168"/>
<use href="#k5c10" x="791" y="168"/>
<use href="#k5c21" x="885" y="168"/>
<use href="#k5c21" x="772" y="169"/>
<use href="#k5c12" x="908" y="172"/>
<use href="#k5c12" x="893" y="172"/>
<use href="#k5c21" x="802" y="172"/>
<use href="#k5c11" x="855" y="172"/>
<use href="#k5c22" x="835" y="172"/>
<use href="#k5c11" x="862" y="172"/>
<use href="#k5c11" x="868" y="173"/>
<use href="#k5c22" x="842" y="173"/>
<use href="#k5c10" x="822" y="173"/>
<use href="#k5c11" x="900" y="173"/>
<use href="#k5c22" x="770" y="173"/>
<use href="#k5c22" x="774" y="174"/>
<use href="#k5c22" x="849" y="174"/>
<use href="#k5c22" x="880" y="174"/>
<use href="#k5c10" x="814" y="174"/>
<use href="#k5c22" x="794" y="174"/>
<use href="#k5c22" x="886" y="174"/>
<use href="#k5c21" x="827" y="174"/>
<use href="#k5c11" x="807" y="174"/>
<use href="#k5c20" x="782" y="174"/>
<use href="#k5c21" x="873" y="174"/>
<use href="#k5c21" x="787" y="174"/>
<use href="#k5c20" x="877" y="177"/>
<use href="#k5c20" x="772" y="177"/>
<use href="#k5c20" x="799" y="177"/>
<use href="#k5c21" x="779" y="177"/>
<use href="#k5c20" x="825" y="178"/>
<use href="#k5c11" x="905" y="178"/>
<use href="#k5c11" x="897" y="178"/>
<use href="#k5c10" x="891" y="178"/>
<use href="#k5c21" x="786" y="178"/>
<use href="#k5c11" x="864" y="178"/>
<use href="#k5c10" x="806" y="178"/>
<use href="#k5c20" x="885" y="179"/>
<use href="#k5c22" x="837" y="179"/>
<use href="#k5c10" x="818" y="179"/>
<use href="#k5c10" x="852" y="179"/>
<use href="#k5c12" x="858" y="179"/>
<use href="#k5c21" x="832" y="180"/>
<use href="#k5c20" x="844" y="180"/>
<use href="#k5c20" x="870" y="180"/>
<use href="#k5c20" x="792" y="180"/>
<use href="#k5c10" x="811" y="180"/>
<use href="#k5c20" x="802" y="183"/>
<use href="#k5c22" x="840" y="183"/>
<use href="#k5c21" x="847" y="183"/>
<use href="#k5c11" x="894" y="183"/>
<use href="#k5c22" x="882" y="183"/>
<use href="#k5c11" x="853" y="183"/>
<use href="#k5c20" x="835" y="184"/>
<use href="#k5c21" x="860" y="184"/>
<use href="#k5c21" x="875" y="184"/>
<use href="#k5c11" x="906" y="184"/>
<use href="#k5c12" x="816" y="184"/>
<use href="#k5c20" x="828" y="184"/>
<use href="#k5c20" x="790" y="184"/>
<use href="#k5c21" x="887" y="184"/>
<use href="#k5c22" x="769" y="185"/>
<use href="#k5c20" x="774" y="185"/>
<use href="#k5c12" x="808" y="185"/>
<use href="#k5c22" x="867" y="185"/>
<use href="#k5c10" x="902" y="185"/>
<use href="#k5c22" x="795" y="186"/>
<use href="#k5c22" x="781" y="186"/>
<use href="#k5c20" x="821" y="186"/>
<use href="#k5c22" x="837" y="189"/>
<use href="#k5c20" x="833" y="189"/>
<use href="#k5c11" x="903" y="189"/>
<use href="#k5c22" x="792" y="189"/>
<use href="#k5c12" x="891" y="190"/>
<use href="#k5c20" x="884" y="190"/>
<use href="#k5c11" x="798" y="190"/>
<use href="#k5c22" x="864" y="190"/>
<use href="#k5c22" x="771" y="190"/>
<use href="#k5c10" x="825" y="190"/>
<use href="#k5c20" x="859" y="190"/>
<use href="#k5c21" x="850" y="190"/>
<use href="#k5c22" x="844" y="190"/>
<use href="#k5c10" x="897" y="191"/>
<use href="#k5c12" x="819" y="191"/>
<use href="#k5c20" x="871" y="191"/>
<use href="#k5c22" x="786" y="191"/>
<use href="#k5c22" x="778" y="191"/>
<use href="#k5c22" x="876" y="191"/>
<use href="#k5c10" x="812" y="191"/>
<use href="#k5c22" x="805" y="192"/>
<use href="#k5c21" x="902" y="194"/>
<use href="#k5c10" x="868" y="194"/>
<use href="#k5c10" x="803" y="194"/>
<use href="#k5c20" x="840" y="195"/>
<use href="#k5c11" x="888" y="195"/>
<use href="#k5c20" x="769" y="195"/>
<use href="#k5c10" x="789" y="195"/>
<use href="#k5c22" x="823" y="195"/>
<use href="#k5c20" x="834" y="195"/>
<use href="#k5c21" x="856" y="195"/>
<use href="#k5c10" x="881" y="196"/>
<use href="#k5c11" x="829" y="196"/>
<use href="#k5c11" x="816" y="196"/>
<use href="#k5c10" x="907" y="196"/>
<use href="#k5c11" x="781" y="196"/>
<use href="#k5c21" x="873" y="196"/>
<use href="#k5c21" x="807" y="196"/>
<use href="#k5c12" x="776" y="197"/>
<use href="#k5c22" x="794" y="197"/>
<use href="#k5c10" x="894" y="197"/>
<use href="#k5c22" x="848" y="197"/>
<use href="#k5c20" x="860" y="197"/>
<use href="#k5c11" x="831" y="200"/>
<use href="#k5c11" x="845" y="200"/>
<use href="#k5c22" x="897" y="200"/>
<use href="#k5c20" x="864" y="201"/>
<use href="#k5c22" x="877" y="201"/>
<use href="#k5c11" x="804" y="201"/>
<use href="#k5c22" x="818" y="201"/>
<use href="#k5c11" x="779" y="201"/>
<use href="#k5c12" x="839" y="201"/>
<use href="#k5c22" x="811" y="201"/>
<use href="#k5c11" x="791" y="201"/>
<use href="#k5c11" x="852" y="202"/>
<use href="#k5c10" x="884" y="202"/>
<use href="#k5c10" x="771" y="202"/>
<use href="#k5c10" x="871" y="202"/>
<use href="#k5c11" x="798" y="202"/>
<use href="#k5c10" x="891" y="203"/>
<use href="#k5c20" x="903" y="203"/>
<use href="#k5c22" x="858" y="203"/>
<use href="#k5c22" x="825" y="203"/>
<use href="#k5c12" x="785" y="203"/>
<use href="#k5c11" x="854" y="206"/>
<use href="#k5c10" x="794" y="206"/>
<use href="#k5c22" x="900" y="206"/>
<use href="#k5c11" x="889" y="206"/>
<use href="#k5c20" x="807" y="206"/>
<use href="#k5c22" x="829" y="206"/>
<use href="#k5c10" x="781" y="207"/>
<use href="#k5c21" x="881" y="207"/>
<use href="#k5c11" x="875" y="207"/>
<use href="#k5c20" x="822" y="207"/>
<use href="#k5c12" x="848" y="207"/>
<use href="#k5c21" x="814" y="208"/>
<use href="#k5c22" x="770" y="208"/>
<use href="#k5c20" x="835" y="208"/>
<use href="#k5c21" x="893" y="208"/>
<use href="#k5c12" x="868" y="208"/>
<use href="#k5c10" x="789" y="208"/>
<use href="#k5c22" x="860" y="208"/>
<use href="#k5c12" x="774" y="208"/>
<use href="#k5c12" x="841" y="208"/>
<use href="#k5c12" x="800" y="208"/>
<use href="#k5c21" x="907" y="209"/>
<use href="#k5c22" x="891" y="212"/>
<use href="#k5c11" x="799" y="212"/>
<use href="#k5c11" x="838" y="212"/>
<use href="#k5c20" x="786" y="212"/>
<use href="#k5c11" x="852" y="212"/>
<use href="#k5c11" x="872" y="212"/>
<use href="#k5c10" x="778" y="212"/>
<use href="#k5c11" x="830" y="213"/>
<use href="#k5c10" x="844" y="213"/>
<use href="#k5c12" x="858" y="213"/>
<use href="#k5c21" x="896" y="213"/>
<use href="#k5c12" x="813" y="213"/>
<use href="#k5c12" x="818" y="214"/>
<use href="#k5c21" x="792" y="214"/>
<use href="#k5c11" x="863" y="214"/>
<use href="#k5c10" x="825" y="214"/>
<use href="#k5c22" x="877" y="214"/>
<use href="#k5c11" x="806" y="214"/>
<use href="#k5c20" x="883" y="214"/>
<use href="#k5c20" x="903" y="214"/>
<use href="#k5c10" x="773" y="214"/>
<use href="#k5c11" x="821" y="217"/>
<use href="#k5c20" x="796" y="218"/>
<use href="#k5c21" x="886" y="218"/>
<use href="#k5c11" x="901" y="218"/>
<use href="#k5c21" x="906" y="218"/>
<use href="#k5c10" x="894" y="218"/>
<use href="#k5c10" x="866" y="218"/>
<use href="#k5c20" x="787" y="218"/>
<use href="#k5c21" x="781" y="218"/>
<use href="#k5c11" x="775" y="218"/>
<use href="#k5c21" x="803" y="219"/>
<use href="#k5c11" x="854" y="219"/>
<use href="#k5c12" x="769" y="219"/>
<use href="#k5c11" x="848" y="219"/>
<use href="#k5c20" x="875" y="219"/>
<use href="#k5c10" x="834" y="220"/>
<use href="#k5c20" x="879" y="220"/>
<use href="#k5c11" x="815" y="220"/>
<use href="#k5c10" x="842" y="220"/>
<use href="#k5c12" x="862" y="220"/>
<use href="#k5c12" x="828" y="220"/>
<use href="#k5c12" x="809" y="220"/>
<use href="#k5c21" x="804" y="223"/>
<use href="#k5c12" x="865" y="223"/>
<use href="#k5c20" x="899" y="223"/>
<use href="#k5c12" x="824" y="224"/>
<use href="#k5c10" x="872" y="224"/>
<use href="#k5c10" x="810" y="224"/>
<use href="#k5c11" x="773" y="225"/>
<use href="#k5c11" x="831" y="225"/>
<use href="#k5c10" x="843" y="225"/>
<use href="#k5c11" x="779" y="225"/>
<use href="#k5c21" x="792" y="225"/>
<use href="#k5c20" x="800" y="225"/>
<use href="#k5c22" x="905" y="225"/>
<use href="#k5c20" x="876" y="225"/>
<use href="#k5c12" x="850" y="225"/>
<use href="#k5c11" x="786" y="225"/>
<use href="#k5c21" x="885" y="225"/>
<use href="#k5c10" x="817" y="225"/>
<use href="#k5c11" x="889" y="226"/>
<use href="#k5c10" x="838" y="226"/>
<use href="#k5c11" x="857" y="226"/>
<use href="#k5c12" x="860" y="229"/>
<use href="#k5c10" x="802" y="229"/>
<use href="#k5c12" x="834" y="229"/>
<use href="#k5c22" x="855" y="229"/>
<use href="#k5c20" x="901" y="229"/>
<use href="#k5c12" x="780" y="229"/>
<use href="#k5c11" x="848" y="229"/>
<use href="#k5c10" x="788" y="230"/>
<use href="#k5c21" x="881" y="230"/>
<use href="#k5c12" x="775" y="230"/>
<use href="#k5c10" x="820" y="230"/>
<use href="#k5c11" x="816" y="230"/>
<use href="#k5c10" x="875" y="230"/>
<use href="#k5c11" x="828" y="231"/>
<use href="#k5c11" x="886" y="231"/>
<use href="#k5c21" x="906" y="231"/>
<use href="#k5c22" x="795" y="231"/>
<use href="#k5c11" x="841" y="231"/>
<use href="#k5c21" x="867" y="231"/>
<use href="#k5c11" x="768" y="231"/>
<use href="#k5c12" x="895" y="231"/>
<use href="#k5c11" x="809" y="231"/>
<use href="#k5c11" x="897" y="235"/>
<use href="#k5c20" x="864" y="235"/>
<use href="#k5c20" x="852" y="235"/>
<use href="#k5c10" x="905" y="235"/>
<use href="#k5c10" x="811" y="235"/>
<use href="#k5c11" x="890" y="235"/>
<use href="#k5c10" x="817" y="235"/>
<use href="#k5c22" x="790" y="236"/>
<use href="#k5c12" x="771" y="236"/>
<use href="#k5c11" x="824" y="236"/>
<use href="#k5c10" x="838" y="236"/>
<use href="#k5c12" x="779" y="236"/>
<use href="#k5c10" x="877" y="236"/>
<use href="#k5c12" x="845" y="237"/>
<use href="#k5c10" x="832" y="237"/>
<use href="#k5c12" x="785" y="237"/>
<use href="#k5c21" x="859" y="237"/>
<use href="#k5c10" x="798" y="237"/>
<use href="#k5c12" x="804" y="237"/>
<use href="#k5c11" x="884" y="237"/>
<use href="#k5c21" x="871" y="237"/>
<use href="#k5c10" x="907" y="240"/>
<use href="#k5c12" x="821" y="240"/>
<use href="#k5c11" x="829" y="240"/>
<use href="#k5c12" x="873" y="240"/>
<use href="#k5c10" x="803" y="240"/>
<use href="#k5c11" x="879" y="241"/>
<use href="#k5c10" x="789" y="241"/>
<use href="#k5c20" x="854" y="241"/>
<use href="#k5c12" x="886" y="241"/>
<use href="#k5c22" x="848" y="242"/>
<use href="#k5c21" x="867" y="242"/>
<use href="#k5c11" x="835" y="242"/>
<use href="#k5c11" x="768" y="242"/>
<use href="#k5c10" x="796" y="242"/>
<use href="#k5c21" x="861" y="242"/>
<use href="#k5c22" x="842" y="242"/>
<use href="#k5c10" x="783" y="242"/>
<use href="#k5c12" x="776" y="242"/>
<use href="#k5c10" x="895" y="242"/>
<use href="#k5c11" x="809" y="242"/>
<use href="#k5c10" x="902" y="243"/>
<use href="#k5c12" x="813" y="243"/>
<use href="#k5c10" x="771" y="246"/>
<use href="#k5c10" x="878" y="246"/>
<use href="#k5c20" x="858" y="246"/>
<use href="#k5c12" x="897" y="246"/>
<use href="#k5c10" x="786" y="246"/>
<use href="#k5c11" x="811" y="246"/>
<use href="#k5c12" x="870" y="247"/>
<use href="#k5c11" x="790" y="247"/>
<use href="#k5c11" x="891" y="247"/>
<use href="#k5c12" x="885" y="247"/>
<use href="#k5c12" x="831" y="247"/>
<use href="#k5c10" x="805" y="248"/>
<use href="#k5c12" x="904" y="248"/>
<use href="#k5c12" x="852" y="248"/>
<use href="#k5c12" x="863" y="248"/>
<use href="#k5c22" x="844" y="248"/>
<use href="#k5c10" x="838" y="248"/>
<use href="#k5c11" x="825" y="248"/>
<use href="#k5c11" x="797" y="248"/>
<use href="#k5c12" x="817" y="249"/>
<use href="#k5c11" x="777" y="249"/>
<use href="#k5c12" x="808" y="252"/>
<use href="#k5c12" x="874" y="252"/>
<use href="#k5c10" x="888" y="252"/>
<use href="#k5c10" x="880" y="252"/>
<use href="#k5c12" x="801" y="252"/>
<use href="#k5c10" x="815" y="252"/>
<use href="#k5c20" x="793" y="252"/>
<use href="#k5c20" x="834" y="252"/>
<use href="#k5c11" x="769" y="253"/>
<use href="#k5c20" x="854" y="253"/>
<use href="#k5c12" x="829" y="253"/>
<use href="#k5c11" x="900" y="253"/>
<use href="#k5c20" x="842" y="253"/>
<use href="#k5c11" x="774" y="253"/>
<use href="#k5c11" x="782" y="254"/>
<use href="#k5c21" x="859" y="254"/>
<use href="#k5c22" x="847" y="254"/>
<use href="#k5c12" x="822" y="254"/>
<use href="#k5c11" x="868" y="254"/>
<use href="#k5c11" x="893" y="254"/>
<use href="#k5c11" x="788" y="254"/>
<use href="#k5c21" x="907" y="254"/>
<use href="#k5c20" x="811" y="257"/>
<use href="#k5c20" x="845" y="257"/>
<use href="#k5c11" x="859" y="258"/>
<use href="#k5c20" x="903" y="258"/>
<use href="#k5c11" x="817" y="258"/>
<use href="#k5c11" x="777" y="258"/>
<use href="#k5c11" x="772" y="258"/>
<use href="#k5c20" x="831" y="258"/>
<use href="#k5c12" x="878" y="258"/>
<use href="#k5c21" x="838" y="258"/>
<use href="#k5c21" x="898" y="259"/>
<use href="#k5c10" x="784" y="259"/>
<use href="#k5c10" x="806" y="259"/>
<use href="#k5c10" x="850" y="259"/>
<use href="#k5c12" x="885" y="260"/>
<use href="#k5c10" x="863" y="260"/>
<use href="#k5c12" x="870" y="260"/>
<use href="#k5c10" x="824" y="260"/>
<use href="#k5c10" x="791" y="260"/>
<use href="#k5c11" x="890" y="260"/>
<use href="#k5c11" x="799" y="260"/>
<use href="#k5c11" x="860" y="263"/>
<use href="#k5c12" x="855" y="263"/>
<use href="#k5c20" x="882" y="263"/>
<use href="#k5c21" x="841" y="264"/>
<use href="#k5c11" x="820" y="264"/>
<use href="#k5c11" x="888" y="264"/>
<use href="#k5c12" x="876" y="264"/>
<use href="#k5c10" x="781" y="264"/>
<use href="#k5c10" x="815" y="264"/>
<use href="#k5c22" x="906" y="264"/>
<use href="#k5c10" x="775" y="264"/>
<use href="#k5c20" x="828" y="264"/>
<use href="#k5c22" x="835" y="264"/>
<use href="#k5c10" x="794" y="265"/>
<use href="#k5c11" x="803" y="265"/>
<use href="#k5c12" x="769" y="265"/>
<use href="#k5c11" x="787" y="265"/>
<use href="#k5c10" x="868" y="265"/>
<use href="#k5c11" x="807" y="266"/>
<use href="#k5c10" x="893" y="266"/>
<use href="#k5c12" x="847" y="266"/>
<use href="#k5c10" x="901" y="266"/>
<use href="#k5c21" x="838" y="269"/>
<use href="#k5c12" x="779" y="269"/>
<use href="#k5c21" x="791" y="269"/>
<use href="#k5c10" x="819" y="269"/>
<use href="#k5c10" x="813" y="270"/>
<use href="#k5c10" x="785" y="270"/>
<use href="#k5c11" x="871" y="270"/>
<use href="#k5c22" x="884" y="270"/>
<use href="#k5c22" x="830" y="270"/>
<use href="#k5c21" x="799" y="270"/>
<use href="#k5c10" x="897" y="270"/>
<use href="#k5c20" x="878" y="270"/>
<use href="#k5c12" x="844" y="270"/>
<use href="#k5c12" x="804" y="270"/>
<use href="#k5c20" x="850" y="271"/>
<use href="#k5c11" x="865" y="271"/>
<use href="#k5c12" x="773" y="271"/>
<use href="#k5c10" x="889" y="271"/>
<use href="#k5c21" x="825" y="271"/>
<use href="#k5c11" x="904" y="272"/>
<use href="#k5c10" x="857" y="272"/>
<use href="#k5c10" x="841" y="275"/>
<use href="#k5c11" x="907" y="275"/>
<use href="#k5c12" x="809" y="275"/>
<use href="#k5c20" x="868" y="275"/>
<use href="#k5c11" x="875" y="275"/>
<use href="#k5c10" x="901" y="275"/>
<use href="#k5c20" x="787" y="275"/>
<use href="#k5c22" x="882" y="275"/>
<use href="#k5c20" x="888" y="276"/>
<use href="#k5c12" x="776" y="276"/>
<use href="#k5c22" x="862" y="276"/>
<use href="#k5c12" x="820" y="276"/>
<use href="#k5c11" x="816" y="276"/>
<use href="#k5c12" x="801" y="277"/>
<use href="#k5c21" x="847" y="277"/>
<use href="#k5c20" x="895" y="277"/>
<use href="#k5c21" x="854" y="277"/>
<use href="#k5c12" x="783" y="277"/>
<use href="#k5c12" x="795" y="277"/>
<use href="#k5c11" x="834" y="277"/>
<use href="#k5c22" x="828" y="277"/>
<use href="#k5c12" x="767" y="277"/>
<use href="#k5c10" x="790" y="280"/>
<use href="#k5c10" x="811" y="280"/>
<use href="#k5c11" x="798" y="281"/>
<use href="#k5c12" x="871" y="281"/>
<use href="#k5c10" x="830" y="281"/>
<use href="#k5c10" x="825" y="281"/>
<use href="#k5c11" x="903" y="281"/>
<use href="#k5c12" x="891" y="281"/>
<use href="#k5c20" x="858" y="282"/>
<use href="#k5c12" x="898" y="282"/>
<use href="#k5c12" x="846" y="282"/>
<use href="#k5c22" x="771" y="282"/>
<use href="#k5c21" x="884" y="282"/>
<use href="#k5c22" x="877" y="282"/>
<use href="#k5c11" x="805" y="282"/>
<use href="#k5c10" x="786" y="282"/>
<use href="#k5c11" x="780" y="282"/>
<use href="#k5c10" x="817" y="283"/>
<use href="#k5c21" x="837" y="283"/>
<use href="#k5c22" x="851" y="283"/>
<use href="#k5c20" x="863" y="283"/>
<use href="#k5c22" x="776" y="286"/>
<use href="#k5c22" x="861" y="286"/>
<use href="#k5c21" x="868" y="286"/>
<use href="#k5c21" x="875" y="286"/>
<use href="#k5c20" x="901" y="286"/>
<use href="#k5c12" x="814" y="286"/>
<use href="#k5c11" x="783" y="287"/>
<use href="#k5c10" x="808" y="287"/>
<use href="#k5c11" x="803" y="287"/>
<use href="#k5c20" x="882" y="287"/>
<use href="#k5c22" x="841" y="287"/>
<use href="#k5c10" x="821" y="287"/>
<use href="#k5c12" x="829" y="288"/>
<use href="#k5c11" x="835" y="288"/>
<use href="#k5c11" x="788" y="288"/>
<use href="#k5c11" x="906" y="288"/>
<use href="#k5c22" x="847" y="288"/>
<use href="#k5c10" x="794" y="288"/>
<use href="#k5c11" x="894" y="288"/>
<use href="#k5c12" x="888" y="288"/>
<use href="#k5c22" x="855" y="288"/>
<use href="#k5c20" x="770" y="289"/>
<use href="#k5c21" x="877" y="292"/>
<use href="#k5c11" x="806" y="292"/>
<use href="#k5c20" x="844" y="292"/>
<use href="#k5c10" x="838" y="292"/>
<use href="#k5c20" x="851" y="292"/>
<use href="#k5c10" x="792" y="292"/>
<use href="#k5c20" x="864" y="292"/>
<use href="#k5c12" x="825" y="292"/>
<use href="#k5c11" x="831" y="292"/>
<use href="#k5c22" x="857" y="293"/>
<use href="#k5c12" x="819" y="293"/>
<use href="#k5c11" x="890" y="293"/>
<use href="#k5c11" x="811" y="293"/>
<use href="#k5c12" x="904" y="293"/>
<use href="#k5c10" x="798" y="293"/>
<use href="#k5c21" x="871" y="293"/>
<use href="#k5c11" x="785" y="294"/>
<use href="#k5c21" x="778" y="294"/>
<use href="#k5c22" x="897" y="294"/>
<use href="#k5c21" x="772" y="294"/>
<use href="#k5c20" x="885" y="294"/>
</g>
<rect x="772.5" y="5.5" width="133.5" height="289" fill="url(#dith)" opacity="0.3"/>
<defs><circle id="k6g10" r="2.80" class="g1"/></defs>
<defs><circle id="k6g11" r="3.10" class="g1"/></defs>
<defs><circle id="k6g12" r="3.40" class="g1"/></defs>
<defs><circle id="k6g20" r="2.80" class="g2"/></defs>
<defs><circle id="k6g21" r="3.10" class="g2"/></defs>
<defs><circle id="k6g22" r="3.40" class="g2"/></defs>
<defs><circle id="k6g30" r="2.80" class="g3"/></defs>
<defs><circle id="k6g31" r="3.10" class="g3"/></defs>
<defs><circle id="k6g32" r="3.40" class="g3"/></defs>
<clipPath id="k6"><rect x="0" y="0" width="906" height="400"/></clipPath>
<g clip-path="url(#k6)">
<path d="M876.4,18.28 C870.97,18.9 864.76,19.37 859.64,22.01 C854.52,24.65 849.39,29.92 845.67,34.11 C841.94,38.3 839,42.18 837.29,47.15 C835.58,52.12 836.36,58.01 835.43,63.91 C834.49,69.81 833.25,76.33 831.7,82.54 C830.15,88.74 827.98,95.26 826.11,101.16 C824.25,107.06 821.77,113.11 820.53,117.92 C819.29,122.73 818.35,125.84 818.66,130.03 C818.97,134.22 819.91,136.86 822.39,143.06 C824.87,149.27 831.39,160.29 833.56,167.27 C835.74,174.26 834.18,178.29 835.43,184.97 C836.67,191.64 838.22,202.35 841.01,207.32 C843.81,212.28 847.14,213.37 852.19,214.77 C857.23,216.16 865.38,215.85 871.28,215.7 C877.17,215.54 882.37,215.08 887.57,213.83 C892.77,212.59 899.99,223.92 902.47,208.25 C904.96,192.57 902.47,150.05 902.47,119.78 C902.47,89.52 904.18,43.58 902.47,26.66 C900.77,9.75 896.57,19.68 892.23,18.28 C887.88,16.89 881.83,17.66 876.4,18.28Z" fill="#1e4030"/>
<use href="#k6g22" x="891" y="14"/>
<use href="#k6g20" x="881" y="15"/>
<use href="#k6g21" x="887" y="15"/>
<use href="#k6g21" x="876" y="16"/>
<use href="#k6g11" x="890" y="19"/>
<use href="#k6g20" x="869" y="19"/>
<use href="#k6g10" x="875" y="19"/>
<use href="#k6g22" x="879" y="19"/>
<use href="#k6g20" x="899" y="19"/>
<use href="#k6g22" x="864" y="19"/>
<use href="#k6g32" x="859" y="19"/>
<use href="#k6g21" x="894" y="20"/>
<use href="#k6g11" x="885" y="20"/>
<use href="#k6g20" x="891" y="23"/>
<use href="#k6g10" x="872" y="23"/>
<use href="#k6g22" x="883" y="23"/>
<use href="#k6g20" x="887" y="24"/>
<use href="#k6g22" x="877" y="24"/>
<use href="#k6g22" x="867" y="24"/>
<use href="#k6g22" x="902" y="24"/>
<use href="#k6g32" x="861" y="24"/>
<use href="#k6g30" x="856" y="25"/>
<use href="#k6g21" x="897" y="25"/>
<use href="#k6g21" x="899" y="27"/>
<use href="#k6g20" x="864" y="28"/>
<use href="#k6g22" x="895" y="28"/>
<use href="#k6g12" x="889" y="28"/>
<use href="#k6g10" x="884" y="28"/>
<use href="#k6g22" x="875" y="28"/>
<use href="#k6g20" x="854" y="28"/>
<use href="#k6g12" x="880" y="28"/>
<use href="#k6g21" x="868" y="28"/>
<use href="#k6g22" x="850" y="29"/>
<use href="#k6g20" x="858" y="29"/>
<use href="#k6g21" x="852" y="32"/>
<use href="#k6g20" x="891" y="32"/>
<use href="#k6g21" x="847" y="32"/>
<use href="#k6g22" x="856" y="32"/>
<use href="#k6g20" x="897" y="32"/>
<use href="#k6g20" x="861" y="33"/>
<use href="#k6g22" x="881" y="33"/>
<use href="#k6g21" x="877" y="33"/>
<use href="#k6g20" x="902" y="33"/>
<use href="#k6g20" x="871" y="34"/>
<use href="#k6g22" x="866" y="34"/>
<use href="#k6g20" x="886" y="34"/>
<use href="#k6g22" x="884" y="36"/>
<use href="#k6g21" x="900" y="36"/>
<use href="#k6g22" x="864" y="37"/>
<use href="#k6g11" x="889" y="37"/>
<use href="#k6g11" x="895" y="37"/>
<use href="#k6g11" x="843" y="37"/>
<use href="#k6g22" x="880" y="37"/>
<use href="#k6g12" x="874" y="37"/>
<use href="#k6g20" x="849" y="37"/>
<use href="#k6g10" x="868" y="38"/>
<use href="#k6g12" x="903" y="38"/>
<use href="#k6g22" x="858" y="38"/>
<use href="#k6g20" x="853" y="38"/>
<use href="#k6g11" x="896" y="40"/>
<use href="#k6g11" x="871" y="41"/>
<use href="#k6g20" x="876" y="41"/>
<use href="#k6g10" x="846" y="41"/>
<use href="#k6g10" x="902" y="41"/>
<use href="#k6g10" x="886" y="41"/>
<use href="#k6g22" x="852" y="41"/>
<use href="#k6g11" x="842" y="41"/>
<use href="#k6g10" x="862" y="41"/>
<use href="#k6g22" x="882" y="41"/>
<use href="#k6g12" x="891" y="42"/>
<use href="#k6g20" x="866" y="42"/>
<use href="#k6g21" x="855" y="42"/>
<use href="#k6g10" x="849" y="45"/>
<use href="#k6g11" x="885" y="45"/>
<use href="#k6g12" x="894" y="45"/>
<use href="#k6g22" x="858" y="45"/>
<use href="#k6g10" x="844" y="45"/>
<use href="#k6g21" x="854" y="45"/>
<use href="#k6g12" x="900" y="45"/>
<use href="#k6g20" x="864" y="46"/>
<use href="#k6g21" x="839" y="46"/>
<use href="#k6g20" x="869" y="46"/>
<use href="#k6g20" x="874" y="46"/>
<use href="#k6g10" x="890" y="47"/>
<use href="#k6g10" x="879" y="47"/>
<use href="#k6g22" x="896" y="49"/>
<use href="#k6g22" x="836" y="49"/>
<use href="#k6g10" x="891" y="49"/>
<use href="#k6g12" x="882" y="50"/>
<use href="#k6g21" x="872" y="50"/>
<use href="#k6g21" x="861" y="50"/>
<use href="#k6g10" x="886" y="50"/>
<use href="#k6g22" x="846" y="50"/>
<use href="#k6g12" x="902" y="50"/>
<use href="#k6g20" x="842" y="50"/>
<use href="#k6g20" x="877" y="51"/>
<use href="#k6g22" x="867" y="51"/>
<use href="#k6g22" x="853" y="51"/>
<use href="#k6g21" x="857" y="51"/>
<use href="#k6g21" x="874" y="53"/>
<use href="#k6g22" x="859" y="54"/>
<use href="#k6g21" x="893" y="54"/>
<use href="#k6g20" x="853" y="54"/>
<use href="#k6g22" x="868" y="54"/>
<use href="#k6g10" x="880" y="54"/>
<use href="#k6g22" x="838" y="54"/>
<use href="#k6g10" x="889" y="55"/>
<use href="#k6g20" x="843" y="55"/>
<use href="#k6g21" x="864" y="55"/>
<use href="#k6g11" x="884" y="55"/>
<use href="#k6g21" x="849" y="55"/>
<use href="#k6g21" x="900" y="55"/>
<use href="#k6g10" x="904" y="55"/>
<use href="#k6g21" x="887" y="58"/>
<use href="#k6g22" x="892" y="58"/>
<use href="#k6g21" x="858" y="58"/>
<use href="#k6g20" x="878" y="58"/>
<use href="#k6g20" x="861" y="58"/>
<use href="#k6g20" x="853" y="58"/>
<use href="#k6g21" x="882" y="58"/>
<use href="#k6g22" x="896" y="59"/>
<use href="#k6g32" x="872" y="59"/>
<use href="#k6g21" x="867" y="59"/>
<use href="#k6g21" x="843" y="59"/>
<use href="#k6g11" x="837" y="59"/>
<use href="#k6g22" x="847" y="59"/>
<use href="#k6g22" x="902" y="59"/>
<use href="#k6g11" x="835" y="62"/>
<use href="#k6g22" x="855" y="62"/>
<use href="#k6g22" x="879" y="62"/>
<use href="#k6g21" x="894" y="62"/>
<use href="#k6g21" x="845" y="63"/>
<use href="#k6g20" x="889" y="63"/>
<use href="#k6g22" x="849" y="63"/>
<use href="#k6g10" x="839" y="63"/>
<use href="#k6g31" x="860" y="63"/>
<use href="#k6g20" x="883" y="63"/>
<use href="#k6g20" x="868" y="64"/>
<use href="#k6g20" x="900" y="64"/>
<use href="#k6g32" x="864" y="64"/>
<use href="#k6g21" x="873" y="64"/>
<use href="#k6g22" x="862" y="66"/>
<use href="#k6g22" x="857" y="67"/>
<use href="#k6g12" x="881" y="67"/>
<use href="#k6g21" x="877" y="67"/>
<use href="#k6g20" x="901" y="67"/>
<use href="#k6g22" x="897" y="67"/>
<use href="#k6g22" x="852" y="67"/>
<use href="#k6g12" x="836" y="68"/>
<use href="#k6g21" x="871" y="68"/>
<use href="#k6g22" x="866" y="68"/>
<use href="#k6g20" x="841" y="68"/>
<use href="#k6g22" x="847" y="68"/>
<use href="#k6g20" x="886" y="68"/>
<use href="#k6g21" x="892" y="68"/>
<use href="#k6g21" x="900" y="71"/>
<use href="#k6g31" x="864" y="71"/>
<use href="#k6g21" x="889" y="71"/>
<use href="#k6g21" x="840" y="72"/>
<use href="#k6g20" x="884" y="72"/>
<use href="#k6g22" x="873" y="72"/>
<use href="#k6g21" x="878" y="72"/>
<use href="#k6g30" x="858" y="72"/>
<use href="#k6g32" x="849" y="72"/>
<use href="#k6g10" x="835" y="72"/>
<use href="#k6g22" x="903" y="72"/>
<use href="#k6g21" x="870" y="72"/>
<use href="#k6g30" x="854" y="72"/>
<use href="#k6g22" x="845" y="72"/>
<use href="#k6g20" x="893" y="72"/>
<use href="#k6g11" x="832" y="75"/>
<use href="#k6g22" x="867" y="75"/>
<use href="#k6g32" x="851" y="75"/>
<use href="#k6g20" x="841" y="76"/>
<use href="#k6g20" x="837" y="76"/>
<use href="#k6g20" x="846" y="76"/>
<use href="#k6g21" x="872" y="76"/>
<use href="#k6g20" x="892" y="76"/>
<use href="#k6g20" x="876" y="76"/>
<use href="#k6g21" x="881" y="76"/>
<use href="#k6g20" x="886" y="76"/>
<use href="#k6g32" x="896" y="76"/>
<use href="#k6g21" x="903" y="77"/>
<use href="#k6g31" x="855" y="77"/>
<use href="#k6g30" x="862" y="77"/>
<use href="#k6g30" x="899" y="80"/>
<use href="#k6g22" x="894" y="80"/>
<use href="#k6g20" x="880" y="80"/>
<use href="#k6g21" x="864" y="80"/>
<use href="#k6g22" x="884" y="80"/>
<use href="#k6g30" x="903" y="80"/>
<use href="#k6g22" x="845" y="80"/>
<use href="#k6g21" x="890" y="80"/>
<use href="#k6g22" x="874" y="81"/>
<use href="#k6g20" x="860" y="81"/>
<use href="#k6g32" x="853" y="81"/>
<use href="#k6g22" x="849" y="81"/>
<use href="#k6g22" x="839" y="81"/>
<use href="#k6g20" x="834" y="81"/>
<use href="#k6g30" x="869" y="81"/>
<use href="#k6g20" x="871" y="84"/>
<use href="#k6g31" x="901" y="84"/>
<use href="#k6g22" x="831" y="84"/>
<use href="#k6g22" x="851" y="84"/>
<use href="#k6g21" x="846" y="84"/>
<use href="#k6g31" x="842" y="84"/>
<use href="#k6g22" x="886" y="85"/>
<use href="#k6g20" x="867" y="85"/>
<use href="#k6g22" x="876" y="85"/>
<use href="#k6g31" x="862" y="85"/>
<use href="#k6g22" x="881" y="85"/>
<use href="#k6g30" x="857" y="85"/>
<use href="#k6g21" x="891" y="86"/>
<use href="#k6g21" x="836" y="86"/>
<use href="#k6g20" x="896" y="86"/>
<use href="#k6g21" x="880" y="88"/>
<use href="#k6g21" x="835" y="88"/>
<use href="#k6g20" x="859" y="88"/>
<use href="#k6g21" x="830" y="88"/>
<use href="#k6g32" x="904" y="88"/>
<use href="#k6g21" x="854" y="89"/>
<use href="#k6g21" x="868" y="89"/>
<use href="#k6g21" x="845" y="89"/>
<use href="#k6g22" x="874" y="89"/>
<use href="#k6g30" x="894" y="89"/>
<use href="#k6g20" x="864" y="89"/>
<use href="#k6g20" x="839" y="90"/>
<use href="#k6g21" x="900" y="90"/>
<use href="#k6g20" x="885" y="90"/>
<use href="#k6g20" x="888" y="90"/>
<use href="#k6g22" x="849" y="90"/>
<use href="#k6g21" x="892" y="92"/>
<use href="#k6g20" x="827" y="92"/>
<use href="#k6g20" x="896" y="92"/>
<use href="#k6g21" x="831" y="93"/>
<use href="#k6g22" x="882" y="93"/>
<use href="#k6g22" x="886" y="93"/>
<use href="#k6g20" x="872" y="93"/>
<use href="#k6g21" x="867" y="93"/>
<use href="#k6g32" x="856" y="94"/>
<use href="#k6g32" x="876" y="94"/>
<use href="#k6g21" x="901" y="94"/>
<use href="#k6g22" x="847" y="94"/>
<use href="#k6g20" x="838" y="94"/>
<use href="#k6g32" x="841" y="94"/>
<use href="#k6g31" x="852" y="94"/>
<use href="#k6g30" x="862" y="94"/>
<use href="#k6g22" x="834" y="97"/>
<use href="#k6g22" x="885" y="97"/>
<use href="#k6g20" x="900" y="97"/>
<use href="#k6g31" x="863" y="97"/>
<use href="#k6g20" x="868" y="97"/>
<use href="#k6g22" x="860" y="97"/>
<use href="#k6g21" x="894" y="97"/>
<use href="#k6g30" x="843" y="98"/>
<use href="#k6g21" x="850" y="98"/>
<use href="#k6g31" x="878" y="98"/>
<use href="#k6g30" x="853" y="98"/>
<use href="#k6g31" x="873" y="98"/>
<use href="#k6g20" x="840" y="98"/>
<use href="#k6g21" x="904" y="98"/>
<use href="#k6g21" x="829" y="98"/>
<use href="#k6g22" x="889" y="99"/>
<use href="#k6g22" x="902" y="101"/>
<use href="#k6g11" x="831" y="101"/>
<use href="#k6g20" x="871" y="101"/>
<use href="#k6g21" x="837" y="101"/>
<use href="#k6g20" x="852" y="101"/>
<use href="#k6g30" x="881" y="101"/>
<use href="#k6g31" x="842" y="101"/>
<use href="#k6g21" x="877" y="101"/>
<use href="#k6g30" x="867" y="101"/>
<use href="#k6g21" x="897" y="102"/>
<use href="#k6g31" x="856" y="102"/>
<use href="#k6g21" x="846" y="102"/>
<use href="#k6g22" x="892" y="103"/>
<use href="#k6g22" x="827" y="103"/>
<use href="#k6g31" x="862" y="103"/>
<use href="#k6g22" x="886" y="103"/>
<use href="#k6g30" x="855" y="105"/>
<use href="#k6g12" x="835" y="105"/>
<use href="#k6g10" x="903" y="106"/>
<use href="#k6g30" x="844" y="106"/>
<use href="#k6g22" x="865" y="106"/>
<use href="#k6g20" x="838" y="106"/>
<use href="#k6g20" x="859" y="106"/>
<use href="#k6g20" x="850" y="106"/>
<use href="#k6g21" x="899" y="107"/>
<use href="#k6g20" x="824" y="107"/>
<use href="#k6g22" x="869" y="107"/>
<use href="#k6g21" x="828" y="107"/>
<use href="#k6g22" x="894" y="107"/>
<use href="#k6g21" x="884" y="107"/>
<use href="#k6g21" x="879" y="107"/>
<use href="#k6g20" x="874" y="107"/>
<use href="#k6g20" x="890" y="107"/>
<use href="#k6g20" x="897" y="110"/>
<use href="#k6g20" x="851" y="110"/>
<use href="#k6g11" x="902" y="110"/>
<use href="#k6g20" x="877" y="110"/>
<use href="#k6g21" x="856" y="111"/>
<use href="#k6g22" x="866" y="111"/>
<use href="#k6g21" x="891" y="111"/>
<use href="#k6g22" x="887" y="111"/>
<use href="#k6g22" x="833" y="111"/>
<use href="#k6g22" x="862" y="111"/>
<use href="#k6g20" x="827" y="111"/>
<use href="#k6g22" x="837" y="111"/>
<use href="#k6g22" x="881" y="112"/>
<use href="#k6g21" x="847" y="112"/>
<use href="#k6g21" x="872" y="112"/>
<use href="#k6g20" x="842" y="112"/>
<use href="#k6g20" x="874" y="114"/>
<use href="#k6g22" x="843" y="114"/>
<use href="#k6g21" x="883" y="114"/>
<use href="#k6g22" x="879" y="114"/>
<use href="#k6g21" x="834" y="115"/>
<use href="#k6g22" x="830" y="115"/>
<use href="#k6g20" x="849" y="115"/>
<use href="#k6g22" x="889" y="115"/>
<use href="#k6g12" x="899" y="115"/>
<use href="#k6g21" x="855" y="115"/>
<use href="#k6g10" x="894" y="115"/>
<use href="#k6g20" x="868" y="116"/>
<use href="#k6g20" x="823" y="116"/>
<use href="#k6g11" x="903" y="116"/>
<use href="#k6g30" x="858" y="116"/>
<use href="#k6g20" x="839" y="116"/>
<use href="#k6g22" x="865" y="116"/>
<use href="#k6g20" x="887" y="118"/>
<use href="#k6g20" x="867" y="118"/>
<use href="#k6g22" x="851" y="118"/>
<use href="#k6g22" x="892" y="118"/>
<use href="#k6g10" x="902" y="119"/>
<use href="#k6g22" x="861" y="119"/>
<use href="#k6g22" x="877" y="119"/>
<use href="#k6g21" x="826" y="119"/>
<use href="#k6g22" x="871" y="120"/>
<use href="#k6g22" x="881" y="120"/>
<use href="#k6g32" x="821" y="120"/>
<use href="#k6g21" x="897" y="120"/>
<use href="#k6g22" x="837" y="120"/>
<use href="#k6g20" x="831" y="120"/>
<use href="#k6g20" x="846" y="120"/>
<use href="#k6g22" x="856" y="120"/>
<use href="#k6g20" x="841" y="120"/>
<use href="#k6g22" x="838" y="123"/>
<use href="#k6g12" x="904" y="123"/>
<use href="#k6g20" x="874" y="123"/>
<use href="#k6g22" x="890" y="123"/>
<use href="#k6g10" x="899" y="123"/>
<use href="#k6g22" x="858" y="123"/>
<use href="#k6g22" x="863" y="123"/>
<use href="#k6g21" x="884" y="123"/>
<use href="#k6g30" x="828" y="123"/>
<use href="#k6g20" x="824" y="123"/>
<use href="#k6g20" x="895" y="123"/>
<use href="#k6g20" x="880" y="124"/>
<use href="#k6g20" x="849" y="124"/>
<use href="#k6g20" x="868" y="124"/>
<use href="#k6g22" x="845" y="124"/>
<use href="#k6g22" x="820" y="125"/>
<use href="#k6g20" x="833" y="125"/>
<use href="#k6g20" x="855" y="125"/>
<use href="#k6g22" x="902" y="127"/>
<use href="#k6g30" x="846" y="127"/>
<use href="#k6g22" x="867" y="127"/>
<use href="#k6g12" x="870" y="127"/>
<use href="#k6g20" x="851" y="128"/>
<use href="#k6g21" x="857" y="128"/>
<use href="#k6g22" x="891" y="128"/>
<use href="#k6g22" x="887" y="128"/>
<use href="#k6g22" x="897" y="128"/>
<use href="#k6g22" x="877" y="128"/>
<use href="#k6g32" x="827" y="128"/>
<use href="#k6g22" x="823" y="129"/>
<use href="#k6g32" x="837" y="129"/>
<use href="#k6g21" x="831" y="129"/>
<use href="#k6g21" x="862" y="129"/>
<use href="#k6g10" x="881" y="129"/>
<use href="#k6g31" x="842" y="129"/>
<use href="#k6g22" x="834" y="131"/>
<use href="#k6g21" x="829" y="131"/>
<use href="#k6g22" x="855" y="132"/>
<use href="#k6g32" x="824" y="132"/>
<use href="#k6g21" x="903" y="132"/>
<use href="#k6g10" x="875" y="132"/>
<use href="#k6g21" x="895" y="132"/>
<use href="#k6g22" x="870" y="132"/>
<use href="#k6g20" x="863" y="132"/>
<use href="#k6g21" x="889" y="132"/>
<use href="#k6g21" x="818" y="132"/>
<use href="#k6g21" x="879" y="132"/>
<use href="#k6g31" x="843" y="132"/>
<use href="#k6g22" x="849" y="133"/>
<use href="#k6g30" x="839" y="133"/>
<use href="#k6g20" x="899" y="133"/>
<use href="#k6g20" x="858" y="133"/>
<use href="#k6g21" x="884" y="133"/>
<use href="#k6g20" x="861" y="136"/>
<use href="#k6g22" x="822" y="136"/>
<use href="#k6g20" x="856" y="136"/>
<use href="#k6g21" x="836" y="136"/>
<use href="#k6g20" x="871" y="136"/>
<use href="#k6g21" x="852" y="137"/>
<use href="#k6g20" x="902" y="137"/>
<use href="#k6g20" x="831" y="137"/>
<use href="#k6g20" x="882" y="137"/>
<use href="#k6g20" x="826" y="137"/>
<use href="#k6g20" x="891" y="137"/>
<use href="#k6g22" x="886" y="137"/>
<use href="#k6g22" x="877" y="137"/>
<use href="#k6g20" x="867" y="138"/>
<use href="#k6g21" x="841" y="138"/>
<use href="#k6g21" x="847" y="138"/>
<use href="#k6g10" x="897" y="138"/>
<use href="#k6g21" x="834" y="140"/>
<use href="#k6g20" x="904" y="140"/>
<use href="#k6g22" x="899" y="140"/>
<use href="#k6g32" x="848" y="140"/>
<use href="#k6g22" x="864" y="140"/>
<use href="#k6g21" x="859" y="141"/>
<use href="#k6g20" x="829" y="141"/>
<use href="#k6g21" x="844" y="141"/>
<use href="#k6g21" x="894" y="141"/>
<use href="#k6g20" x="840" y="141"/>
<use href="#k6g22" x="824" y="142"/>
<use href="#k6g21" x="854" y="142"/>
<use href="#k6g20" x="878" y="142"/>
<use href="#k6g20" x="873" y="142"/>
<use href="#k6g22" x="870" y="142"/>
<use href="#k6g22" x="884" y="142"/>
<use href="#k6g21" x="890" y="142"/>
<use href="#k6g20" x="842" y="144"/>
<use href="#k6g22" x="877" y="144"/>
<use href="#k6g21" x="861" y="144"/>
<use href="#k6g20" x="846" y="144"/>
<use href="#k6g20" x="827" y="144"/>
<use href="#k6g22" x="868" y="145"/>
<use href="#k6g22" x="852" y="145"/>
<use href="#k6g31" x="856" y="145"/>
<use href="#k6g22" x="882" y="145"/>
<use href="#k6g20" x="822" y="145"/>
<use href="#k6g22" x="902" y="145"/>
<use href="#k6g20" x="832" y="145"/>
<use href="#k6g22" x="836" y="145"/>
<use href="#k6g20" x="897" y="145"/>
<use href="#k6g20" x="891" y="146"/>
<use href="#k6g21" x="886" y="146"/>
<use href="#k6g20" x="871" y="146"/>
<use href="#k6g20" x="899" y="149"/>
<use href="#k6g21" x="839" y="149"/>
<use href="#k6g20" x="834" y="149"/>
<use href="#k6g20" x="829" y="149"/>
<use href="#k6g20" x="904" y="149"/>
<use href="#k6g21" x="843" y="149"/>
<use href="#k6g22" x="885" y="149"/>
<use href="#k6g30" x="849" y="149"/>
<use href="#k6g21" x="824" y="149"/>
<use href="#k6g20" x="880" y="149"/>
<use href="#k6g20" x="860" y="149"/>
<use href="#k6g22" x="869" y="150"/>
<use href="#k6g20" x="873" y="150"/>
<use href="#k6g21" x="895" y="150"/>
<use href="#k6g32" x="864" y="150"/>
<use href="#k6g22" x="889" y="150"/>
<use href="#k6g32" x="855" y="151"/>
<use href="#k6g11" x="831" y="153"/>
<use href="#k6g20" x="862" y="153"/>
<use href="#k6g22" x="876" y="153"/>
<use href="#k6g22" x="826" y="153"/>
<use href="#k6g22" x="883" y="154"/>
<use href="#k6g32" x="867" y="154"/>
<use href="#k6g10" x="896" y="154"/>
<use href="#k6g21" x="871" y="154"/>
<use href="#k6g21" x="852" y="154"/>
<use href="#k6g22" x="846" y="154"/>
<use href="#k6g20" x="892" y="154"/>
<use href="#k6g22" x="902" y="154"/>
<use href="#k6g12" x="841" y="154"/>
<use href="#k6g12" x="836" y="154"/>
<use href="#k6g20" x="886" y="155"/>
<use href="#k6g32" x="856" y="155"/>
<use href="#k6g12" x="894" y="157"/>
<use href="#k6g20" x="850" y="158"/>
<use href="#k6g11" x="829" y="158"/>
<use href="#k6g12" x="843" y="158"/>
<use href="#k6g21" x="869" y="158"/>
<use href="#k6g21" x="880" y="158"/>
<use href="#k6g11" x="833" y="158"/>
<use href="#k6g32" x="864" y="158"/>
<use href="#k6g11" x="874" y="158"/>
<use href="#k6g11" x="885" y="158"/>
<use href="#k6g10" x="839" y="158"/>
<use href="#k6g31" x="858" y="158"/>
<use href="#k6g20" x="854" y="159"/>
<use href="#k6g22" x="899" y="159"/>
<use href="#k6g11" x="890" y="159"/>
<use href="#k6g32" x="866" y="162"/>
<use href="#k6g11" x="841" y="162"/>
<use href="#k6g11" x="896" y="162"/>
<use href="#k6g20" x="901" y="162"/>
<use href="#k6g21" x="856" y="162"/>
<use href="#k6g21" x="845" y="162"/>
<use href="#k6g31" x="862" y="163"/>
<use href="#k6g20" x="876" y="163"/>
<use href="#k6g22" x="851" y="163"/>
<use href="#k6g20" x="872" y="163"/>
<use href="#k6g12" x="831" y="163"/>
<use href="#k6g20" x="886" y="163"/>
<use href="#k6g12" x="892" y="163"/>
<use href="#k6g12" x="837" y="164"/>
<use href="#k6g20" x="881" y="164"/>
<use href="#k6g22" x="869" y="166"/>
<use href="#k6g21" x="863" y="166"/>
<use href="#k6g22" x="855" y="166"/>
<use href="#k6g20" x="875" y="166"/>
<use href="#k6g22" x="904" y="167"/>
<use href="#k6g20" x="894" y="167"/>
<use href="#k6g22" x="878" y="167"/>
<use href="#k6g20" x="843" y="167"/>
<use href="#k6g21" x="850" y="167"/>
<use href="#k6g12" x="834" y="168"/>
<use href="#k6g22" x="883" y="168"/>
<use href="#k6g20" x="860" y="168"/>
<use href="#k6g12" x="839" y="168"/>
<use href="#k6g21" x="890" y="168"/>
<use href="#k6g21" x="898" y="168"/>
<use href="#k6g21" x="901" y="170"/>
<use href="#k6g20" x="896" y="170"/>
<use href="#k6g20" x="878" y="171"/>
<use href="#k6g21" x="882" y="171"/>
<use href="#k6g20" x="892" y="171"/>
<use href="#k6g20" x="857" y="171"/>
<use href="#k6g22" x="852" y="171"/>
<use href="#k6g20" x="888" y="171"/>
<use href="#k6g11" x="836" y="172"/>
<use href="#k6g20" x="867" y="172"/>
<use href="#k6g12" x="841" y="172"/>
<use href="#k6g21" x="862" y="172"/>
<use href="#k6g21" x="846" y="172"/>
<use href="#k6g21" x="872" y="172"/>
<use href="#k6g20" x="849" y="175"/>
<use href="#k6g21" x="875" y="175"/>
<use href="#k6g21" x="884" y="175"/>
<use href="#k6g21" x="879" y="175"/>
<use href="#k6g21" x="853" y="175"/>
<use href="#k6g11" x="838" y="176"/>
<use href="#k6g10" x="843" y="176"/>
<use href="#k6g21" x="860" y="176"/>
<use href="#k6g20" x="868" y="176"/>
<use href="#k6g20" x="893" y="176"/>
<use href="#k6g30" x="899" y="176"/>
<use href="#k6g30" x="904" y="176"/>
<use href="#k6g22" x="889" y="176"/>
<use href="#k6g20" x="864" y="177"/>
<use href="#k6g22" x="892" y="179"/>
<use href="#k6g20" x="851" y="179"/>
<use href="#k6g11" x="881" y="179"/>
<use href="#k6g20" x="862" y="179"/>
<use href="#k6g21" x="877" y="180"/>
<use href="#k6g11" x="836" y="180"/>
<use href="#k6g21" x="866" y="180"/>
<use href="#k6g30" x="901" y="180"/>
<use href="#k6g22" x="886" y="180"/>
<use href="#k6g12" x="841" y="181"/>
<use href="#k6g22" x="872" y="181"/>
<use href="#k6g22" x="847" y="181"/>
<use href="#k6g20" x="857" y="181"/>
<use href="#k6g20" x="896" y="181"/>
<use href="#k6g20" x="859" y="183"/>
<use href="#k6g21" x="883" y="183"/>
<use href="#k6g21" x="849" y="183"/>
<use href="#k6g22" x="899" y="184"/>
<use href="#k6g20" x="890" y="184"/>
<use href="#k6g20" x="894" y="184"/>
<use href="#k6g12" x="838" y="184"/>
<use href="#k6g22" x="869" y="184"/>
<use href="#k6g22" x="879" y="184"/>
<use href="#k6g20" x="864" y="185"/>
<use href="#k6g21" x="874" y="185"/>
<use href="#k6g12" x="845" y="185"/>
<use href="#k6g20" x="904" y="185"/>
<use href="#k6g20" x="853" y="185"/>
<use href="#k6g10" x="834" y="185"/>
<use href="#k6g21" x="872" y="188"/>
<use href="#k6g21" x="883" y="188"/>
<use href="#k6g10" x="852" y="188"/>
<use href="#k6g21" x="866" y="188"/>
<use href="#k6g12" x="841" y="189"/>
<use href="#k6g12" x="863" y="189"/>
<use href="#k6g20" x="877" y="189"/>
<use href="#k6g21" x="892" y="189"/>
<use href="#k6g20" x="903" y="189"/>
<use href="#k6g21" x="897" y="189"/>
<use href="#k6g11" x="847" y="189"/>
<use href="#k6g20" x="886" y="189"/>
<use href="#k6g22" x="857" y="190"/>
<use href="#k6g12" x="837" y="190"/>
<use href="#k6g12" x="839" y="192"/>
<use href="#k6g22" x="868" y="192"/>
<use href="#k6g22" x="879" y="193"/>
<use href="#k6g20" x="889" y="193"/>
<use href="#k6g20" x="899" y="193"/>
<use href="#k6g12" x="854" y="193"/>
<use href="#k6g21" x="894" y="193"/>
<use href="#k6g21" x="865" y="193"/>
<use href="#k6g20" x="885" y="193"/>
<use href="#k6g11" x="850" y="194"/>
<use href="#k6g10" x="859" y="194"/>
<use href="#k6g22" x="875" y="194"/>
<use href="#k6g10" x="843" y="194"/>
<use href="#k6g20" x="891" y="196"/>
<use href="#k6g11" x="846" y="197"/>
<use href="#k6g20" x="887" y="197"/>
<use href="#k6g11" x="861" y="197"/>
<use href="#k6g21" x="897" y="197"/>
<use href="#k6g22" x="867" y="197"/>
<use href="#k6g10" x="852" y="197"/>
<use href="#k6g21" x="842" y="197"/>
<use href="#k6g21" x="901" y="197"/>
<use href="#k6g21" x="883" y="197"/>
<use href="#k6g20" x="871" y="198"/>
<use href="#k6g20" x="877" y="198"/>
<use href="#k6g22" x="838" y="198"/>
<use href="#k6g11" x="855" y="198"/>
<use href="#k6g20" x="884" y="201"/>
<use href="#k6g10" x="853" y="201"/>
<use href="#k6g21" x="863" y="201"/>
<use href="#k6g12" x="843" y="201"/>
<use href="#k6g20" x="859" y="201"/>
<use href="#k6g22" x="899" y="201"/>
<use href="#k6g22" x="903" y="201"/>
<use href="#k6g20" x="838" y="201"/>
<use href="#k6g22" x="874" y="201"/>
<use href="#k6g20" x="880" y="202"/>
<use href="#k6g22" x="848" y="202"/>
<use href="#k6g22" x="894" y="202"/>
<use href="#k6g20" x="869" y="202"/>
<use href="#k6g21" x="890" y="203"/>
<use href="#k6g22" x="902" y="205"/>
<use href="#k6g22" x="892" y="205"/>
<use href="#k6g22" x="857" y="206"/>
<use href="#k6g20" x="873" y="206"/>
<use href="#k6g20" x="876" y="206"/>
<use href="#k6g12" x="842" y="206"/>
<use href="#k6g21" x="862" y="206"/>
<use href="#k6g21" x="851" y="207"/>
<use href="#k6g11" x="846" y="207"/>
<use href="#k6g20" x="867" y="207"/>
<use href="#k6g22" x="896" y="207"/>
<use href="#k6g20" x="886" y="207"/>
<use href="#k6g30" x="883" y="207"/>
<use href="#k6g21" x="870" y="209"/>
<use href="#k6g22" x="855" y="209"/>
<use href="#k6g22" x="850" y="210"/>
<use href="#k6g22" x="863" y="210"/>
<use href="#k6g21" x="858" y="210"/>
<use href="#k6g21" x="884" y="210"/>
<use href="#k6g22" x="845" y="211"/>
<use href="#k6g22" x="898" y="211"/>
<use href="#k6g20" x="889" y="211"/>
<use href="#k6g32" x="880" y="211"/>
<use href="#k6g21" x="893" y="211"/>
<use href="#k6g32" x="875" y="211"/>
<use href="#k6g22" x="866" y="213"/>
<use href="#k6g20" x="886" y="214"/>
<use href="#k6g32" x="872" y="214"/>
<use href="#k6g21" x="897" y="214"/>
<use href="#k6g21" x="853" y="214"/>
<use href="#k6g30" x="877" y="214"/>
<use href="#k6g10" x="892" y="214"/>
<use href="#k6g22" x="848" y="214"/>
<use href="#k6g22" x="862" y="215"/>
<use href="#k6g22" x="857" y="215"/>
<use href="#k6g32" x="881" y="216"/>
<use href="#k6g21" x="853" y="218"/>
<use href="#k6g30" x="878" y="218"/>
<use href="#k6g31" x="875" y="219"/>
<use href="#k6g30" x="858" y="219"/>
<use href="#k6g30" x="869" y="219"/>
<use href="#k6g30" x="863" y="219"/>
</g>
<defs><circle id="k7y10" r="3.67" class="y1"/></defs>
<defs><circle id="k7y11" r="4.00" class="y1"/></defs>
<defs><circle id="k7y12" r="4.33" class="y1"/></defs>
<defs><circle id="k7y20" r="3.67" class="y2"/></defs>
<defs><circle id="k7y21" r="4.00" class="y2"/></defs>
<defs><circle id="k7y22" r="4.33" class="y2"/></defs>
<defs><circle id="k7y30" r="3.67" class="y3"/></defs>
<defs><circle id="k7y31" r="4.00" class="y3"/></defs>
<defs><circle id="k7y32" r="4.33" class="y3"/></defs>
<clipPath id="k7"><rect x="893" y="0" width="500" height="400"/></clipPath>
<g clip-path="url(#k7)">
<path d="M912.69,18.05 C916.72,17.3 931.21,20.5 936.61,21.17 C942.01,21.84 948.24,23.32 953.16,23.06 C958.08,22.81 967.41,17.26 973.49,19.28 C979.57,21.3 991.99,32.95 998.74,38.19 C1005.48,43.44 1020.13,53.2 1024.08,58.62 C1028.02,64.04 1027.77,74.14 1028.33,78.85 C1028.9,83.57 1026.67,93.64 1028.33,93.98 C1030,94.32 1036.45,84.43 1040.82,81.41 C1045.18,78.38 1055.31,73.14 1061.05,71.29 C1066.79,69.44 1077.08,67 1083.84,67.51 C1090.6,68.01 1104.3,74.57 1111.74,75.07 C1119.17,75.58 1132.54,71.29 1139.63,71.29 C1146.72,71.29 1159.48,73.05 1164.88,75.07 C1170.27,77.09 1176.04,82.89 1180.1,86.42 C1184.16,89.95 1192.29,95.8 1195.33,101.55 C1198.37,107.3 1200.19,124.46 1202.89,129.54 C1205.59,134.62 1213.19,134.26 1215.56,139.66 C1217.93,145.05 1220.67,162.58 1220.67,170.01 C1220.67,177.44 1216.58,188.93 1215.56,195.35 C1214.54,201.77 1215.71,213.75 1213.01,218.14 C1210.31,222.53 1199.03,224.54 1195.33,228.26 C1191.62,231.98 1190.62,241.98 1185.21,246.04 C1179.8,250.1 1162.87,256.34 1154.76,258.71 C1146.65,261.08 1132.84,263.13 1124.41,263.81 C1115.97,264.49 1096.57,261.8 1091.5,263.81 C1086.43,265.83 1091.46,277.25 1086.39,278.94 C1081.32,280.63 1059.9,278.5 1053.49,276.48 C1047.07,274.47 1040.97,269.24 1038.26,263.81 C1035.55,258.39 1036.54,242.24 1033.16,235.82 C1029.78,229.41 1016.59,220.85 1012.92,215.68 C1009.25,210.51 1006.31,201.05 1005.64,197.05 C1004.97,193.06 1006.27,187.6 1007.91,185.71 C1009.55,183.82 1018.61,183.63 1017.93,182.87 C1017.25,182.11 1004.69,179.02 1002.8,180.03 C1000.91,181.04 1007.03,186.4 1003.75,190.44 C1000.47,194.47 986.66,207.95 978.22,210.29 C969.77,212.64 949.13,210.04 940.39,208.02 C931.66,206.01 917.48,199.15 912.69,195.16 C907.9,191.18 905.81,185.46 904.46,178.14 C903.11,170.83 902.69,150.4 902.57,140.32 C902.44,130.23 903.26,113.84 903.51,102.49 C903.77,91.15 904.08,65.3 904.46,55.21 C904.84,45.13 905.25,31.8 906.35,26.85 C907.45,21.89 908.65,18.81 912.69,18.05Z" fill="#4a4a00"/>
<use href="#k7y21" x="914" y="14"/>
<use href="#k7y32" x="910" y="15"/>
<use href="#k7y12" x="975" y="19"/>
<use href="#k7y21" x="904" y="19"/>
<use href="#k7y22" x="937" y="19"/>
<use href="#k7y12" x="968" y="19"/>
<use href="#k7y20" x="950" y="20"/>
<use href="#k7y20" x="910" y="20"/>
<use href="#k7y11" x="932" y="20"/>
<use href="#k7y20" x="955" y="20"/>
<use href="#k7y20" x="944" y="21"/>
<use href="#k7y22" x="925" y="21"/>
<use href="#k7y11" x="964" y="21"/>
<use href="#k7y20" x="917" y="21"/>
<use href="#k7y12" x="972" y="25"/>
<use href="#k7y22" x="926" y="25"/>
<use href="#k7y20" x="940" y="25"/>
<use href="#k7y10" x="967" y="25"/>
<use href="#k7y21" x="914" y="25"/>
<use href="#k7y20" x="978" y="25"/>
<use href="#k7y11" x="959" y="25"/>
<use href="#k7y22" x="922" y="25"/>
<use href="#k7y21" x="948" y="25"/>
<use href="#k7y30" x="902" y="25"/>
<use href="#k7y32" x="907" y="26"/>
<use href="#k7y20" x="935" y="26"/>
<use href="#k7y10" x="954" y="27"/>
<use href="#k7y11" x="986" y="27"/>
<use href="#k7y21" x="919" y="30"/>
<use href="#k7y12" x="950" y="30"/>
<use href="#k7y12" x="975" y="30"/>
<use href="#k7y21" x="906" y="30"/>
<use href="#k7y21" x="938" y="30"/>
<use href="#k7y10" x="988" y="30"/>
<use href="#k7y20" x="956" y="31"/>
<use href="#k7y10" x="969" y="31"/>
<use href="#k7y22" x="913" y="31"/>
<use href="#k7y20" x="924" y="31"/>
<use href="#k7y10" x="964" y="32"/>
<use href="#k7y12" x="982" y="32"/>
<use href="#k7y10" x="932" y="32"/>
<use href="#k7y20" x="944" y="32"/>
<use href="#k7y20" x="966" y="35"/>
<use href="#k7y11" x="984" y="35"/>
<use href="#k7y20" x="909" y="35"/>
<use href="#k7y12" x="998" y="36"/>
<use href="#k7y11" x="935" y="36"/>
<use href="#k7y22" x="940" y="36"/>
<use href="#k7y10" x="978" y="36"/>
<use href="#k7y10" x="928" y="36"/>
<use href="#k7y11" x="991" y="36"/>
<use href="#k7y21" x="947" y="37"/>
<use href="#k7y20" x="915" y="37"/>
<use href="#k7y10" x="960" y="37"/>
<use href="#k7y21" x="902" y="37"/>
<use href="#k7y11" x="954" y="37"/>
<use href="#k7y10" x="971" y="38"/>
<use href="#k7y10" x="921" y="38"/>
<use href="#k7y22" x="919" y="41"/>
<use href="#k7y20" x="951" y="41"/>
<use href="#k7y10" x="976" y="41"/>
<use href="#k7y11" x="981" y="42"/>
<use href="#k7y11" x="924" y="42"/>
<use href="#k7y20" x="900" y="42"/>
<use href="#k7y10" x="968" y="42"/>
<use href="#k7y22" x="905" y="42"/>
<use href="#k7y10" x="989" y="43"/>
<use href="#k7y11" x="930" y="43"/>
<use href="#k7y11" x="956" y="43"/>
<use href="#k7y20" x="1008" y="43"/>
<use href="#k7y20" x="937" y="43"/>
<use href="#k7y11" x="963" y="43"/>
<use href="#k7y11" x="995" y="43"/>
<use href="#k7y20" x="911" y="43"/>
<use href="#k7y20" x="944" y="43"/>
<use href="#k7y12" x="1000" y="43"/>
<use href="#k7y10" x="921" y="46"/>
<use href="#k7y11" x="972" y="46"/>
<use href="#k7y12" x="985" y="46"/>
<use href="#k7y21" x="945" y="47"/>
<use href="#k7y11" x="967" y="47"/>
<use href="#k7y12" x="960" y="47"/>
<use href="#k7y22" x="914" y="47"/>
<use href="#k7y11" x="933" y="47"/>
<use href="#k7y10" x="978" y="47"/>
<use href="#k7y32" x="908" y="47"/>
<use href="#k7y21" x="993" y="48"/>
<use href="#k7y11" x="954" y="48"/>
<use href="#k7y10" x="1004" y="48"/>
<use href="#k7y22" x="903" y="48"/>
<use href="#k7y12" x="928" y="48"/>
<use href="#k7y10" x="1010" y="48"/>
<use href="#k7y20" x="939" y="49"/>
<use href="#k7y11" x="998" y="49"/>
<use href="#k7y21" x="905" y="52"/>
<use href="#k7y22" x="989" y="52"/>
<use href="#k7y21" x="912" y="52"/>
<use href="#k7y21" x="1008" y="52"/>
<use href="#k7y20" x="936" y="52"/>
<use href="#k7y20" x="932" y="53"/>
<use href="#k7y12" x="962" y="53"/>
<use href="#k7y21" x="1015" y="53"/>
<use href="#k7y20" x="995" y="53"/>
<use href="#k7y20" x="919" y="53"/>
<use href="#k7y20" x="925" y="53"/>
<use href="#k7y20" x="945" y="53"/>
<use href="#k7y21" x="976" y="54"/>
<use href="#k7y11" x="950" y="54"/>
<use href="#k7y22" x="956" y="54"/>
<use href="#k7y12" x="1001" y="54"/>
<use href="#k7y21" x="970" y="54"/>
<use href="#k7y22" x="898" y="54"/>
<use href="#k7y10" x="982" y="54"/>
<use href="#k7y22" x="958" y="57"/>
<use href="#k7y20" x="1018" y="57"/>
<use href="#k7y12" x="946" y="57"/>
<use href="#k7y21" x="986" y="57"/>
<use href="#k7y20" x="901" y="58"/>
<use href="#k7y22" x="999" y="58"/>
<use href="#k7y12" x="941" y="58"/>
<use href="#k7y22" x="933" y="58"/>
<use href="#k7y20" x="992" y="58"/>
<use href="#k7y30" x="1009" y="59"/>
<use href="#k7y32" x="921" y="59"/>
<use href="#k7y21" x="929" y="59"/>
<use href="#k7y22" x="967" y="59"/>
<use href="#k7y21" x="916" y="59"/>
<use href="#k7y20" x="980" y="59"/>
<use href="#k7y21" x="909" y="60"/>
<use href="#k7y21" x="973" y="60"/>
<use href="#k7y22" x="952" y="60"/>
<use href="#k7y20" x="1003" y="60"/>
<use href="#k7y20" x="1023" y="60"/>
<use href="#k7y20" x="982" y="63"/>
<use href="#k7y32" x="976" y="63"/>
<use href="#k7y11" x="905" y="63"/>
<use href="#k7y20" x="931" y="63"/>
<use href="#k7y20" x="951" y="63"/>
<use href="#k7y11" x="945" y="64"/>
<use href="#k7y31" x="964" y="64"/>
<use href="#k7y31" x="923" y="64"/>
<use href="#k7y32" x="996" y="64"/>
<use href="#k7y31" x="990" y="65"/>
<use href="#k7y11" x="1084" y="65"/>
<use href="#k7y31" x="1015" y="65"/>
<use href="#k7y20" x="955" y="65"/>
<use href="#k7y30" x="970" y="65"/>
<use href="#k7y22" x="1019" y="65"/>
<use href="#k7y20" x="919" y="65"/>
<use href="#k7y21" x="936" y="65"/>
<use href="#k7y31" x="1007" y="65"/>
<use href="#k7y32" x="1001" y="65"/>
<use href="#k7y22" x="899" y="65"/>
<use href="#k7y21" x="912" y="65"/>
<use href="#k7y30" x="991" y="68"/>
<use href="#k7y31" x="1011" y="68"/>
<use href="#k7y21" x="909" y="69"/>
<use href="#k7y22" x="1095" y="69"/>
<use href="#k7y20" x="1070" y="69"/>
<use href="#k7y20" x="933" y="69"/>
<use href="#k7y30" x="997" y="69"/>
<use href="#k7y32" x="1005" y="69"/>
<use href="#k7y12" x="1138" y="69"/>
<use href="#k7y30" x="971" y="69"/>
<use href="#k7y21" x="1022" y="70"/>
<use href="#k7y30" x="959" y="70"/>
<use href="#k7y11" x="901" y="70"/>
<use href="#k7y20" x="920" y="70"/>
<use href="#k7y30" x="987" y="70"/>
<use href="#k7y12" x="1061" y="70"/>
<use href="#k7y21" x="1017" y="70"/>
<use href="#k7y22" x="916" y="70"/>
<use href="#k7y21" x="1076" y="70"/>
<use href="#k7y20" x="979" y="70"/>
<use href="#k7y12" x="946" y="70"/>
<use href="#k7y32" x="967" y="70"/>
<use href="#k7y10" x="1086" y="70"/>
<use href="#k7y22" x="1081" y="71"/>
<use href="#k7y20" x="1100" y="71"/>
<use href="#k7y10" x="941" y="71"/>
<use href="#k7y11" x="1145" y="71"/>
<use href="#k7y20" x="954" y="71"/>
<use href="#k7y20" x="927" y="71"/>
<use href="#k7y22" x="1077" y="74"/>
<use href="#k7y21" x="917" y="74"/>
<use href="#k7y21" x="950" y="74"/>
<use href="#k7y11" x="1142" y="74"/>
<use href="#k7y20" x="1122" y="74"/>
<use href="#k7y32" x="990" y="74"/>
<use href="#k7y21" x="955" y="74"/>
<use href="#k7y10" x="1073" y="74"/>
<use href="#k7y21" x="1084" y="74"/>
<use href="#k7y31" x="981" y="74"/>
<use href="#k7y30" x="994" y="74"/>
<use href="#k7y32" x="962" y="75"/>
<use href="#k7y12" x="905" y="75"/>
<use href="#k7y21" x="1110" y="75"/>
<use href="#k7y22" x="1025" y="75"/>
<use href="#k7y32" x="1014" y="75"/>
<use href="#k7y10" x="1064" y="75"/>
<use href="#k7y22" x="923" y="75"/>
<use href="#k7y22" x="1092" y="75"/>
<use href="#k7y20" x="1098" y="75"/>
<use href="#k7y30" x="1008" y="75"/>
<use href="#k7y12" x="1117" y="75"/>
<use href="#k7y22" x="1167" y="76"/>
<use href="#k7y10" x="1136" y="76"/>
<use href="#k7y22" x="1129" y="76"/>
<use href="#k7y11" x="1053" y="76"/>
<use href="#k7y22" x="931" y="76"/>
<use href="#k7y20" x="943" y="76"/>
<use href="#k7y21" x="913" y="76"/>
<use href="#k7y21" x="1104" y="76"/>
<use href="#k7y30" x="1019" y="76"/>
<use href="#k7y20" x="936" y="76"/>
<use href="#k7y12" x="1148" y="76"/>
<use href="#k7y20" x="970" y="76"/>
<use href="#k7y20" x="1156" y="76"/>
<use href="#k7y20" x="1161" y="76"/>
<use href="#k7y30" x="976" y="77"/>
<use href="#k7y30" x="1000" y="77"/>
<use href="#k7y12" x="1058" y="77"/>
<use href="#k7y30" x="1003" y="79"/>
<use href="#k7y22" x="1163" y="80"/>
<use href="#k7y20" x="1076" y="80"/>
<use href="#k7y10" x="933" y="80"/>
<use href="#k7y22" x="987" y="80"/>
<use href="#k7y21" x="1025" y="80"/>
<use href="#k7y22" x="1113" y="80"/>
<use href="#k7y21" x="1108" y="80"/>
<use href="#k7y21" x="1158" y="80"/>
<use href="#k7y21" x="1138" y="80"/>
<use href="#k7y21" x="1179" y="80"/>
<use href="#k7y11" x="1145" y="80"/>
<use href="#k7y22" x="916" y="80"/>
<use href="#k7y21" x="929" y="80"/>
<use href="#k7y20" x="1093" y="80"/>
<use href="#k7y30" x="1011" y="80"/>
<use href="#k7y22" x="1082" y="81"/>
<use href="#k7y20" x="947" y="81"/>
<use href="#k7y21" x="1102" y="81"/>
<use href="#k7y31" x="978" y="81"/>
<use href="#k7y11" x="1153" y="81"/>
<use href="#k7y21" x="992" y="81"/>
<use href="#k7y10" x="1119" y="81"/>
<use href="#k7y22" x="901" y="81"/>
<use href="#k7y11" x="1056" y="81"/>
<use href="#k7y11" x="1043" y="81"/>
<use href="#k7y31" x="959" y="81"/>
<use href="#k7y30" x="973" y="81"/>
<use href="#k7y11" x="1061" y="81"/>
<use href="#k7y21" x="941" y="81"/>
<use href="#k7y21" x="954" y="82"/>
<use href="#k7y22" x="1068" y="82"/>
<use href="#k7y12" x="908" y="82"/>
<use href="#k7y30" x="997" y="82"/>
<use href="#k7y31" x="966" y="82"/>
<use href="#k7y20" x="1126" y="82"/>
<use href="#k7y10" x="1049" y="82"/>
<use href="#k7y22" x="1087" y="82"/>
<use href="#k7y20" x="1131" y="82"/>
<use href="#k7y31" x="1018" y="82"/>
<use href="#k7y22" x="922" y="82"/>
<use href="#k7y21" x="1170" y="82"/>
<use href="#k7y31" x="982" y="85"/>
<use href="#k7y10" x="1143" y="85"/>
<use href="#k7y20" x="1092" y="85"/>
<use href="#k7y11" x="932" y="85"/>
<use href="#k7y32" x="970" y="85"/>
<use href="#k7y21" x="1078" y="85"/>
<use href="#k7y20" x="1162" y="85"/>
<use href="#k7y10" x="937" y="85"/>
<use href="#k7y10" x="917" y="85"/>
<use href="#k7y20" x="1173" y="85"/>
<use href="#k7y20" x="1110" y="85"/>
<use href="#k7y20" x="1128" y="85"/>
<use href="#k7y12" x="912" y="86"/>
<use href="#k7y10" x="1154" y="86"/>
<use href="#k7y22" x="1039" y="86"/>
<use href="#k7y32" x="1169" y="86"/>
<use href="#k7y32" x="1019" y="86"/>
<use href="#k7y21" x="945" y="86"/>
<use href="#k7y10" x="957" y="86"/>
<use href="#k7y12" x="1058" y="86"/>
<use href="#k7y20" x="1071" y="86"/>
<use href="#k7y21" x="1098" y="86"/>
<use href="#k7y20" x="949" y="86"/>
<use href="#k7y20" x="1000" y="86"/>
<use href="#k7y22" x="1104" y="86"/>
<use href="#k7y21" x="1180" y="86"/>
<use href="#k7y21" x="962" y="86"/>
<use href="#k7y11" x="926" y="86"/>
<use href="#k7y21" x="1008" y="86"/>
<use href="#k7y30" x="977" y="86"/>
<use href="#k7y11" x="1137" y="86"/>
<use href="#k7y22" x="1186" y="86"/>
<use href="#k7y12" x="906" y="87"/>
<use href="#k7y12" x="1148" y="87"/>
<use href="#k7y32" x="1086" y="87"/>
<use href="#k7y10" x="900" y="87"/>
<use href="#k7y31" x="993" y="87"/>
<use href="#k7y12" x="1065" y="87"/>
<use href="#k7y12" x="1052" y="87"/>
<use href="#k7y22" x="1014" y="87"/>
<use href="#k7y10" x="1123" y="87"/>
<use href="#k7y10" x="1116" y="87"/>
<use href="#k7y21" x="988" y="88"/>
<use href="#k7y10" x="1045" y="88"/>
<use href="#k7y21" x="1176" y="91"/>
<use href="#k7y10" x="922" y="91"/>
<use href="#k7y20" x="902" y="91"/>
<use href="#k7y10" x="1048" y="91"/>
<use href="#k7y22" x="1004" y="91"/>
<use href="#k7y31" x="1171" y="91"/>
<use href="#k7y12" x="1126" y="91"/>
<use href="#k7y22" x="1157" y="91"/>
<use href="#k7y10" x="940" y="91"/>
<use href="#k7y10" x="946" y="91"/>
<use href="#k7y12" x="1146" y="91"/>
<use href="#k7y22" x="1073" y="91"/>
<use href="#k7y21" x="1184" y="91"/>
<use href="#k7y21" x="1036" y="91"/>
<use href="#k7y20" x="1093" y="91"/>
<use href="#k7y20" x="1101" y="91"/>
<use href="#k7y22" x="1068" y="91"/>
<use href="#k7y12" x="1120" y="91"/>
<use href="#k7y20" x="1165" y="91"/>
<use href="#k7y20" x="1153" y="92"/>
<use href="#k7y20" x="1087" y="92"/>
<use href="#k7y11" x="1063" y="92"/>
<use href="#k7y32" x="1023" y="92"/>
<use href="#k7y20" x="974" y="92"/>
<use href="#k7y32" x="1030" y="92"/>
<use href="#k7y12" x="1055" y="92"/>
<use href="#k7y21" x="1081" y="92"/>
<use href="#k7y20" x="960" y="92"/>
<use href="#k7y11" x="1139" y="92"/>
<use href="#k7y22" x="1112" y="92"/>
<use href="#k7y32" x="992" y="93"/>
<use href="#k7y22" x="1134" y="93"/>
<use href="#k7y30" x="985" y="93"/>
<use href="#k7y31" x="980" y="93"/>
<use href="#k7y22" x="966" y="93"/>
<use href="#k7y12" x="1043" y="93"/>
<use href="#k7y10" x="934" y="93"/>
<use href="#k7y20" x="1191" y="93"/>
<use href="#k7y22" x="1012" y="93"/>
<use href="#k7y22" x="953" y="93"/>
<use href="#k7y12" x="907" y="93"/>
<use href="#k7y20" x="1107" y="93"/>
<use href="#k7y11" x="928" y="93"/>
<use href="#k7y22" x="915" y="93"/>
<use href="#k7y31" x="1018" y="93"/>
<use href="#k7y31" x="997" y="93"/>
<use href="#k7y30" x="1160" y="96"/>
<use href="#k7y21" x="1098" y="96"/>
<use href="#k7y31" x="1077" y="96"/>
<use href="#k7y20" x="1103" y="96"/>
<use href="#k7y20" x="1153" y="96"/>
<use href="#k7y30" x="1027" y="96"/>
<use href="#k7y20" x="1041" y="96"/>
<use href="#k7y20" x="1115" y="96"/>
<use href="#k7y31" x="996" y="96"/>
<use href="#k7y21" x="1111" y="97"/>
<use href="#k7y30" x="1085" y="97"/>
<use href="#k7y22" x="1148" y="97"/>
<use href="#k7y12" x="1141" y="97"/>
<use href="#k7y22" x="1032" y="97"/>
<use href="#k7y22" x="1007" y="97"/>
<use href="#k7y20" x="975" y="97"/>
<use href="#k7y10" x="930" y="97"/>
<use href="#k7y22" x="957" y="97"/>
<use href="#k7y11" x="1129" y="97"/>
<use href="#k7y22" x="1198" y="97"/>
<use href="#k7y22" x="949" y="97"/>
<use href="#k7y21" x="1169" y="97"/>
<use href="#k7y21" x="936" y="97"/>
<use href="#k7y22" x="1179" y="97"/>
<use href="#k7y30" x="1072" y="97"/>
<use href="#k7y21" x="904" y="97"/>
<use href="#k7y21" x="1194" y="98"/>
<use href="#k7y20" x="1135" y="98"/>
<use href="#k7y12" x="912" y="98"/>
<use href="#k7y31" x="1013" y="98"/>
<use href="#k7y22" x="925" y="98"/>
<use href="#k7y21" x="983" y="98"/>
<use href="#k7y31" x="989" y="98"/>
<use href="#k7y11" x="1123" y="98"/>
<use href="#k7y31" x="1186" y="98"/>
<use href="#k7y22" x="899" y="98"/>
<use href="#k7y32" x="1000" y="98"/>
<use href="#k7y22" x="944" y="98"/>
<use href="#k7y22" x="917" y="98"/>
<use href="#k7y21" x="1174" y="98"/>
<use href="#k7y21" x="1053" y="98"/>
<use href="#k7y22" x="1045" y="98"/>
<use href="#k7y21" x="1064" y="98"/>
<use href="#k7y20" x="970" y="98"/>
<use href="#k7y31" x="1091" y="99"/>
<use href="#k7y20" x="961" y="99"/>
<use href="#k7y22" x="1057" y="99"/>
<use href="#k7y30" x="1021" y="99"/>
<use href="#k7y21" x="1055" y="102"/>
<use href="#k7y20" x="1037" y="102"/>
<use href="#k7y22" x="1094" y="102"/>
<use href="#k7y21" x="960" y="102"/>
<use href="#k7y31" x="992" y="102"/>
<use href="#k7y21" x="947" y="102"/>
<use href="#k7y20" x="916" y="102"/>
<use href="#k7y20" x="953" y="102"/>
<use href="#k7y32" x="1088" y="102"/>
<use href="#k7y22" x="1202" y="102"/>
<use href="#k7y21" x="1019" y="102"/>
<use href="#k7y22" x="1048" y="102"/>
<use href="#k7y20" x="908" y="102"/>
<use href="#k7y22" x="1145" y="102"/>
<use href="#k7y21" x="1120" y="102"/>
<use href="#k7y21" x="926" y="102"/>
<use href="#k7y20" x="1022" y="102"/>
<use href="#k7y21" x="1067" y="103"/>
<use href="#k7y20" x="999" y="103"/>
<use href="#k7y31" x="1029" y="103"/>
<use href="#k7y20" x="920" y="103"/>
<use href="#k7y22" x="979" y="103"/>
<use href="#k7y22" x="1044" y="103"/>
<use href="#k7y22" x="934" y="103"/>
<use href="#k7y22" x="1061" y="103"/>
<use href="#k7y31" x="1170" y="103"/>
<use href="#k7y22" x="1132" y="103"/>
<use href="#k7y32" x="1075" y="103"/>
<use href="#k7y20" x="941" y="103"/>
<use href="#k7y20" x="1139" y="104"/>
<use href="#k7y21" x="1197" y="104"/>
<use href="#k7y21" x="1113" y="104"/>
<use href="#k7y21" x="903" y="104"/>
<use href="#k7y21" x="1191" y="104"/>
<use href="#k7y32" x="1164" y="104"/>
<use href="#k7y30" x="1158" y="104"/>
<use href="#k7y21" x="966" y="104"/>
<use href="#k7y22" x="1152" y="104"/>
<use href="#k7y30" x="986" y="104"/>
<use href="#k7y30" x="1107" y="104"/>
<use href="#k7y20" x="1126" y="104"/>
<use href="#k7y32" x="1009" y="104"/>
<use href="#k7y22" x="1004" y="104"/>
<use href="#k7y22" x="1100" y="104"/>
<use href="#k7y32" x="1184" y="104"/>
<use href="#k7y22" x="1176" y="104"/>
<use href="#k7y11" x="971" y="104"/>
<use href="#k7y31" x="1082" y="104"/>
<use href="#k7y20" x="1064" y="107"/>
<use href="#k7y10" x="962" y="107"/>
<use href="#k7y32" x="995" y="107"/>
<use href="#k7y31" x="1192" y="107"/>
<use href="#k7y20" x="1059" y="107"/>
<use href="#k7y21" x="1109" y="107"/>
<use href="#k7y11" x="968" y="108"/>
<use href="#k7y32" x="987" y="108"/>
<use href="#k7y22" x="1167" y="108"/>
<use href="#k7y21" x="949" y="108"/>
<use href="#k7y31" x="1083" y="108"/>
<use href="#k7y11" x="1122" y="108"/>
<use href="#k7y20" x="1026" y="108"/>
<use href="#k7y30" x="1181" y="108"/>
<use href="#k7y20" x="1045" y="108"/>
<use href="#k7y12" x="1129" y="108"/>
<use href="#k7y30" x="1091" y="108"/>
<use href="#k7y20" x="1155" y="108"/>
<use href="#k7y31" x="1079" y="108"/>
<use href="#k7y11" x="1116" y="108"/>
<use href="#k7y21" x="912" y="109"/>
<use href="#k7y22" x="1199" y="109"/>
<use href="#k7y22" x="898" y="109"/>
<use href="#k7y32" x="1188" y="109"/>
<use href="#k7y30" x="1039" y="109"/>
<use href="#k7y31" x="943" y="109"/>
<use href="#k7y10" x="957" y="109"/>
<use href="#k7y31" x="1071" y="109"/>
<use href="#k7y21" x="1173" y="109"/>
<use href="#k7y32" x="981" y="109"/>
<use href="#k7y22" x="1096" y="109"/>
<use href="#k7y21" x="918" y="109"/>
<use href="#k7y22" x="975" y="109"/>
<use href="#k7y31" x="1105" y="109"/>
<use href="#k7y21" x="1020" y="109"/>
<use href="#k7y22" x="1162" y="109"/>
<use href="#k7y20" x="1051" y="109"/>
<use href="#k7y21" x="1141" y="109"/>
<use href="#k7y31" x="1148" y="109"/>
<use href="#k7y20" x="906" y="109"/>
<use href="#k7y21" x="937" y="109"/>
<use href="#k7y21" x="1001" y="110"/>
<use href="#k7y22" x="1032" y="110"/>
<use href="#k7y11" x="1135" y="110"/>
<use href="#k7y31" x="1009" y="110"/>
<use href="#k7y20" x="925" y="110"/>
<use href="#k7y31" x="1013" y="110"/>
<use href="#k7y21" x="930" y="110"/>
<use href="#k7y22" x="1166" y="113"/>
<use href="#k7y30" x="1075" y="113"/>
<use href="#k7y20" x="902" y="113"/>
<use href="#k7y20" x="1050" y="113"/>
<use href="#k7y21" x="1005" y="113"/>
<use href="#k7y22" x="942" y="113"/>
<use href="#k7y22" x="1112" y="113"/>
<use href="#k7y22" x="910" y="113"/>
<use href="#k7y21" x="997" y="113"/>
<use href="#k7y30" x="1183" y="113"/>
<use href="#k7y30" x="914" y="113"/>
<use href="#k7y22" x="1107" y="113"/>
<use href="#k7y20" x="1139" y="113"/>
<use href="#k7y11" x="959" y="113"/>
<use href="#k7y20" x="926" y="113"/>
<use href="#k7y21" x="971" y="113"/>
<use href="#k7y22" x="1055" y="113"/>
<use href="#k7y32" x="1081" y="113"/>
<use href="#k7y11" x="1121" y="113"/>
<use href="#k7y22" x="1132" y="114"/>
<use href="#k7y22" x="1043" y="114"/>
<use href="#k7y10" x="967" y="114"/>
<use href="#k7y22" x="1067" y="114"/>
<use href="#k7y32" x="986" y="114"/>
<use href="#k7y20" x="954" y="114"/>
<use href="#k7y32" x="1017" y="114"/>
<use href="#k7y21" x="1197" y="114"/>
<use href="#k7y22" x="1031" y="114"/>
<use href="#k7y22" x="1204" y="114"/>
<use href="#k7y31" x="922" y="114"/>
<use href="#k7y30" x="990" y="114"/>
<use href="#k7y30" x="1190" y="114"/>
<use href="#k7y21" x="977" y="115"/>
<use href="#k7y30" x="1089" y="115"/>
<use href="#k7y20" x="1151" y="115"/>
<use href="#k7y21" x="947" y="115"/>
<use href="#k7y20" x="1101" y="115"/>
<use href="#k7y32" x="1093" y="115"/>
<use href="#k7y31" x="1024" y="115"/>
<use href="#k7y22" x="1063" y="115"/>
<use href="#k7y31" x="1177" y="115"/>
<use href="#k7y30" x="1037" y="115"/>
<use href="#k7y31" x="934" y="115"/>
<use href="#k7y21" x="1127" y="115"/>
<use href="#k7y20" x="1169" y="115"/>
<use href="#k7y31" x="1011" y="115"/>
<use href="#k7y21" x="1158" y="115"/>
<use href="#k7y21" x="1144" y="115"/>
<use href="#k7y20" x="1039" y="118"/>
<use href="#k7y22" x="1162" y="118"/>
<use href="#k7y32" x="1073" y="118"/>
<use href="#k7y21" x="1198" y="119"/>
<use href="#k7y31" x="917" y="119"/>
<use href="#k7y10" x="900" y="119"/>
<use href="#k7y30" x="1179" y="119"/>
<use href="#k7y21" x="1034" y="119"/>
<use href="#k7y22" x="1135" y="119"/>
<use href="#k7y20" x="1155" y="119"/>
<use href="#k7y32" x="1085" y="119"/>
<use href="#k7y21" x="1098" y="119"/>
<use href="#k7y22" x="951" y="119"/>
<use href="#k7y22" x="957" y="119"/>
<use href="#k7y31" x="1174" y="119"/>
<use href="#k7y21" x="912" y="119"/>
<use href="#k7y30" x="1001" y="119"/>
<use href="#k7y20" x="1103" y="119"/>
<use href="#k7y31" x="988" y="119"/>
<use href="#k7y20" x="936" y="119"/>
<use href="#k7y20" x="1109" y="119"/>
<use href="#k7y22" x="1008" y="119"/>
<use href="#k7y20" x="944" y="120"/>
<use href="#k7y30" x="983" y="120"/>
<use href="#k7y22" x="1122" y="120"/>
<use href="#k7y20" x="1091" y="120"/>
<use href="#k7y22" x="1167" y="120"/>
<use href="#k7y22" x="1058" y="120"/>
<use href="#k7y30" x="925" y="120"/>
<use href="#k7y22" x="1045" y="120"/>
<use href="#k7y32" x="930" y="120"/>
<use href="#k7y10" x="1026" y="120"/>
<use href="#k7y31" x="1064" y="120"/>
<use href="#k7y31" x="1186" y="120"/>
<use href="#k7y22" x="1142" y="120"/>
<use href="#k7y22" x="904" y="120"/>
<use href="#k7y20" x="1015" y="121"/>
<use href="#k7y32" x="1079" y="121"/>
<use href="#k7y21" x="963" y="121"/>
<use href="#k7y22" x="976" y="121"/>
<use href="#k7y32" x="1021" y="121"/>
<use href="#k7y20" x="1129" y="121"/>
<use href="#k7y21" x="1147" y="121"/>
<use href="#k7y30" x="995" y="121"/>
<use href="#k7y22" x="1117" y="121"/>
<use href="#k7y20" x="969" y="121"/>
<use href="#k7y20" x="1053" y="121"/>
<use href="#k7y20" x="1194" y="121"/>
<use href="#k7y20" x="1095" y="124"/>
<use href="#k7y10" x="901" y="124"/>
<use href="#k7y31" x="920" y="124"/>
<use href="#k7y22" x="1042" y="124"/>
<use href="#k7y11" x="1203" y="124"/>
<use href="#k7y21" x="928" y="124"/>
<use href="#k7y20" x="958" y="124"/>
<use href="#k7y22" x="977" y="124"/>
<use href="#k7y12" x="945" y="124"/>
<use href="#k7y21" x="1012" y="125"/>
<use href="#k7y20" x="935" y="125"/>
<use href="#k7y21" x="1037" y="125"/>
<use href="#k7y21" x="1196" y="125"/>
<use href="#k7y22" x="1061" y="125"/>
<use href="#k7y22" x="966" y="125"/>
<use href="#k7y21" x="1158" y="125"/>
<use href="#k7y30" x="1177" y="125"/>
<use href="#k7y21" x="953" y="125"/>
<use href="#k7y32" x="1121" y="125"/>
<use href="#k7y30" x="993" y="125"/>
<use href="#k7y21" x="1005" y="125"/>
<use href="#k7y22" x="1164" y="125"/>
<use href="#k7y21" x="1106" y="125"/>
<use href="#k7y21" x="908" y="125"/>
<use href="#k7y22" x="1189" y="125"/>
<use href="#k7y20" x="1089" y="125"/>
<use href="#k7y22" x="1016" y="125"/>
<use href="#k7y31" x="1152" y="126"/>
<use href="#k7y21" x="1100" y="126"/>
<use href="#k7y21" x="1170" y="126"/>
<use href="#k7y22" x="1070" y="126"/>
<use href="#k7y22" x="1138" y="126"/>
<use href="#k7y21" x="971" y="126"/>
<use href="#k7y20" x="1025" y="126"/>
<use href="#k7y31" x="997" y="126"/>
<use href="#k7y20" x="1145" y="126"/>
<use href="#k7y10" x="1031" y="126"/>
<use href="#k7y32" x="1114" y="126"/>
<use href="#k7y22" x="1127" y="126"/>
<use href="#k7y22" x="984" y="126"/>
<use href="#k7y22" x="941" y="126"/>
<use href="#k7y11" x="1049" y="126"/>
<use href="#k7y30" x="1131" y="126"/>
<use href="#k7y21" x="915" y="126"/>
<use href="#k7y12" x="1054" y="126"/>
<use href="#k7y32" x="1082" y="126"/>
<use href="#k7y30" x="1075" y="126"/>
<use href="#k7y32" x="1184" y="126"/>
<use href="#k7y20" x="1192" y="129"/>
<use href="#k7y10" x="943" y="129"/>
<use href="#k7y11" x="912" y="129"/>
<use href="#k7y11" x="1033" y="129"/>
<use href="#k7y20" x="951" y="129"/>
<use href="#k7y10" x="1205" y="130"/>
<use href="#k7y21" x="1174" y="130"/>
<use href="#k7y20" x="1072" y="130"/>
<use href="#k7y20" x="1084" y="130"/>
<use href="#k7y31" x="1143" y="130"/>
<use href="#k7y30" x="1115" y="130"/>
<use href="#k7y21" x="1110" y="130"/>
<use href="#k7y21" x="1098" y="130"/>
<use href="#k7y22" x="932" y="130"/>
<use href="#k7y30" x="1179" y="130"/>
<use href="#k7y20" x="919" y="130"/>
<use href="#k7y32" x="975" y="130"/>
<use href="#k7y22" x="1187" y="130"/>
<use href="#k7y21" x="906" y="130"/>
<use href="#k7y20" x="1163" y="130"/>
<use href="#k7y22" x="1150" y="130"/>
<use href="#k7y31" x="996" y="130"/>
<use href="#k7y20" x="957" y="130"/>
<use href="#k7y21" x="923" y="130"/>
<use href="#k7y22" x="1155" y="130"/>
<use href="#k7y12" x="1059" y="130"/>
<use href="#k7y12" x="1013" y="131"/>
<use href="#k7y21" x="1130" y="131"/>
<use href="#k7y20" x="1040" y="131"/>
<use href="#k7y21" x="961" y="131"/>
<use href="#k7y21" x="1092" y="131"/>
<use href="#k7y20" x="1168" y="131"/>
<use href="#k7y30" x="1078" y="131"/>
<use href="#k7y11" x="1026" y="131"/>
<use href="#k7y22" x="1065" y="131"/>
<use href="#k7y11" x="1046" y="131"/>
<use href="#k7y30" x="1136" y="131"/>
<use href="#k7y20" x="1104" y="131"/>
<use href="#k7y10" x="1053" y="131"/>
<use href="#k7y21" x="938" y="131"/>
<use href="#k7y11" x="1212" y="131"/>
<use href="#k7y30" x="971" y="131"/>
<use href="#k7y20" x="900" y="131"/>
<use href="#k7y31" x="1122" y="131"/>
<use href="#k7y22" x="981" y="131"/>
<use href="#k7y20" x="1198" y="132"/>
<use href="#k7y21" x="1021" y="132"/>
<use href="#k7y30" x="989" y="132"/>
<use href="#k7y30" x="1000" y="132"/>
<use href="#k7y10" x="1008" y="132"/>
<use href="#k7y20" x="927" y="135"/>
<use href="#k7y21" x="1159" y="135"/>
<use href="#k7y22" x="1082" y="135"/>
<use href="#k7y22" x="1191" y="135"/>
<use href="#k7y12" x="1056" y="135"/>
<use href="#k7y11" x="1037" y="135"/>
<use href="#k7y21" x="915" y="135"/>
<use href="#k7y20" x="1152" y="135"/>
<use href="#k7y21" x="1163" y="135"/>
<use href="#k7y21" x="1094" y="135"/>
<use href="#k7y21" x="934" y="135"/>
<use href="#k7y12" x="1099" y="135"/>
<use href="#k7y20" x="992" y="135"/>
<use href="#k7y12" x="1062" y="135"/>
<use href="#k7y21" x="999" y="135"/>
<use href="#k7y20" x="1023" y="135"/>
<use href="#k7y11" x="948" y="136"/>
<use href="#k7y12" x="1067" y="136"/>
<use href="#k7y31" x="973" y="136"/>
<use href="#k7y22" x="1089" y="136"/>
<use href="#k7y20" x="921" y="136"/>
<use href="#k7y22" x="1172" y="136"/>
<use href="#k7y20" x="1042" y="136"/>
<use href="#k7y32" x="967" y="136"/>
<use href="#k7y22" x="985" y="136"/>
<use href="#k7y32" x="1178" y="136"/>
<use href="#k7y11" x="1204" y="136"/>
<use href="#k7y22" x="939" y="136"/>
<use href="#k7y22" x="1134" y="136"/>
<use href="#k7y20" x="902" y="136"/>
<use href="#k7y10" x="1049" y="136"/>
<use href="#k7y10" x="959" y="136"/>
<use href="#k7y21" x="978" y="136"/>
<use href="#k7y10" x="952" y="136"/>
<use href="#k7y21" x="1113" y="137"/>
<use href="#k7y22" x="1138" y="137"/>
<use href="#k7y10" x="1208" y="137"/>
<use href="#k7y32" x="1118" y="137"/>
<use href="#k7y21" x="1010" y="137"/>
<use href="#k7y20" x="1005" y="137"/>
<use href="#k7y10" x="1214" y="137"/>
<use href="#k7y20" x="1197" y="137"/>
<use href="#k7y10" x="1030" y="137"/>
<use href="#k7y12" x="908" y="137"/>
<use href="#k7y21" x="1074" y="137"/>
<use href="#k7y22" x="1146" y="137"/>
<use href="#k7y11" x="1107" y="137"/>
<use href="#k7y31" x="1184" y="137"/>
<use href="#k7y21" x="1016" y="137"/>
<use href="#k7y31" x="1125" y="137"/>
<use href="#k7y22" x="931" y="140"/>
<use href="#k7y20" x="1015" y="140"/>
<use href="#k7y11" x="1040" y="140"/>
<use href="#k7y21" x="1079" y="140"/>
<use href="#k7y10" x="1034" y="141"/>
<use href="#k7y22" x="1155" y="141"/>
<use href="#k7y32" x="1174" y="141"/>
<use href="#k7y21" x="1130" y="141"/>
<use href="#k7y20" x="1001" y="141"/>
<use href="#k7y22" x="1201" y="141"/>
<use href="#k7y20" x="1220" y="141"/>
<use href="#k7y31" x="1150" y="141"/>
<use href="#k7y22" x="899" y="141"/>
<use href="#k7y11" x="905" y="141"/>
<use href="#k7y21" x="918" y="141"/>
<use href="#k7y22" x="1168" y="141"/>
<use href="#k7y12" x="949" y="141"/>
<use href="#k7y21" x="1098" y="141"/>
<use href="#k7y22" x="1123" y="141"/>
<use href="#k7y22" x="976" y="142"/>
<use href="#k7y20" x="913" y="142"/>
<use href="#k7y20" x="1110" y="142"/>
<use href="#k7y12" x="1019" y="142"/>
<use href="#k7y12" x="1045" y="142"/>
<use href="#k7y22" x="963" y="142"/>
<use href="#k7y22" x="1192" y="142"/>
<use href="#k7y21" x="1008" y="142"/>
<use href="#k7y22" x="1207" y="142"/>
<use href="#k7y20" x="1084" y="142"/>
<use href="#k7y21" x="1058" y="142"/>
<use href="#k7y20" x="1115" y="142"/>
<use href="#k7y11" x="1026" y="142"/>
<use href="#k7y22" x="1142" y="142"/>
<use href="#k7y22" x="955" y="142"/>
<use href="#k7y22" x="1160" y="142"/>
<use href="#k7y21" x="970" y="142"/>
<use href="#k7y20" x="925" y="142"/>
<use href="#k7y20" x="1091" y="143"/>
<use href="#k7y21" x="982" y="143"/>
<use href="#k7y12" x="943" y="143"/>
<use href="#k7y21" x="1103" y="143"/>
<use href="#k7y11" x="1052" y="143"/>
<use href="#k7y21" x="1066" y="143"/>
<use href="#k7y22" x="1073" y="143"/>
<use href="#k7y32" x="990" y="143"/>
<use href="#k7y20" x="1212" y="143"/>
<use href="#k7y21" x="1135" y="143"/>
<use href="#k7y32" x="996" y="143"/>
<use href="#k7y20" x="1188" y="143"/>
<use href="#k7y21" x="1181" y="143"/>
<use href="#k7y20" x="936" y="143"/>
<use href="#k7y21" x="1183" y="146"/>
<use href="#k7y20" x="1145" y="146"/>
<use href="#k7y22" x="1048" y="146"/>
<use href="#k7y10" x="1043" y="146"/>
<use href="#k7y22" x="1203" y="146"/>
<use href="#k7y12" x="947" y="146"/>
<use href="#k7y20" x="1172" y="146"/>
<use href="#k7y30" x="1131" y="146"/>
<use href="#k7y20" x="1126" y="146"/>
<use href="#k7y31" x="1217" y="146"/>
<use href="#k7y22" x="1107" y="146"/>
<use href="#k7y20" x="1153" y="146"/>
<use href="#k7y12" x="1037" y="147"/>
<use href="#k7y20" x="1114" y="147"/>
<use href="#k7y30" x="992" y="147"/>
<use href="#k7y32" x="1176" y="147"/>
<use href="#k7y12" x="1025" y="147"/>
<use href="#k7y22" x="953" y="147"/>
<use href="#k7y22" x="1088" y="147"/>
<use href="#k7y31" x="1076" y="147"/>
<use href="#k7y22" x="1210" y="147"/>
<use href="#k7y22" x="1159" y="147"/>
<use href="#k7y20" x="1140" y="147"/>
<use href="#k7y30" x="928" y="147"/>
<use href="#k7y22" x="960" y="147"/>
<use href="#k7y20" x="1190" y="147"/>
<use href="#k7y30" x="1197" y="147"/>
<use href="#k7y21" x="1120" y="147"/>
<use href="#k7y11" x="941" y="147"/>
<use href="#k7y10" x="1029" y="147"/>
<use href="#k7y22" x="1082" y="148"/>
<use href="#k7y21" x="1004" y="148"/>
<use href="#k7y20" x="966" y="148"/>
<use href="#k7y20" x="1011" y="148"/>
<use href="#k7y20" x="1223" y="148"/>
<use href="#k7y20" x="1063" y="148"/>
<use href="#k7y22" x="1164" y="148"/>
<use href="#k7y21" x="935" y="148"/>
<use href="#k7y31" x="977" y="148"/>
<use href="#k7y32" x="984" y="148"/>
<use href="#k7y30" x="921" y="148"/>
<use href="#k7y20" x="1095" y="148"/>
<use href="#k7y30" x="998" y="148"/>
<use href="#k7y22" x="1054" y="148"/>
<use href="#k7y22" x="908" y="148"/>
<use href="#k7y10" x="901" y="148"/>
<use href="#k7y21" x="1100" y="148"/>
<use href="#k7y31" x="972" y="148"/>
<use href="#k7y10" x="1018" y="148"/>
<use href="#k7y21" x="916" y="148"/>
<use href="#k7y30" x="1068" y="148"/>
<use href="#k7y21" x="1014" y="151"/>
<use href="#k7y32" x="1212" y="151"/>
<use href="#k7y10" x="1103" y="151"/>
<use href="#k7y20" x="899" y="152"/>
<use href="#k7y30" x="1072" y="152"/>
<use href="#k7y32" x="1207" y="152"/>
<use href="#k7y31" x="989" y="152"/>
<use href="#k7y20" x="905" y="152"/>
<use href="#k7y21" x="924" y="152"/>
<use href="#k7y21" x="1123" y="152"/>
<use href="#k7y30" x="1193" y="152"/>
<use href="#k7y22" x="1130" y="152"/>
<use href="#k7y32" x="930" y="152"/>
<use href="#k7y10" x="1060" y="152"/>
<use href="#k7y21" x="957" y="152"/>
<use href="#k7y21" x="1096" y="152"/>
<use href="#k7y32" x="1084" y="152"/>
<use href="#k7y21" x="1034" y="152"/>
<use href="#k7y11" x="1142" y="152"/>
<use href="#k7y32" x="964" y="152"/>
<use href="#k7y30" x="1162" y="152"/>
<use href="#k7y22" x="974" y="152"/>
<use href="#k7y20" x="1047" y="152"/>
<use href="#k7y22" x="1110" y="152"/>
<use href="#k7y22" x="1156" y="153"/>
<use href="#k7y20" x="1007" y="153"/>
<use href="#k7y22" x="1136" y="153"/>
<use href="#k7y20" x="1166" y="153"/>
<use href="#k7y21" x="1021" y="153"/>
<use href="#k7y32" x="1220" y="153"/>
<use href="#k7y31" x="1199" y="153"/>
<use href="#k7y22" x="1041" y="153"/>
<use href="#k7y32" x="982" y="153"/>
<use href="#k7y20" x="917" y="153"/>
<use href="#k7y21" x="1148" y="153"/>
<use href="#k7y32" x="994" y="153"/>
<use href="#k7y20" x="911" y="153"/>
<use href="#k7y12" x="1052" y="154"/>
<use href="#k7y22" x="1187" y="154"/>
<use href="#k7y22" x="1090" y="154"/>
<use href="#k7y20" x="1000" y="154"/>
<use href="#k7y20" x="1180" y="154"/>
<use href="#k7y21" x="1026" y="154"/>
<use href="#k7y21" x="936" y="154"/>
<use href="#k7y11" x="949" y="154"/>
<use href="#k7y32" x="1079" y="154"/>
<use href="#k7y31" x="1174" y="154"/>
<use href="#k7y10" x="944" y="154"/>
<use href="#k7y20" x="1224" y="154"/>
<use href="#k7y31" x="970" y="154"/>
<use href="#k7y22" x="1116" y="154"/>
<use href="#k7y22" x="1066" y="154"/>
<use href="#k7y21" x="1138" y="157"/>
<use href="#k7y31" x="1074" y="157"/>
<use href="#k7y31" x="1158" y="157"/>
<use href="#k7y12" x="946" y="158"/>
<use href="#k7y32" x="1183" y="158"/>
<use href="#k7y32" x="966" y="158"/>
<use href="#k7y11" x="1056" y="158"/>
<use href="#k7y21" x="1062" y="158"/>
<use href="#k7y22" x="997" y="158"/>
<use href="#k7y21" x="1113" y="158"/>
<use href="#k7y21" x="1221" y="158"/>
<use href="#k7y22" x="1196" y="158"/>
<use href="#k7y21" x="1081" y="158"/>
<use href="#k7y32" x="1170" y="158"/>
<use href="#k7y21" x="1189" y="158"/>
<use href="#k7y11" x="953" y="158"/>
<use href="#k7y20" x="1093" y="158"/>
<use href="#k7y20" x="1101" y="158"/>
<use href="#k7y21" x="921" y="158"/>
<use href="#k7y21" x="1036" y="158"/>
<use href="#k7y20" x="1029" y="159"/>
<use href="#k7y22" x="1214" y="159"/>
<use href="#k7y10" x="1048" y="159"/>
<use href="#k7y22" x="1125" y="159"/>
<use href="#k7y32" x="971" y="159"/>
<use href="#k7y21" x="1108" y="159"/>
<use href="#k7y11" x="1151" y="159"/>
<use href="#k7y21" x="1177" y="159"/>
<use href="#k7y21" x="1024" y="159"/>
<use href="#k7y21" x="1119" y="159"/>
<use href="#k7y32" x="1203" y="159"/>
<use href="#k7y20" x="1165" y="159"/>
<use href="#k7y30" x="927" y="159"/>
<use href="#k7y21" x="1133" y="159"/>
<use href="#k7y20" x="1005" y="159"/>
<use href="#k7y11" x="1144" y="159"/>
<use href="#k7y30" x="933" y="159"/>
<use href="#k7y20" x="1012" y="159"/>
<use href="#k7y20" x="1017" y="159"/>
<use href="#k7y10" x="939" y="159"/>
<use href="#k7y21" x="1043" y="159"/>
<use href="#k7y22" x="1069" y="159"/>
<use href="#k7y21" x="915" y="159"/>
<use href="#k7y20" x="958" y="159"/>
<use href="#k7y30" x="979" y="159"/>
<use href="#k7y22" x="991" y="159"/>
<use href="#k7y32" x="984" y="160"/>
<use href="#k7y22" x="901" y="160"/>
<use href="#k7y32" x="1208" y="160"/>
<use href="#k7y21" x="908" y="160"/>
<use href="#k7y20" x="1089" y="160"/>
<use href="#k7y22" x="1045" y="163"/>
<use href="#k7y21" x="1173" y="163"/>
<use href="#k7y20" x="1103" y="163"/>
<use href="#k7y21" x="1130" y="163"/>
<use href="#k7y31" x="1200" y="163"/>
<use href="#k7y20" x="982" y="163"/>
<use href="#k7y32" x="931" y="163"/>
<use href="#k7y12" x="1040" y="163"/>
<use href="#k7y20" x="938" y="163"/>
<use href="#k7y21" x="1143" y="163"/>
<use href="#k7y21" x="989" y="163"/>
<use href="#k7y21" x="976" y="163"/>
<use href="#k7y20" x="1032" y="163"/>
<use href="#k7y21" x="964" y="163"/>
<use href="#k7y22" x="1168" y="163"/>
<use href="#k7y22" x="1066" y="163"/>
<use href="#k7y22" x="1154" y="163"/>
<use href="#k7y20" x="1148" y="163"/>
<use href="#k7y22" x="1110" y="163"/>
<use href="#k7y22" x="1086" y="163"/>
<use href="#k7y11" x="1060" y="163"/>
<use href="#k7y20" x="943" y="164"/>
<use href="#k7y21" x="996" y="164"/>
<use href="#k7y20" x="1136" y="164"/>
<use href="#k7y22" x="951" y="164"/>
<use href="#k7y20" x="919" y="164"/>
<use href="#k7y22" x="1001" y="164"/>
<use href="#k7y21" x="1027" y="164"/>
<use href="#k7y21" x="968" y="164"/>
<use href="#k7y20" x="1072" y="164"/>
<use href="#k7y21" x="1020" y="164"/>
<use href="#k7y20" x="1179" y="164"/>
<use href="#k7y21" x="1053" y="164"/>
<use href="#k7y20" x="1090" y="164"/>
<use href="#k7y21" x="957" y="164"/>
<use href="#k7y20" x="1194" y="164"/>
<use href="#k7y32" x="1078" y="164"/>
<use href="#k7y10" x="912" y="164"/>
<use href="#k7y22" x="924" y="164"/>
<use href="#k7y21" x="1214" y="164"/>
<use href="#k7y21" x="1014" y="164"/>
<use href="#k7y21" x="1206" y="165"/>
<use href="#k7y21" x="1186" y="165"/>
<use href="#k7y21" x="1162" y="165"/>
<use href="#k7y21" x="1225" y="165"/>
<use href="#k7y21" x="904" y="165"/>
<use href="#k7y20" x="1008" y="165"/>
<use href="#k7y12" x="1116" y="165"/>
<use href="#k7y21" x="900" y="165"/>
<use href="#k7y21" x="1219" y="165"/>
<use href="#k7y22" x="1097" y="165"/>
<use href="#k7y21" x="1122" y="165"/>
<use href="#k7y21" x="1057" y="168"/>
<use href="#k7y21" x="907" y="168"/>
<use href="#k7y21" x="1068" y="168"/>
<use href="#k7y22" x="1093" y="168"/>
<use href="#k7y22" x="1061" y="168"/>
<use href="#k7y21" x="998" y="168"/>
<use href="#k7y31" x="1074" y="168"/>
<use href="#k7y20" x="1114" y="168"/>
<use href="#k7y22" x="1223" y="168"/>
<use href="#k7y10" x="933" y="168"/>
<use href="#k7y12" x="984" y="169"/>
<use href="#k7y21" x="940" y="169"/>
<use href="#k7y20" x="1043" y="169"/>
<use href="#k7y22" x="1203" y="169"/>
<use href="#k7y20" x="1087" y="169"/>
<use href="#k7y11" x="929" y="169"/>
<use href="#k7y22" x="1191" y="169"/>
<use href="#k7y22" x="1037" y="169"/>
<use href="#k7y22" x="1210" y="169"/>
<use href="#k7y11" x="978" y="169"/>
<use href="#k7y21" x="1031" y="169"/>
<use href="#k7y22" x="1158" y="169"/>
<use href="#k7y20" x="972" y="169"/>
<use href="#k7y20" x="946" y="169"/>
<use href="#k7y21" x="954" y="169"/>
<use href="#k7y11" x="903" y="169"/>
<use href="#k7y32" x="1082" y="169"/>
<use href="#k7y12" x="992" y="169"/>
<use href="#k7y30" x="1140" y="169"/>
<use href="#k7y20" x="1108" y="169"/>
<use href="#k7y11" x="1100" y="170"/>
<use href="#k7y20" x="1050" y="170"/>
<use href="#k7y30" x="960" y="170"/>
<use href="#k7y21" x="1152" y="170"/>
<use href="#k7y22" x="1197" y="170"/>
<use href="#k7y22" x="1215" y="170"/>
<use href="#k7y22" x="1177" y="170"/>
<use href="#k7y22" x="1025" y="170"/>
<use href="#k7y21" x="921" y="170"/>
<use href="#k7y22" x="1005" y="170"/>
<use href="#k7y30" x="1171" y="170"/>
<use href="#k7y20" x="1134" y="170"/>
<use href="#k7y22" x="1017" y="170"/>
<use href="#k7y22" x="1164" y="170"/>
<use href="#k7y22" x="965" y="170"/>
<use href="#k7y20" x="1183" y="170"/>
<use href="#k7y12" x="914" y="170"/>
<use href="#k7y21" x="1146" y="170"/>
<use href="#k7y12" x="1119" y="170"/>
<use href="#k7y10" x="1127" y="171"/>
<use href="#k7y22" x="1010" y="171"/>
<use href="#k7y20" x="1104" y="174"/>
<use href="#k7y32" x="1149" y="174"/>
<use href="#k7y22" x="963" y="174"/>
<use href="#k7y21" x="1002" y="174"/>
<use href="#k7y21" x="919" y="174"/>
<use href="#k7y12" x="930" y="174"/>
<use href="#k7y22" x="949" y="174"/>
<use href="#k7y10" x="1115" y="174"/>
<use href="#k7y31" x="1141" y="174"/>
<use href="#k7y20" x="1137" y="174"/>
<use href="#k7y20" x="1052" y="174"/>
<use href="#k7y20" x="1168" y="174"/>
<use href="#k7y21" x="1219" y="174"/>
<use href="#k7y21" x="968" y="174"/>
<use href="#k7y31" x="1195" y="174"/>
<use href="#k7y11" x="905" y="174"/>
<use href="#k7y20" x="1060" y="175"/>
<use href="#k7y21" x="925" y="175"/>
<use href="#k7y12" x="983" y="175"/>
<use href="#k7y12" x="900" y="175"/>
<use href="#k7y10" x="1122" y="175"/>
<use href="#k7y11" x="995" y="175"/>
<use href="#k7y11" x="912" y="175"/>
<use href="#k7y20" x="1035" y="175"/>
<use href="#k7y30" x="1199" y="175"/>
<use href="#k7y30" x="1015" y="175"/>
<use href="#k7y32" x="943" y="175"/>
<use href="#k7y21" x="987" y="175"/>
<use href="#k7y21" x="1072" y="175"/>
<use href="#k7y21" x="1045" y="175"/>
<use href="#k7y31" x="1154" y="175"/>
<use href="#k7y21" x="1022" y="175"/>
<use href="#k7y22" x="1181" y="175"/>
<use href="#k7y11" x="975" y="175"/>
<use href="#k7y22" x="1213" y="176"/>
<use href="#k7y20" x="1162" y="176"/>
<use href="#k7y21" x="1026" y="176"/>
<use href="#k7y22" x="1226" y="176"/>
<use href="#k7y10" x="1109" y="176"/>
<use href="#k7y31" x="1187" y="176"/>
<use href="#k7y20" x="1096" y="176"/>
<use href="#k7y21" x="958" y="176"/>
<use href="#k7y32" x="1079" y="176"/>
<use href="#k7y31" x="1083" y="176"/>
<use href="#k7y20" x="1130" y="176"/>
<use href="#k7y22" x="1207" y="176"/>
<use href="#k7y22" x="1173" y="176"/>
<use href="#k7y31" x="938" y="176"/>
<use href="#k7y20" x="1065" y="176"/>
<use href="#k7y32" x="1008" y="176"/>
<use href="#k7y10" x="1040" y="176"/>
<use href="#k7y32" x="1090" y="176"/>
<use href="#k7y31" x="1195" y="179"/>
<use href="#k7y30" x="1176" y="179"/>
<use href="#k7y21" x="1030" y="179"/>
<use href="#k7y20" x="1036" y="179"/>
<use href="#k7y32" x="1152" y="179"/>
<use href="#k7y20" x="1050" y="179"/>
<use href="#k7y20" x="921" y="180"/>
<use href="#k7y20" x="1087" y="180"/>
<use href="#k7y22" x="959" y="180"/>
<use href="#k7y10" x="985" y="180"/>
<use href="#k7y22" x="1023" y="180"/>
<use href="#k7y32" x="1159" y="180"/>
<use href="#k7y21" x="1003" y="180"/>
<use href="#k7y21" x="1069" y="180"/>
<use href="#k7y11" x="967" y="180"/>
<use href="#k7y20" x="1043" y="180"/>
<use href="#k7y22" x="1208" y="180"/>
<use href="#k7y22" x="954" y="180"/>
<use href="#k7y20" x="1170" y="180"/>
<use href="#k7y22" x="934" y="180"/>
<use href="#k7y30" x="1017" y="180"/>
<use href="#k7y20" x="991" y="181"/>
<use href="#k7y31" x="1144" y="181"/>
<use href="#k7y21" x="1216" y="181"/>
<use href="#k7y10" x="907" y="181"/>
<use href="#k7y21" x="1164" y="181"/>
<use href="#k7y20" x="1191" y="181"/>
<use href="#k7y11" x="1127" y="181"/>
<use href="#k7y31" x="1140" y="181"/>
<use href="#k7y32" x="1011" y="181"/>
<use href="#k7y22" x="1222" y="181"/>
<use href="#k7y21" x="1054" y="181"/>
<use href="#k7y10" x="1121" y="181"/>
<use href="#k7y22" x="1094" y="181"/>
<use href="#k7y11" x="979" y="181"/>
<use href="#k7y11" x="929" y="181"/>
<use href="#k7y20" x="941" y="181"/>
<use href="#k7y21" x="1062" y="181"/>
<use href="#k7y31" x="1080" y="181"/>
<use href="#k7y12" x="902" y="181"/>
<use href="#k7y21" x="1076" y="182"/>
<use href="#k7y21" x="946" y="182"/>
<use href="#k7y21" x="915" y="182"/>
<use href="#k7y22" x="998" y="182"/>
<use href="#k7y12" x="974" y="182"/>
<use href="#k7y21" x="1101" y="182"/>
<use href="#k7y20" x="1203" y="182"/>
<use href="#k7y10" x="1106" y="182"/>
<use href="#k7y21" x="1113" y="182"/>
<use href="#k7y21" x="1133" y="182"/>
<use href="#k7y22" x="1183" y="182"/>
<use href="#k7y22" x="987" y="185"/>
<use href="#k7y21" x="1072" y="185"/>
<use href="#k7y30" x="1078" y="185"/>
<use href="#k7y20" x="1143" y="185"/>
<use href="#k7y22" x="1020" y="185"/>
<use href="#k7y20" x="1060" y="185"/>
<use href="#k7y22" x="968" y="185"/>
<use href="#k7y20" x="1213" y="185"/>
<use href="#k7y21" x="1015" y="185"/>
<use href="#k7y20" x="931" y="185"/>
<use href="#k7y21" x="1046" y="185"/>
<use href="#k7y21" x="1167" y="185"/>
<use href="#k7y20" x="1194" y="186"/>
<use href="#k7y32" x="1180" y="186"/>
<use href="#k7y22" x="1001" y="186"/>
<use href="#k7y20" x="1206" y="186"/>
<use href="#k7y20" x="1027" y="186"/>
<use href="#k7y22" x="1092" y="186"/>
<use href="#k7y12" x="1096" y="186"/>
<use href="#k7y21" x="962" y="186"/>
<use href="#k7y20" x="1160" y="186"/>
<use href="#k7y22" x="1199" y="186"/>
<use href="#k7y22" x="906" y="186"/>
<use href="#k7y22" x="943" y="186"/>
<use href="#k7y22" x="1156" y="186"/>
<use href="#k7y22" x="1104" y="187"/>
<use href="#k7y30" x="1123" y="187"/>
<use href="#k7y32" x="1175" y="187"/>
<use href="#k7y21" x="1052" y="187"/>
<use href="#k7y20" x="1147" y="187"/>
<use href="#k7y21" x="951" y="187"/>
<use href="#k7y10" x="982" y="187"/>
<use href="#k7y22" x="1129" y="187"/>
<use href="#k7y21" x="1116" y="187"/>
<use href="#k7y20" x="912" y="187"/>
<use href="#k7y22" x="1039" y="187"/>
<use href="#k7y21" x="1136" y="187"/>
<use href="#k7y20" x="1066" y="187"/>
<use href="#k7y21" x="936" y="187"/>
<use href="#k7y21" x="975" y="187"/>
<use href="#k7y21" x="1085" y="187"/>
<use href="#k7y21" x="996" y="187"/>
<use href="#k7y21" x="956" y="187"/>
<use href="#k7y20" x="1110" y="187"/>
<use href="#k7y21" x="1219" y="187"/>
<use href="#k7y31" x="918" y="187"/>
<use href="#k7y20" x="1186" y="187"/>
<use href="#k7y22" x="1034" y="187"/>
<use href="#k7y22" x="925" y="187"/>
<use href="#k7y22" x="1221" y="190"/>
<use href="#k7y22" x="1043" y="190"/>
<use href="#k7y21" x="966" y="190"/>
<use href="#k7y22" x="1131" y="190"/>
<use href="#k7y31" x="1017" y="190"/>
<use href="#k7y20" x="960" y="191"/>
<use href="#k7y21" x="1068" y="191"/>
<use href="#k7y21" x="1208" y="191"/>
<use href="#k7y20" x="1197" y="191"/>
<use href="#k7y31" x="1113" y="191"/>
<use href="#k7y22" x="1171" y="191"/>
<use href="#k7y20" x="940" y="191"/>
<use href="#k7y21" x="934" y="191"/>
<use href="#k7y22" x="971" y="191"/>
<use href="#k7y22" x="1145" y="191"/>
<use href="#k7y20" x="1217" y="191"/>
<use href="#k7y32" x="916" y="191"/>
<use href="#k7y21" x="947" y="191"/>
<use href="#k7y21" x="1024" y="191"/>
<use href="#k7y31" x="926" y="191"/>
<use href="#k7y21" x="1138" y="192"/>
<use href="#k7y32" x="953" y="192"/>
<use href="#k7y32" x="1127" y="192"/>
<use href="#k7y21" x="1158" y="192"/>
<use href="#k7y32" x="1029" y="192"/>
<use href="#k7y20" x="1074" y="192"/>
<use href="#k7y22" x="1037" y="192"/>
<use href="#k7y30" x="1120" y="192"/>
<use href="#k7y32" x="1176" y="192"/>
<use href="#k7y32" x="1056" y="192"/>
<use href="#k7y11" x="992" y="192"/>
<use href="#k7y20" x="1189" y="192"/>
<use href="#k7y10" x="1081" y="192"/>
<use href="#k7y32" x="1183" y="192"/>
<use href="#k7y20" x="1009" y="193"/>
<use href="#k7y21" x="1062" y="193"/>
<use href="#k7y22" x="1099" y="193"/>
<use href="#k7y22" x="907" y="193"/>
<use href="#k7y20" x="1088" y="193"/>
<use href="#k7y12" x="1150" y="193"/>
<use href="#k7y32" x="1049" y="193"/>
<use href="#k7y21" x="1164" y="193"/>
<use href="#k7y12" x="978" y="193"/>
<use href="#k7y21" x="1203" y="193"/>
<use href="#k7y31" x="920" y="193"/>
<use href="#k7y22" x="1106" y="193"/>
<use href="#k7y12" x="999" y="193"/>
<use href="#k7y22" x="1093" y="193"/>
<use href="#k7y22" x="985" y="193"/>
<use href="#k7y20" x="1161" y="196"/>
<use href="#k7y12" x="1072" y="196"/>
<use href="#k7y22" x="937" y="196"/>
<use href="#k7y30" x="1047" y="196"/>
<use href="#k7y22" x="1187" y="196"/>
<use href="#k7y22" x="968" y="196"/>
<use href="#k7y32" x="1052" y="196"/>
<use href="#k7y21" x="955" y="196"/>
<use href="#k7y32" x="912" y="196"/>
<use href="#k7y22" x="1182" y="196"/>
<use href="#k7y21" x="1091" y="196"/>
<use href="#k7y10" x="1078" y="196"/>
<use href="#k7y22" x="1211" y="196"/>
<use href="#k7y30" x="1111" y="197"/>
<use href="#k7y21" x="989" y="197"/>
<use href="#k7y10" x="1083" y="197"/>
<use href="#k7y20" x="1136" y="197"/>
<use href="#k7y22" x="964" y="197"/>
<use href="#k7y32" x="917" y="197"/>
<use href="#k7y21" x="1168" y="197"/>
<use href="#k7y30" x="1200" y="197"/>
<use href="#k7y30" x="1124" y="197"/>
<use href="#k7y30" x="944" y="197"/>
<use href="#k7y21" x="1218" y="197"/>
<use href="#k7y21" x="1032" y="197"/>
<use href="#k7y22" x="1116" y="197"/>
<use href="#k7y21" x="1008" y="198"/>
<use href="#k7y10" x="976" y="198"/>
<use href="#k7y20" x="1097" y="198"/>
<use href="#k7y21" x="1064" y="198"/>
<use href="#k7y22" x="1013" y="198"/>
<use href="#k7y30" x="1129" y="198"/>
<use href="#k7y21" x="924" y="198"/>
<use href="#k7y20" x="1104" y="198"/>
<use href="#k7y22" x="949" y="198"/>
<use href="#k7y21" x="1041" y="198"/>
<use href="#k7y22" x="1148" y="198"/>
<use href="#k7y20" x="1205" y="198"/>
<use href="#k7y30" x="1021" y="198"/>
<use href="#k7y22" x="1155" y="198"/>
<use href="#k7y30" x="1026" y="198"/>
<use href="#k7y20" x="1174" y="198"/>
<use href="#k7y20" x="1141" y="198"/>
<use href="#k7y21" x="1192" y="198"/>
<use href="#k7y20" x="930" y="198"/>
<use href="#k7y10" x="983" y="199"/>
<use href="#k7y30" x="1058" y="199"/>
<use href="#k7y20" x="1100" y="201"/>
<use href="#k7y22" x="1153" y="201"/>
<use href="#k7y12" x="1139" y="201"/>
<use href="#k7y22" x="1006" y="201"/>
<use href="#k7y22" x="1025" y="202"/>
<use href="#k7y32" x="1178" y="202"/>
<use href="#k7y21" x="1043" y="202"/>
<use href="#k7y20" x="965" y="202"/>
<use href="#k7y31" x="1114" y="202"/>
<use href="#k7y32" x="1055" y="202"/>
<use href="#k7y31" x="1125" y="202"/>
<use href="#k7y20" x="933" y="202"/>
<use href="#k7y30" x="1185" y="202"/>
<use href="#k7y20" x="1095" y="202"/>
<use href="#k7y10" x="1075" y="202"/>
<use href="#k7y32" x="920" y="202"/>
<use href="#k7y32" x="948" y="202"/>
<use href="#k7y22" x="1035" y="202"/>
<use href="#k7y20" x="1089" y="202"/>
<use href="#k7y21" x="984" y="203"/>
<use href="#k7y31" x="928" y="203"/>
<use href="#k7y31" x="952" y="203"/>
<use href="#k7y12" x="960" y="203"/>
<use href="#k7y12" x="972" y="203"/>
<use href="#k7y20" x="1029" y="203"/>
<use href="#k7y22" x="1067" y="203"/>
<use href="#k7y30" x="1048" y="203"/>
<use href="#k7y10" x="1146" y="203"/>
<use href="#k7y31" x="942" y="203"/>
<use href="#k7y22" x="1010" y="203"/>
<use href="#k7y20" x="1157" y="203"/>
<use href="#k7y20" x="1119" y="203"/>
<use href="#k7y22" x="1163" y="204"/>
<use href="#k7y20" x="1106" y="204"/>
<use href="#k7y21" x="1133" y="204"/>
<use href="#k7y21" x="1202" y="204"/>
<use href="#k7y30" x="1197" y="204"/>
<use href="#k7y20" x="1209" y="204"/>
<use href="#k7y12" x="1082" y="204"/>
<use href="#k7y20" x="1216" y="204"/>
<use href="#k7y31" x="1017" y="204"/>
<use href="#k7y32" x="1171" y="204"/>
<use href="#k7y22" x="1221" y="204"/>
<use href="#k7y30" x="1062" y="204"/>
<use href="#k7y10" x="979" y="204"/>
<use href="#k7y31" x="1190" y="204"/>
<use href="#k7y31" x="1123" y="207"/>
<use href="#k7y30" x="1059" y="207"/>
<use href="#k7y31" x="1051" y="207"/>
<use href="#k7y10" x="1142" y="207"/>
<use href="#k7y22" x="1091" y="207"/>
<use href="#k7y12" x="1137" y="207"/>
<use href="#k7y22" x="957" y="207"/>
<use href="#k7y21" x="944" y="207"/>
<use href="#k7y12" x="1034" y="207"/>
<use href="#k7y32" x="1199" y="207"/>
<use href="#k7y21" x="1021" y="208"/>
<use href="#k7y21" x="1026" y="208"/>
<use href="#k7y32" x="1161" y="208"/>
<use href="#k7y22" x="936" y="208"/>
<use href="#k7y32" x="1206" y="208"/>
<use href="#k7y21" x="1065" y="208"/>
<use href="#k7y20" x="1083" y="208"/>
<use href="#k7y32" x="1175" y="208"/>
<use href="#k7y20" x="1214" y="208"/>
<use href="#k7y31" x="1182" y="208"/>
<use href="#k7y22" x="1218" y="208"/>
<use href="#k7y21" x="1045" y="208"/>
<use href="#k7y20" x="1070" y="208"/>
<use href="#k7y11" x="1147" y="208"/>
<use href="#k7y21" x="950" y="208"/>
<use href="#k7y10" x="961" y="208"/>
<use href="#k7y31" x="1118" y="209"/>
<use href="#k7y21" x="1192" y="209"/>
<use href="#k7y22" x="1038" y="209"/>
<use href="#k7y10" x="975" y="209"/>
<use href="#k7y22" x="1130" y="209"/>
<use href="#k7y21" x="1008" y="209"/>
<use href="#k7y20" x="1109" y="209"/>
<use href="#k7y22" x="1104" y="209"/>
<use href="#k7y32" x="1186" y="209"/>
<use href="#k7y21" x="1155" y="209"/>
<use href="#k7y22" x="970" y="209"/>
<use href="#k7y22" x="1014" y="209"/>
<use href="#k7y21" x="1096" y="209"/>
<use href="#k7y20" x="1078" y="209"/>
<use href="#k7y30" x="1167" y="209"/>
<use href="#k7y30" x="1184" y="213"/>
<use href="#k7y31" x="1171" y="213"/>
<use href="#k7y22" x="1061" y="213"/>
<use href="#k7y21" x="1144" y="213"/>
<use href="#k7y21" x="1131" y="213"/>
<use href="#k7y20" x="1217" y="213"/>
<use href="#k7y22" x="1042" y="214"/>
<use href="#k7y20" x="1094" y="214"/>
<use href="#k7y31" x="1178" y="214"/>
<use href="#k7y20" x="1112" y="214"/>
<use href="#k7y30" x="1164" y="214"/>
<use href="#k7y22" x="1190" y="214"/>
<use href="#k7y10" x="1031" y="214"/>
<use href="#k7y32" x="1069" y="214"/>
<use href="#k7y21" x="1197" y="214"/>
<use href="#k7y21" x="1017" y="214"/>
<use href="#k7y22" x="1126" y="214"/>
<use href="#k7y21" x="1140" y="214"/>
<use href="#k7y22" x="1151" y="214"/>
<use href="#k7y21" x="1203" y="214"/>
<use href="#k7y21" x="1082" y="214"/>
<use href="#k7y22" x="1076" y="215"/>
<use href="#k7y21" x="1025" y="215"/>
<use href="#k7y11" x="1010" y="215"/>
<use href="#k7y22" x="1048" y="215"/>
<use href="#k7y22" x="1087" y="215"/>
<use href="#k7y21" x="1101" y="215"/>
<use href="#k7y21" x="1106" y="215"/>
<use href="#k7y21" x="1159" y="215"/>
<use href="#k7y21" x="1037" y="215"/>
<use href="#k7y21" x="1209" y="215"/>
<use href="#k7y21" x="1119" y="215"/>
<use href="#k7y20" x="1056" y="215"/>
<use href="#k7y22" x="1041" y="218"/>
<use href="#k7y21" x="1079" y="218"/>
<use href="#k7y31" x="1180" y="218"/>
<use href="#k7y21" x="1098" y="218"/>
<use href="#k7y20" x="1103" y="218"/>
<use href="#k7y22" x="1219" y="218"/>
<use href="#k7y30" x="1174" y="218"/>
<use href="#k7y20" x="1214" y="219"/>
<use href="#k7y21" x="1064" y="219"/>
<use href="#k7y20" x="1199" y="219"/>
<use href="#k7y31" x="1091" y="219"/>
<use href="#k7y21" x="1117" y="219"/>
<use href="#k7y12" x="1028" y="219"/>
<use href="#k7y32" x="1161" y="219"/>
<use href="#k7y31" x="1085" y="219"/>
<use href="#k7y20" x="1046" y="219"/>
<use href="#k7y22" x="1020" y="219"/>
<use href="#k7y32" x="1072" y="220"/>
<use href="#k7y21" x="1060" y="220"/>
<use href="#k7y20" x="1207" y="220"/>
<use href="#k7y22" x="1034" y="220"/>
<use href="#k7y20" x="1187" y="220"/>
<use href="#k7y21" x="1137" y="220"/>
<use href="#k7y22" x="1051" y="220"/>
<use href="#k7y22" x="1168" y="220"/>
<use href="#k7y21" x="1124" y="220"/>
<use href="#k7y20" x="1142" y="220"/>
<use href="#k7y32" x="1154" y="220"/>
<use href="#k7y22" x="1192" y="220"/>
<use href="#k7y20" x="1147" y="220"/>
<use href="#k7y21" x="1015" y="220"/>
<use href="#k7y21" x="1110" y="221"/>
<use href="#k7y21" x="1130" y="221"/>
<use href="#k7y31" x="1183" y="224"/>
<use href="#k7y21" x="1215" y="224"/>
<use href="#k7y10" x="1204" y="224"/>
<use href="#k7y30" x="1101" y="224"/>
<use href="#k7y22" x="1119" y="224"/>
<use href="#k7y20" x="1157" y="224"/>
<use href="#k7y11" x="1038" y="224"/>
<use href="#k7y31" x="1062" y="224"/>
<use href="#k7y21" x="1024" y="224"/>
<use href="#k7y21" x="1170" y="224"/>
<use href="#k7y20" x="1093" y="224"/>
<use href="#k7y12" x="1210" y="224"/>
<use href="#k7y21" x="1050" y="225"/>
<use href="#k7y20" x="1146" y="225"/>
<use href="#k7y32" x="1076" y="225"/>
<use href="#k7y22" x="1178" y="225"/>
<use href="#k7y22" x="1196" y="225"/>
<use href="#k7y30" x="1150" y="225"/>
<use href="#k7y30" x="1081" y="225"/>
<use href="#k7y21" x="1164" y="225"/>
<use href="#k7y22" x="1138" y="225"/>
<use href="#k7y11" x="1042" y="225"/>
<use href="#k7y22" x="1089" y="225"/>
<use href="#k7y11" x="1031" y="226"/>
<use href="#k7y10" x="1126" y="226"/>
<use href="#k7y21" x="1056" y="226"/>
<use href="#k7y10" x="1133" y="226"/>
<use href="#k7y10" x="1114" y="226"/>
<use href="#k7y21" x="1068" y="226"/>
<use href="#k7y20" x="1108" y="226"/>
<use href="#k7y22" x="1190" y="226"/>
<use href="#k7y21" x="1052" y="229"/>
<use href="#k7y21" x="1194" y="229"/>
<use href="#k7y30" x="1072" y="229"/>
<use href="#k7y20" x="1027" y="229"/>
<use href="#k7y10" x="1124" y="229"/>
<use href="#k7y20" x="1147" y="229"/>
<use href="#k7y20" x="1168" y="230"/>
<use href="#k7y20" x="1085" y="230"/>
<use href="#k7y31" x="1065" y="230"/>
<use href="#k7y10" x="1040" y="230"/>
<use href="#k7y30" x="1103" y="230"/>
<use href="#k7y20" x="1160" y="230"/>
<use href="#k7y22" x="1143" y="230"/>
<use href="#k7y20" x="1137" y="230"/>
<use href="#k7y21" x="1109" y="230"/>
<use href="#k7y11" x="1129" y="231"/>
<use href="#k7y21" x="1058" y="231"/>
<use href="#k7y10" x="1116" y="231"/>
<use href="#k7y22" x="1180" y="231"/>
<use href="#k7y22" x="1201" y="231"/>
<use href="#k7y31" x="1079" y="231"/>
<use href="#k7y21" x="1187" y="231"/>
<use href="#k7y21" x="1091" y="231"/>
<use href="#k7y31" x="1098" y="231"/>
<use href="#k7y20" x="1154" y="231"/>
<use href="#k7y22" x="1174" y="231"/>
<use href="#k7y22" x="1047" y="232"/>
<use href="#k7y22" x="1034" y="232"/>
<use href="#k7y32" x="1178" y="235"/>
<use href="#k7y21" x="1048" y="235"/>
<use href="#k7y10" x="1118" y="235"/>
<use href="#k7y20" x="1068" y="235"/>
<use href="#k7y10" x="1127" y="235"/>
<use href="#k7y11" x="1138" y="235"/>
<use href="#k7y12" x="1146" y="235"/>
<use href="#k7y22" x="1029" y="235"/>
<use href="#k7y21" x="1164" y="235"/>
<use href="#k7y31" x="1086" y="236"/>
<use href="#k7y20" x="1114" y="236"/>
<use href="#k7y22" x="1108" y="236"/>
<use href="#k7y22" x="1190" y="236"/>
<use href="#k7y20" x="1182" y="236"/>
<use href="#k7y10" x="1054" y="236"/>
<use href="#k7y31" x="1081" y="236"/>
<use href="#k7y22" x="1041" y="236"/>
<use href="#k7y11" x="1063" y="236"/>
<use href="#k7y11" x="1132" y="236"/>
<use href="#k7y22" x="1036" y="237"/>
<use href="#k7y22" x="1172" y="237"/>
<use href="#k7y20" x="1074" y="237"/>
<use href="#k7y20" x="1151" y="237"/>
<use href="#k7y21" x="1157" y="237"/>
<use href="#k7y30" x="1101" y="237"/>
<use href="#k7y31" x="1094" y="237"/>
<use href="#k7y22" x="1195" y="237"/>
<use href="#k7y20" x="1052" y="240"/>
<use href="#k7y30" x="1084" y="240"/>
<use href="#k7y10" x="1122" y="240"/>
<use href="#k7y11" x="1066" y="241"/>
<use href="#k7y21" x="1187" y="241"/>
<use href="#k7y32" x="1097" y="241"/>
<use href="#k7y10" x="1150" y="241"/>
<use href="#k7y21" x="1162" y="241"/>
<use href="#k7y30" x="1104" y="241"/>
<use href="#k7y12" x="1118" y="241"/>
<use href="#k7y20" x="1111" y="241"/>
<use href="#k7y21" x="1072" y="242"/>
<use href="#k7y22" x="1168" y="242"/>
<use href="#k7y21" x="1173" y="242"/>
<use href="#k7y20" x="1038" y="242"/>
<use href="#k7y11" x="1058" y="242"/>
<use href="#k7y20" x="1193" y="242"/>
<use href="#k7y10" x="1141" y="242"/>
<use href="#k7y11" x="1129" y="242"/>
<use href="#k7y21" x="1180" y="242"/>
<use href="#k7y31" x="1045" y="242"/>
<use href="#k7y21" x="1155" y="242"/>
<use href="#k7y30" x="1092" y="243"/>
<use href="#k7y10" x="1136" y="243"/>
<use href="#k7y30" x="1079" y="243"/>
<use href="#k7y21" x="1070" y="246"/>
<use href="#k7y22" x="1163" y="246"/>
<use href="#k7y20" x="1050" y="246"/>
<use href="#k7y21" x="1153" y="246"/>
<use href="#k7y10" x="1140" y="246"/>
<use href="#k7y22" x="1157" y="246"/>
<use href="#k7y21" x="1107" y="246"/>
<use href="#k7y20" x="1063" y="247"/>
<use href="#k7y12" x="1133" y="247"/>
<use href="#k7y32" x="1081" y="247"/>
<use href="#k7y32" x="1075" y="247"/>
<use href="#k7y11" x="1145" y="247"/>
<use href="#k7y12" x="1113" y="247"/>
<use href="#k7y10" x="1119" y="247"/>
<use href="#k7y12" x="1125" y="248"/>
<use href="#k7y22" x="1035" y="248"/>
<use href="#k7y21" x="1182" y="248"/>
<use href="#k7y22" x="1044" y="248"/>
<use href="#k7y30" x="1170" y="248"/>
<use href="#k7y32" x="1102" y="248"/>
<use href="#k7y30" x="1089" y="248"/>
<use href="#k7y21" x="1177" y="248"/>
<use href="#k7y21" x="1189" y="248"/>
<use href="#k7y11" x="1055" y="248"/>
<use href="#k7y31" x="1095" y="248"/>
<use href="#k7y21" x="1135" y="251"/>
<use href="#k7y31" x="1098" y="251"/>
<use href="#k7y22" x="1092" y="251"/>
<use href="#k7y32" x="1104" y="251"/>
<use href="#k7y22" x="1156" y="252"/>
<use href="#k7y22" x="1109" y="252"/>
<use href="#k7y11" x="1181" y="252"/>
<use href="#k7y32" x="1083" y="252"/>
<use href="#k7y22" x="1040" y="252"/>
<use href="#k7y11" x="1122" y="252"/>
<use href="#k7y31" x="1071" y="252"/>
<use href="#k7y22" x="1065" y="252"/>
<use href="#k7y20" x="1160" y="252"/>
<use href="#k7y21" x="1143" y="252"/>
<use href="#k7y22" x="1175" y="252"/>
<use href="#k7y30" x="1079" y="253"/>
<use href="#k7y20" x="1046" y="253"/>
<use href="#k7y20" x="1149" y="253"/>
<use href="#k7y20" x="1058" y="253"/>
<use href="#k7y10" x="1118" y="253"/>
<use href="#k7y10" x="1128" y="254"/>
<use href="#k7y10" x="1052" y="254"/>
<use href="#k7y20" x="1168" y="254"/>
<use href="#k7y20" x="1150" y="257"/>
<use href="#k7y11" x="1125" y="257"/>
<use href="#k7y21" x="1107" y="257"/>
<use href="#k7y22" x="1063" y="257"/>
<use href="#k7y22" x="1100" y="257"/>
<use href="#k7y22" x="1166" y="257"/>
<use href="#k7y21" x="1169" y="257"/>
<use href="#k7y22" x="1114" y="257"/>
<use href="#k7y20" x="1044" y="257"/>
<use href="#k7y31" x="1088" y="258"/>
<use href="#k7y31" x="1144" y="258"/>
<use href="#k7y30" x="1068" y="258"/>
<use href="#k7y21" x="1037" y="258"/>
<use href="#k7y22" x="1080" y="258"/>
<use href="#k7y21" x="1076" y="258"/>
<use href="#k7y22" x="1094" y="259"/>
<use href="#k7y10" x="1049" y="259"/>
<use href="#k7y21" x="1132" y="259"/>
<use href="#k7y21" x="1056" y="259"/>
<use href="#k7y31" x="1157" y="259"/>
<use href="#k7y11" x="1119" y="259"/>
<use href="#k7y32" x="1139" y="259"/>
<use href="#k7y20" x="1077" y="262"/>
<use href="#k7y11" x="1047" y="262"/>
<use href="#k7y21" x="1155" y="262"/>
<use href="#k7y20" x="1105" y="262"/>
<use href="#k7y20" x="1097" y="263"/>
<use href="#k7y10" x="1059" y="263"/>
<use href="#k7y22" x="1110" y="263"/>
<use href="#k7y22" x="1065" y="263"/>
<use href="#k7y31" x="1071" y="263"/>
<use href="#k7y20" x="1091" y="263"/>
<use href="#k7y30" x="1141" y="263"/>
<use href="#k7y11" x="1124" y="263"/>
<use href="#k7y10" x="1116" y="263"/>
<use href="#k7y31" x="1136" y="263"/>
<use href="#k7y21" x="1085" y="264"/>
<use href="#k7y31" x="1147" y="264"/>
<use href="#k7y31" x="1130" y="264"/>
<use href="#k7y11" x="1040" y="265"/>
<use href="#k7y12" x="1051" y="265"/>
<use href="#k7y11" x="1056" y="268"/>
<use href="#k7y22" x="1068" y="268"/>
<use href="#k7y20" x="1073" y="268"/>
<use href="#k7y10" x="1044" y="268"/>
<use href="#k7y10" x="1048" y="269"/>
<use href="#k7y22" x="1081" y="269"/>
<use href="#k7y22" x="1089" y="270"/>
<use href="#k7y10" x="1063" y="270"/>
<use href="#k7y22" x="1052" y="274"/>
<use href="#k7y12" x="1046" y="274"/>
<use href="#k7y30" x="1085" y="275"/>
<use href="#k7y20" x="1058" y="275"/>
<use href="#k7y32" x="1072" y="275"/>
<use href="#k7y20" x="1065" y="275"/>
<use href="#k7y31" x="1079" y="276"/>
<use href="#k7y32" x="1080" y="279"/>
<use href="#k7y31" x="1069" y="279"/>
<use href="#k7y20" x="1088" y="280"/>
<use href="#k7y20" x="1056" y="280"/>
<use href="#k7y30" x="1075" y="280"/>
<use href="#k7y20" x="1061" y="281"/>
<path d="M914.13,19.38 C918.13,18.63 932.47,21.81 937.81,22.47 C943.15,23.13 949.32,24.59 954.18,24.34 C959.05,24.09 968.29,18.6 974.3,20.6 C980.32,22.6 992.61,34.12 999.29,39.32 C1005.96,44.51 1020.46,54.16 1024.36,59.53 C1028.27,64.89 1028.01,74.89 1028.58,79.55 C1029.14,84.22 1026.93,94.19 1028.58,94.52 C1030.22,94.86 1036.61,85.07 1040.93,82.08 C1045.24,79.08 1055.28,73.9 1060.95,72.07 C1066.63,70.23 1076.82,67.82 1083.5,68.32 C1090.19,68.82 1103.75,75.31 1111.11,75.81 C1118.47,76.31 1131.7,72.07 1138.71,72.07 C1145.72,72.07 1158.36,73.81 1163.7,75.81 C1169.04,77.81 1174.75,83.54 1178.76,87.04 C1182.78,90.53 1190.82,96.32 1193.83,102.01 C1196.84,107.7 1198.64,124.68 1201.31,129.71 C1203.98,134.74 1211.51,134.38 1213.85,139.72 C1216.2,145.06 1218.91,162.41 1218.91,169.76 C1218.91,177.11 1214.86,188.49 1213.85,194.84 C1212.84,201.19 1214,213.05 1211.33,217.39 C1208.66,221.73 1197.5,223.72 1193.83,227.4 C1190.16,231.08 1189.17,240.98 1183.82,244.99 C1178.46,249.01 1161.71,255.19 1153.68,257.53 C1145.66,259.88 1131.99,261.91 1123.65,262.58 C1115.3,263.26 1096.1,260.59 1091.08,262.58 C1086.07,264.58 1091.05,275.89 1086.03,277.56 C1081.01,279.23 1059.82,277.12 1053.47,275.12 C1047.12,273.13 1041.08,267.95 1038.4,262.58 C1035.72,257.22 1036.69,241.24 1033.35,234.89 C1030,228.54 1016.95,220.07 1013.32,214.96 C1009.69,209.84 1006.78,200.48 1006.12,196.52 C1005.46,192.57 1006.74,187.16 1008.36,185.29 C1009.98,183.42 1018.96,183.23 1018.28,182.48 C1017.61,181.74 1005.18,178.68 1003.31,179.68 C1001.44,180.68 1007.49,185.98 1004.25,189.97 C1001,193.96 987.34,207.3 978.98,209.62 C970.62,211.94 950.2,209.37 941.55,207.38 C932.9,205.38 918.87,198.59 914.13,194.65 C909.39,190.71 907.33,185.04 905.99,177.81 C904.66,170.57 904.25,150.36 904.12,140.38 C904,130.39 904.81,114.18 905.06,102.95 C905.31,91.72 905.62,66.14 905.99,56.16 C906.37,46.18 906.78,32.99 907.86,28.09 C908.95,23.18 910.14,20.13 914.13,19.38Z" fill="url(#shadeY)"/>
</g>
<rect x="770.7" y="9.1" width="573.3" height="282.3" fill="none" stroke="#000" stroke-width="2.4"/>
<text transform="translate(1217.85,39.6) scale(1.0012,1)" font-size="27" fill="#000">After 1 μs</text>
<g stroke="#000" stroke-width="1.6" fill="none"><path d="M1275.1,227.7 V193"/><path d="M1275.1,227.7 H1310"/><path d="M1275.1,227.7 L1253,250"/></g>
<g fill="#000"><path d="M1275.1,187.5 L1271.6,195.5 L1278.6,195.5Z"/><path d="M1316.1,227.7 L1308.1,224.2 L1308.1,231.2Z"/><path d="M1249.1,255.8 L1257.5,252.3 L1252.6,247.4Z"/></g>
<text transform="translate(1273.17,176) scale(1.1389,1)" font-size="18" fill="#000">x</text>
<text transform="translate(1322.11,230.4) scale(1.2205,1)" font-size="18" fill="#000">z</text>
<text transform="translate(1262.65,271.8) scale(1.0985,1)" font-size="18" fill="#000">y</text>
<text transform="translate(11.11,366.82) scale(0.3632,0.3922)" font-size="100" font-weight="bold" fill="#000">b</text>
<polyline points="90.6,352.24 95.91,352.24 117.16,372.14 143.71,372.14 170.26,372.14 196.82,372.14 249.93,414.4 303.04,457.7 356.15,458.05 409.26,478.79 462.37,500.51 515.48,521.81 568.59,564.55 621.7,607.16" fill="none" stroke="#000" stroke-width="1.5"/>
<circle cx="90.6" cy="352.24" r="5.9" fill="#000"/>
<circle cx="95.91" cy="352.24" r="5.9" fill="#000"/>
<circle cx="117.16" cy="372.14" r="5.9" fill="#000"/>
<circle cx="143.71" cy="372.14" r="5.9" fill="#000"/>
<circle cx="170.26" cy="372.14" r="5.9" fill="#000"/>
<circle cx="196.82" cy="372.14" r="5.9" fill="#000"/>
<circle cx="249.93" cy="414.4" r="5.9" fill="#000"/>
<circle cx="303.04" cy="457.7" r="5.9" fill="#000"/>
<circle cx="356.15" cy="458.05" r="5.9" fill="#000"/>
<circle cx="409.26" cy="478.79" r="5.9" fill="#000"/>
<circle cx="462.37" cy="500.51" r="5.9" fill="#000"/>
<circle cx="515.48" cy="521.81" r="5.9" fill="#000"/>
<circle cx="568.59" cy="564.55" r="5.9" fill="#000"/>
<circle cx="621.7" cy="607.16" r="5.9" fill="#000"/>
<rect x="196.6" y="342.0" width="112.6" height="273.6" fill="rgb(225,95,15)" fill-opacity="0.2"/>
<rect x="309.2" y="342.0" width="133.90000000000003" height="273.6" fill="rgb(245,240,0)" fill-opacity="0.2"/>
<rect x="443.1" y="342.0" width="187.39999999999998" height="273.6" fill="rgb(0,0,255)" fill-opacity="0.2"/>
<rect x="81.8" y="342.0" width="548.7" height="273.6" fill="none" stroke="#222" stroke-width="1.8"/>
<path d="M81.8,579.22h5.8 M81.8,544.3h5.8 M81.8,509.38h5.8 M81.8,474.46h5.8 M81.8,439.54h5.8 M81.8,404.62h5.8 M81.8,369.7h5.8 M90.6,615.6v-6 M143.71,615.6v-6 M196.82,615.6v-6 M249.93,615.6v-6 M303.04,615.6v-6 M356.15,615.6v-6 M409.26,615.6v-6 M462.37,615.6v-6 M515.48,615.6v-6 M568.59,615.6v-6 M621.7,615.6v-6" stroke="#222" stroke-width="1.5" fill="none"/>
<text x="64.91" y="587.82" font-size="24.5" fill="#000">2</text>
<text x="64.39" y="517.98" font-size="24.5" fill="#000">4</text>
<text x="64.75" y="448.14" font-size="24.5" fill="#000">6</text>
<text x="64.74" y="378.3" font-size="24.5" fill="#000">8</text>
<text x="83.79" y="642.3" font-size="24.5" fill="#000">0</text>
<text x="176.24" y="642.3" font-size="24.5" fill="#000">200</text>
<text x="282.8" y="642.3" font-size="24.5" fill="#000">400</text>
<text x="388.68" y="642.3" font-size="24.5" fill="#000">600</text>
<text x="494.99" y="642.3" font-size="24.5" fill="#000">800</text>
<text x="593.99" y="642.3" font-size="24.5" fill="#000">1000</text>
<path d="M218.8,371 H259" stroke="#333" stroke-width="1.3"/>
<path d="M207.5,371 L219,365.2 L219,376.8Z" fill="#000"/>
<text transform="translate(267.97,381.1) scale(1.0215,1)" font-size="25.5" fill="#000">Onset of attraction (~200 ns)</text>
<text transform="translate(253.2,589.37) rotate(-90) scale(1.0383,1)" font-size="25.5" fill="#000">D-I dominant</text>
<text transform="translate(301.88,547.2) scale(1.0712,1)" font-size="25.5" fill="#000">Intermediate</text>
<text transform="translate(451.81,459.6) scale(1.0417,1)" font-size="25.5" fill="#000">vdW dominant</text>
<text transform="translate(41,521) rotate(-90)" font-size="24.5"><tspan font-style="italic">r</tspan><tspan font-size="16.5" dy="5.5" dx="0.8">ss</tspan><tspan dy="-5.5" dx="1"> (nm)</tspan></text>
<text x="328" y="681.5" font-size="25.6"><tspan font-style="italic">t</tspan> (ns)</text>
<path d="M801.7,392.5 H1346.3" stroke="#666" stroke-width="1.3" stroke-dasharray="5.5 4.5"/>
<polyline points="1100.65,393.3 1102,393.3 1103.35,393.3 1104.7,393.3 1106.05,393.3 1107.4,393.3 1108.75,393.3 1110.1,393.3 1111.45,393.3 1112.8,393.3 1114.15,393.3 1115.5,393.3 1116.85,393.3 1118.2,393.3 1119.55,392.87 1120.9,393.24 1122.25,393.82 1123.6,393 1124.95,393.54 1126.3,393.82 1127.65,391.8 1129,392.62 1130.34,392.47 1131.69,391.56 1133.04,391.83 1134.39,391.93 1135.74,384.82 1137.09,393.82 1138.44,387.25 1139.79,393.82 1141.14,392.14 1142.49,386.51 1143.84,389.31 1145.19,384.43 1146.54,385.67 1147.89,385.97 1149.24,383.64 1150.59,389.03 1151.94,386.89 1153.29,386.11 1154.64,386.32 1155.99,381.65 1157.34,382.64 1158.69,386.77 1160.03,382.73 1161.38,381.31 1162.73,382.25 1164.08,377.14 1165.43,382.09 1166.78,382.32 1168.13,382.43 1169.48,387.54 1170.83,378.11 1172.18,385.55 1173.53,379.53 1174.88,381.72 1176.23,381.65 1177.58,379.16 1178.93,380.02 1180.28,378.67 1181.63,384.93 1182.98,378.99 1184.33,379.79 1185.68,379.54 1187.03,383.79 1188.38,380.35 1189.73,380.33 1191.07,384.19 1192.42,389.18 1193.77,388.04 1195.12,390.19 1196.47,387.72 1197.82,393.57 1199.17,387.87 1200.52,384.61 1201.87,392.84 1203.22,375.91 1204.57,370.31 1205.92,366.4 1207.27,363.59 1208.62,363.98 1209.97,367.7 1211.32,370.79 1212.67,362.35 1214.02,367.86 1215.37,365.68 1216.72,368.95 1218.07,355.23 1219.42,364.81 1220.77,356.47 1222.11,362.25 1223.46,368.98 1224.81,369.95 1226.16,370.83 1227.51,352.9 1228.86,362.92 1230.21,364.77 1231.56,363.59 1232.91,370.06 1234.26,364.95 1235.61,372.61 1236.96,369.36 1238.31,358.1 1239.66,363.85 1241.01,368.79 1242.36,365.22 1243.71,368.03 1245.06,361.13 1246.41,380.74 1247.76,373.91 1249.11,368.72 1250.46,380.14 1251.81,379.88 1253.15,383.1 1254.5,377.27 1255.85,387.63 1257.2,379.82 1258.55,378.6 1259.9,384.34 1261.25,375.29 1262.6,376.78 1263.95,367.57 1265.3,370.05 1266.65,368.82 1268,370.65 1269.35,364.69 1270.7,371.89 1272.05,357.41 1273.4,368.21 1274.75,359.08 1276.1,377.25 1277.45,376.04 1278.8,361.38 1280.15,374.7 1281.5,376.91 1282.85,368.96 1284.19,369.15 1285.54,363.8 1286.89,363.33 1288.24,370.72 1289.59,361.98 1290.94,370.57 1292.29,356.19 1293.64,365.23 1294.99,356.99 1296.34,363.95 1297.69,370.92 1299.04,364.24 1300.39,371.04 1301.74,362.02 1303.09,370.75 1304.44,364.43 1305.79,362.76 1307.14,372.65 1308.49,370.72 1309.84,362.53 1311.19,367.82 1312.54,370.65 1313.89,376.48 1315.23,370.31 1316.58,371.89 1317.93,366.67 1319.28,365.3 1320.63,364.4 1321.98,369.39 1323.33,359.73 1324.68,375.53 1326.03,372.56 1327.38,367.48 1328.73,361.96 1330.08,375.23 1331.43,371.41 1332.78,367.5 1334.13,369.08 1335.48,370.84 1336.83,368.85 1338.18,369.75 1339.53,368.05 1340.88,365.27 1342.23,380.64 1343.58,371.04 1344.93,374.77" fill="none" stroke="#0000ff" stroke-width="1.5" stroke-linejoin="round"/>
<polyline points="805.1,393.3 806.45,393.3 807.8,393.3 809.15,393.3 810.5,393.3 811.85,393.3 813.2,393.3 814.55,393.3 815.9,393.3 817.25,393.3 818.6,393.3 819.95,393.3 821.29,393.3 822.64,393.3 823.99,393.3 825.34,393.3 826.69,393.3 828.04,393.3 829.39,393.3 830.74,393.3 832.09,393.3 833.44,393.3 834.79,393.3 836.14,393.3 837.49,393.3 838.84,393.3 840.19,393.3 841.54,393.3 842.89,393.3 844.24,393.3 845.59,393.3 846.94,393.3 848.29,393.3 849.64,393.3 850.99,393.3 852.33,393.3 853.68,393.3 855.03,393.3 856.38,393.3 857.73,393.3 859.08,393.3 860.43,393.3 861.78,393.3 863.13,393.3 864.48,393.3 865.83,393.3 867.18,393.3 868.53,393.3 869.88,393.3 871.23,393.3 872.58,393.3 873.93,393.3 875.28,393.3 876.63,393.3 877.98,393.3 879.33,393.3 880.68,393.3 882.03,393.3 883.37,393.3 884.72,393.3 886.07,393.3 887.42,393.3 888.77,393.3 890.12,393.3 891.47,393.3 892.82,393.3 894.17,393.3 895.52,393.3 896.87,393.3 898.22,393.3 899.57,393.3 900.92,393.3 902.27,393.3 903.62,393.3 904.97,393.3 906.32,393.3 907.67,393.3 909.02,393.3 910.37,393.3 911.72,393.3 913.07,393.3 914.41,393.3 915.76,393.3 917.11,393.3 918.46,393.3 919.81,393.3 921.16,393.3 922.51,393.3 923.86,393.3 925.21,393.3 926.56,393.3 927.91,393.3 929.26,393.3 930.61,393.3 931.96,393.3 933.31,393.3 934.66,393.3 936.01,393.3 937.36,393.3 938.71,393.3 940.06,393.3 941.41,393.3 942.76,393.3 944.1,393.3 945.45,393.3 946.8,393.3 948.15,393.3 949.5,393.3 950.85,393.3 952.2,393.3 953.55,393.3 954.9,393.3 956.25,393.3 957.6,393.3 958.95,393.3 960.3,393.3 961.65,393.3 963,393.3 964.35,393.3 965.7,393.3 967.05,393.3 968.4,393.3 969.75,393.3 971.1,393.3 972.45,393.3 973.8,393.3 975.14,393.3 976.49,393.3 977.84,393.3 979.19,393.3 980.54,393.3 981.89,393.3 983.24,393.3 984.59,393.3 985.94,393.3 987.29,393.3 988.64,393.3 989.99,393.3 991.34,393.3 992.69,393.3 994.04,393.3 995.39,393.3 996.74,393.3 998.09,393.3 999.44,393.3 1000.79,393.3 1002.14,393.3 1003.49,393.3 1004.84,393.3 1006.18,393.3 1007.53,400.32 1008.88,402.28 1010.23,402.16 1011.58,417.72 1012.93,405.41 1014.28,408.06 1015.63,411.67 1016.98,416.68 1018.33,414.56 1019.68,407.53 1021.03,406.73 1022.38,405.71 1023.73,403.1 1025.08,401.9 1026.43,400.52 1027.78,401.95 1029.13,405.64 1030.48,409.66 1031.83,405.29 1033.18,411.05 1034.53,401.36 1035.88,402.75 1037.22,401.11 1038.57,402.06 1039.92,399.82 1041.27,400.56 1042.62,399.83 1043.97,401.81 1045.32,399.6 1046.67,399.92 1048.02,403.78 1049.37,399.94 1050.72,416.16 1052.07,404.34 1053.42,401.2 1054.77,399.87 1056.12,402.79 1057.47,399.82 1058.82,416.23 1060.17,402.98 1061.52,401.77 1062.87,416.26 1064.22,405.88 1065.57,399.7 1066.92,403.6 1068.26,416.3 1069.61,410.43 1070.96,400.6 1072.31,400.28 1073.66,401.41 1075.01,404.36 1076.36,399.98 1077.71,405.84 1079.06,404.89 1080.41,399.89 1081.76,403.61 1083.11,403.11 1084.46,399.66 1085.81,406.01 1087.16,402.28 1088.51,410.77 1089.86,408.5 1091.21,408.82 1092.56,405.23 1093.91,403.27 1095.26,405.98 1096.61,411.11 1097.96,404.98 1099.3,405.2 1100.65,411.56 1102,410.02 1103.35,432.51 1104.7,415.02 1106.05,407.17 1107.4,402.57 1108.75,408.15 1110.1,415.08 1111.45,408.28 1112.8,411.25 1114.15,406.24 1115.5,409.58 1116.85,412.03 1118.2,433.84 1119.55,427.56 1120.9,436.05 1122.25,424.93 1123.6,408.27 1124.95,411.92 1126.3,410.41 1127.65,410.34 1129,413.97 1130.34,420.51 1131.69,421.33 1133.04,448.79 1134.39,425.95 1135.74,451.94 1137.09,478.1 1138.44,481.11 1139.79,445.63 1141.14,496.41 1142.49,414.91 1143.84,432.1 1145.19,469.88 1146.54,444.03 1147.89,493.14 1149.24,424.46 1150.59,497.92 1151.94,513.41 1153.29,458.66 1154.64,479.36 1155.99,461.77 1157.34,503.18 1158.69,480.98 1160.03,501.88 1161.38,463.8 1162.73,510.18 1164.08,458.57 1165.43,496.72 1166.78,527.14 1168.13,526.67 1169.48,460.76 1170.83,504.46 1172.18,478.92 1173.53,531.43 1174.88,462.47 1176.23,512.79 1177.58,507.12 1178.93,500.22 1180.28,483.55 1181.63,503.24 1182.98,492.94 1184.33,467.41 1185.68,525.8 1187.03,512.3 1188.38,454.99 1189.73,480.73 1191.07,485.11 1192.42,432.09 1193.77,470.37 1195.12,434.67 1196.47,472.66 1197.82,422.99 1199.17,473.6 1200.52,456.93 1201.87,465.47 1203.22,442.7 1204.57,498.08 1205.92,532.76 1207.27,528.55 1208.62,605.04 1209.97,558.28 1211.32,540.55 1212.67,617.79 1214.02,580.15 1215.37,617.79 1216.72,588.78 1218.07,605.32 1219.42,617.79 1220.77,566.85 1222.11,576.3 1223.46,617.79 1224.81,595.06 1226.16,538.8 1227.51,527.48 1228.86,558.81 1230.21,535.26 1231.56,571.41 1232.91,548.26 1234.26,573.18 1235.61,556.67 1236.96,579.86 1238.31,594.08 1239.66,564.21 1241.01,584.48 1242.36,523.84 1243.71,580.78 1245.06,533.83 1246.41,588.66 1247.76,524.09 1249.11,511.07 1250.46,535.73 1251.81,524.86 1253.15,562.86 1254.5,519.28 1255.85,549.19 1257.2,508.53 1258.55,534.49 1259.9,500.86 1261.25,519.44 1262.6,417.43 1263.95,505.96 1265.3,516.82 1266.65,572.07 1268,531.55 1269.35,600.12 1270.7,560.82 1272.05,597.49 1273.4,563.41 1274.75,611.39 1276.1,561.42 1277.45,562.97 1278.8,564.94 1280.15,525.26 1281.5,542.36 1282.85,600.4 1284.19,561.16 1285.54,586.35 1286.89,592.21 1288.24,544.68 1289.59,578.65 1290.94,525.83 1292.29,589.1 1293.64,543.4 1294.99,593.19 1296.34,561.73 1297.69,590.95 1299.04,575.33 1300.39,543.01 1301.74,589.56 1303.09,562.08 1304.44,542.43 1305.79,590.2 1307.14,530.3 1308.49,581.46 1309.84,531.92 1311.19,601.59 1312.54,549.94 1313.89,573.69 1315.23,552.29 1316.58,565.39 1317.93,534.6 1319.28,552.85 1320.63,580.6 1321.98,533.24 1323.33,594.75 1324.68,536.6 1326.03,573.53 1327.38,554.32 1328.73,573.73 1330.08,532.08 1331.43,586.85 1332.78,527.37 1334.13,551.8 1335.48,614.27 1336.83,557.4 1338.18,609.92 1339.53,606.57 1340.88,549.09 1342.23,564.2 1343.58,615.68 1344.93,581.92" fill="none" stroke="#ff0000" stroke-width="1.5" stroke-linejoin="round"/>
<path d="M825.5,557.7 H847.7" stroke="#4050d0" stroke-width="1.6"/>
<path d="M825.5,586 H847.7" stroke="#d84040" stroke-width="1.6"/>
<text transform="translate(858.44,565.1) scale(1.0128,1)" font-size="24.5" fill="#000">Coulomb</text>
<text transform="translate(859.62,592.9) scale(0.9584,1)" font-size="24.5" fill="#000">vdW</text>
<rect x="903.3" y="345.0" width="103.40000000000009" height="271.0" fill="rgb(225,95,15)" fill-opacity="0.2"/>
<rect x="1006.7" y="345.0" width="127.59999999999991" height="271.0" fill="rgb(245,240,0)" fill-opacity="0.2"/>
<rect x="1134.3" y="345.0" width="211.10000000000014" height="271.0" fill="rgb(0,0,255)" fill-opacity="0.2"/>
<rect x="801.7" y="345.0" width="544.5999999999999" height="276.0" fill="none" stroke="#111" stroke-width="1.8"/>
<path d="M801.7,393.3h5.2 M801.7,445.75h5.2 M801.7,498.2h5.2 M801.7,550.65h5.2 M801.7,603.1h5.2 M805.1,621.0v-6 M903.25,621.0v-6 M1001.4,621.0v-6 M1099.55,621.0v-6 M1197.7,621.0v-6 M1295.85,621.0v-6" stroke="#111" stroke-width="1.5" fill="none"/>
<text x="783.97" y="402.2" font-size="25.2" fill="#000">0</text>
<text x="775.65" y="454.65" font-size="25.2" fill="#000">-5</text>
<text x="761.56" y="507.1" font-size="25.2" fill="#000">-10</text>
<text x="761.64" y="559.55" font-size="25.2" fill="#000">-15</text>
<text x="761.56" y="612" font-size="25.2" fill="#000">-20</text>
<text x="798.09" y="647.8" font-size="25.2" fill="#000">0</text>
<text x="882.09" y="647.8" font-size="25.2" fill="#000">200</text>
<text x="980.58" y="647.8" font-size="25.2" fill="#000">400</text>
<text x="1078.38" y="647.8" font-size="25.2" fill="#000">600</text>
<text x="1176.62" y="647.8" font-size="25.2" fill="#000">800</text>
<text x="1267.35" y="647.8" font-size="25.2" fill="#000">1000</text>
<text x="1045.5" y="692.6" font-size="25.6"><tspan font-style="italic">t</tspan> (ns)</text>
<text transform="translate(960.5,518.17) rotate(-90) scale(1.0369,1)" font-size="25.5" fill="#000">D-I dominant</text>
<text transform="translate(1077.2,583.24) rotate(-90) scale(1.0784,1)" font-size="25.5" fill="#000">Intermediate</text>
<text transform="translate(1157.71,423) scale(1.0423,1)" font-size="25.5" fill="#000">vdW dominant</text>
<text transform="translate(752.5,631.6) rotate(-90)" font-size="24.6">Inteaction energy (kJ·mol<tspan font-size="15" dy="-18">-1</tspan><tspan dy="18">)</tspan></text>
<text transform="translate(688.15,361.24) scale(0.2952,0.3705)" font-size="100" font-weight="bold" fill="#000">c</text>
<defs>
<radialGradient id="gsph" cx="0.5" cy="0.5" r="0.5">
 <stop offset="0" stop-color="#fefcc4"/><stop offset="0.8" stop-color="#fcfab2"/><stop offset="0.92" stop-color="#efe696"/><stop offset="0.98" stop-color="#b4a478"/><stop offset="1" stop-color="#6a5a70"/>
</radialGradient>
<pattern id="dotb" width="4" height="5" patternUnits="userSpaceOnUse"><rect width="4" height="5" fill="#fff"/><circle cx="1" cy="1" r="0.7" fill="#30b0f0"/><circle cx="3" cy="3.5" r="0.6" fill="#80c8f8"/></pattern>
<pattern id="dotr" width="4" height="5" patternUnits="userSpaceOnUse"><rect width="4" height="5" fill="#fff"/><circle cx="1" cy="1" r="0.7" fill="#f04040"/><circle cx="3" cy="3.5" r="0.6" fill="#f8a0a0"/></pattern>
<pattern id="dotg" width="4" height="5" patternUnits="userSpaceOnUse"><rect width="4" height="5" fill="#c8c8c8"/><circle cx="1" cy="1" r="0.6" fill="#e06060"/></pattern>
<pattern id="dotgb" width="4" height="5" patternUnits="userSpaceOnUse"><rect width="4" height="5" fill="#c4c4c8"/><circle cx="1" cy="1" r="0.6" fill="#5080f0"/></pattern>
</defs>
<text transform="translate(0.03,708.52) scale(0.3572,0.3840)" font-size="100" font-weight="bold" fill="#000">d</text>
<rect x="199.5" y="732.7" width="122.30000000000001" height="301.29999999999995" fill="#f6eaea"/>
<rect x="87.2" y="732.7" width="551.5999999999999" height="301.29999999999995" fill="none" stroke="#000" stroke-width="2"/>
<path d="M87.2,1034h-9.5 M87.2,958.68h-9.5 M87.2,883.36h-9.5 M87.2,808.04h-9.5 M87.2,732.72h-9.5 M86.7,1034.0v9.5 M172.93,1034.0v9.5 M259.15,1034.0v9.5 M345.38,1034.0v9.5 M431.6,1034.0v9.5 M517.83,1034.0v9.5 M604.05,1034.0v9.5" stroke="#000" stroke-width="2" fill="none"/>
<text transform="translate(55.44,1042.3) scale(1.0700,1)" font-size="24.5" fill="#000">2</text>
<text transform="translate(54.89,966.98) scale(1.0700,1)" font-size="24.5" fill="#000">4</text>
<text transform="translate(55.27,891.66) scale(1.0700,1)" font-size="24.5" fill="#000">6</text>
<text transform="translate(55.26,816.34) scale(1.0700,1)" font-size="24.5" fill="#000">8</text>
<text transform="translate(41.37,740.2) scale(1.0357,1)" font-size="24.5" fill="#000">10</text>
<text transform="translate(79.34,1070.8) scale(1.0800,1)" font-size="24.5" fill="#000">0</text>
<text transform="translate(158.2,1070.8) scale(1.0800,1)" font-size="24.5" fill="#000">50</text>
<text transform="translate(236.59,1070.8) scale(1.0800,1)" font-size="24.5" fill="#000">100</text>
<text transform="translate(322.81,1070.8) scale(1.0800,1)" font-size="24.5" fill="#000">150</text>
<text transform="translate(409.38,1070.8) scale(1.0800,1)" font-size="24.5" fill="#000">200</text>
<text transform="translate(495.6,1070.8) scale(1.0800,1)" font-size="24.5" fill="#000">250</text>
<text transform="translate(581.99,1070.8) scale(1.0800,1)" font-size="24.5" fill="#000">300</text>
<path d="M121.19,828.75V807.29M117.59,828.75h7.2M117.59,807.29h7.2M172.93,917.25V869.43M169.33,917.25h7.2M169.33,869.43h7.2M224.66,928.18V851.73M221.06,928.18h7.2M221.06,851.73h7.2M259.15,909.35V837.79M255.55,909.35h7.2M255.55,837.79h7.2M293.64,927.42V845.7M290.04,927.42h7.2M290.04,845.7h7.2M345.38,968.47V884.87M341.77,968.47h7.2M341.77,884.87h7.2M431.6,940.23V885.24M428,940.23h7.2M428,885.24h7.2M604.05,1034V966.21M600.45,1034h7.2M600.45,966.21h7.2" stroke="#333" stroke-width="1" fill="none"/>
<path d="M121.19,901.44V805.03M117.59,901.44h7.2M117.59,805.03h7.2M172.93,919.14V850.6M169.33,919.14h7.2M169.33,850.6h7.2M224.66,862.27V831.39M221.06,862.27h7.2M221.06,831.39h7.2M259.15,868.3V811.81M255.55,868.3h7.2M255.55,811.81h7.2M293.64,847.58V823.1M290.04,847.58h7.2M290.04,823.1h7.2M345.38,945.5V898.42M341.77,945.5h7.2M341.77,898.42h7.2M431.6,916.12V883.36M428,916.12h7.2M428,883.36h7.2M604.05,1014.42V998.22M600.45,1014.42h7.2M600.45,998.22h7.2" stroke="#ff5050" stroke-width="1" fill="none"/>
<polyline points="121.19,818.58 172.93,893.9 224.66,889.76 259.15,873.95 293.64,885.24 345.38,927.05 431.6,912.73 517.83,901.44 604.05,999.35" fill="none" stroke="#000" stroke-width="1.7" stroke-dasharray="6 5"/>
<rect x="113.59" y="810.98" width="15.2" height="15.2" fill="#000"/>
<rect x="165.33" y="886.3" width="15.2" height="15.2" fill="#000"/>
<rect x="217.06" y="882.16" width="15.2" height="15.2" fill="#000"/>
<rect x="251.55" y="866.35" width="15.2" height="15.2" fill="#000"/>
<rect x="286.04" y="877.64" width="15.2" height="15.2" fill="#000"/>
<rect x="337.77" y="919.45" width="15.2" height="15.2" fill="#000"/>
<rect x="424" y="905.13" width="15.2" height="15.2" fill="#000"/>
<rect x="510.23" y="893.84" width="15.2" height="15.2" fill="#000"/>
<rect x="596.45" y="991.75" width="15.2" height="15.2" fill="#000"/>
<polyline points="121.19,852.48 172.93,885.24 224.66,846.83 259.15,840.05 293.64,835.16 345.38,921.77 431.6,899.55 517.83,925.16 604.05,1006.13" fill="none" stroke="#ff0000" stroke-width="1.7" stroke-dasharray="6 5"/>
<circle cx="121.19" cy="852.48" r="8.3" fill="#ff0000"/>
<circle cx="172.93" cy="885.24" r="8.3" fill="#ff0000"/>
<circle cx="224.66" cy="846.83" r="8.3" fill="#ff0000"/>
<circle cx="259.15" cy="840.05" r="8.3" fill="#ff0000"/>
<circle cx="293.64" cy="835.16" r="8.3" fill="#ff0000"/>
<circle cx="345.38" cy="921.77" r="8.3" fill="#ff0000"/>
<circle cx="431.6" cy="899.55" r="8.3" fill="#ff0000"/>
<circle cx="517.83" cy="925.16" r="8.3" fill="#ff0000"/>
<circle cx="604.05" cy="1006.13" r="8.3" fill="#ff0000"/>
<path d="M99.5,970.8h6M111.3,970.8h6M139.7,970.8h6M152.8,970.8h6" stroke="#000" stroke-width="1.8"/>
<rect x="121.9" y="963.3" width="15" height="15" fill="#000"/>
<path d="M99.5,1003.2h6M113,1003.2h6M141,1003.2h6M154,1003.2h5" stroke="#ff0000" stroke-width="1.8"/>
<circle cx="129.1" cy="1003.2" r="8.3" fill="#ff0000"/>
<text transform="translate(166.31,979.1) scale(1.0867,1)" font-size="24.5" fill="#000">left region</text>
<text transform="translate(166.33,1011.1) scale(1.0850,1)" font-size="24.5" fill="#000">right region</text>
<text transform="translate(26.5,1054.6) rotate(-90) scale(1.07,1)" font-size="24.5">Number density (nm<tspan font-size="15" dy="-10">-3</tspan><tspan dy="10">, </tspan><tspan font-size="21">×10</tspan><tspan font-size="13.5" dy="-10">-3</tspan><tspan dy="10">)</tspan></text>
<text transform="translate(305.5,1109.5) scale(1.08,1)" font-size="24.5"><tspan font-style="italic">t</tspan> (ns)</text>
<rect x="397.6" y="737.6" width="229" height="123.4" fill="#fff" fill-opacity="0"/>
<path d="M416.3,737.6 V842.3 H626.6 M397.6,861 L416.3,842.3" stroke="#606060" stroke-width="1" stroke-dasharray="4 3" fill="none"/>
<ellipse cx="443" cy="814.5" rx="31.7" ry="34.1" fill="url(#gsph)" stroke="#5b4b7a" stroke-width="1.6"/>
<path d="M420.18,800.18 A26.95,25.58 0 0 1 465.82,800.18 A30.11,27.28 0 0 0 420.18,800.18Z" fill="#fff" fill-opacity="0.75"/>
<ellipse cx="443" cy="814.5" rx="30.9" ry="10.4" fill="#fbf5e8" fill-opacity="0.9" stroke="#c8b8d8" stroke-width="0.8"/>
<ellipse cx="549.5" cy="814.5" rx="33.2" ry="34.1" fill="url(#gsph)" stroke="#5b4b7a" stroke-width="1.6"/>
<path d="M525.6,800.18 A28.22,25.58 0 0 1 573.4,800.18 A31.54,27.28 0 0 0 525.6,800.18Z" fill="#fff" fill-opacity="0.75"/>
<ellipse cx="549.5" cy="814.5" rx="32.4" ry="10.4" fill="#fbf5e8" fill-opacity="0.9" stroke="#c8b8d8" stroke-width="0.8"/>
<path d="M443,781.7 H550 M443,848.3 H550" stroke="#4060ff" stroke-width="1.4" stroke-dasharray="5 3" fill="none"/>
<path d="M474.4,794.4 L482.9,781.7 H499.1 L490.6,794.4Z" fill="url(#dotb)" stroke="#2040ff" stroke-width="1.3"/>
<rect x="474.4" y="794.4" width="16.2" height="53.9" fill="url(#dotb)" stroke="#2040ff" stroke-width="1.5"/>
<path d="M482.9,781.7 V835.6 H499.1 M474.4,848.3 L482.9,835.6" stroke="#2040ff" stroke-width="0.8" stroke-dasharray="3 2" stroke-opacity="0.6" fill="none"/>
<path d="M490.6,794.4 L498.9,781.7 H515.5 L507.2,794.4Z" fill="url(#dotr)" stroke="#d02020" stroke-width="1.3"/>
<path d="M507.2,794.4 L515.5,781.7 V835.6 L507.2,848.3Z" fill="url(#dotg)" stroke="#d02020" stroke-width="1.3"/>
<rect x="490.6" y="794.4" width="16.6" height="53.9" fill="url(#dotr)" stroke="#d02020" stroke-width="1.5"/>
<path d="M498.9,781.7 V835.6 H515.5 M490.6,848.3 L498.9,835.6" stroke="#d02020" stroke-width="0.8" stroke-dasharray="3 2" stroke-opacity="0.6" fill="none"/>
<path d="M397.6,756.3 L416.3,737.6 H626.6 V842.3 L608,861 M608,756.3 L626.6,737.6" stroke="#a0a0a0" stroke-width="1.3" fill="none"/>
<rect x="397.6" y="756.3" width="210.4" height="104.7" fill="none" stroke="#a0a0a0" stroke-width="1.6"/>
<text transform="translate(431.57,820.7) scale(0.8298,1)" font-size="24" fill="#000">P</text>
<text transform="translate(445.69,810.7) scale(1.1379,1)" font-size="17" font-family="Liberation Serif" fill="#000">i</text>
<text transform="translate(443.98,827.4) scale(1.4202,1)" font-size="17" font-family="Liberation Serif" fill="#000">1</text>
<text transform="translate(538.45,819.6) scale(0.8377,1)" font-size="24" fill="#000">P</text>
<text transform="translate(552.36,825.5) scale(1.0662,1)" font-size="17.5" fill="#000">2</text>
<text transform="translate(398.97,768.7) scale(1.1610,1)" font-size="14.5" fill="#000">left region</text>
<text transform="translate(517.09,769.3) scale(1.1566,1)" font-size="14.5" fill="#ff0000">right region</text>
<path d="M486.5,786.7 L478,774" stroke="#000" stroke-width="1.6"/><path d="M474.9,769.5 L475.2,778.2 L481.2,774.2Z" fill="#000"/>
<path d="M501.9,787.8 L512.5,773.8" stroke="#ff0000" stroke-width="1.6"/><path d="M516.1,769.2 L509.6,774.6 L515.3,778.9Z" fill="#ff0000"/>
<text transform="translate(701.88,697.55) scale(0.3624,0.3614)" font-size="100" font-weight="bold" fill="#000">e</text>
<defs><clipPath id="clipE"><rect x="786" y="732" width="1000" height="304"/></clipPath></defs>
<ellipse cx="1198.4" cy="851.5" rx="117" ry="68" fill="#ffc8c8" filter="url(#blur8)" clip-path="url(#clipE)"/>
<path d="M1066.1,740 V1037.0" stroke="#000" stroke-width="1.6" stroke-dasharray="4.5 3.5"/>
<path d="M811.1,732.2 V830.1 H1015.4 M794.8,845.8 L811.1,830.1" stroke="#606060" stroke-width="1" stroke-dasharray="4 3" fill="none"/>
<ellipse cx="842" cy="799.9" rx="34.2" ry="34.5" fill="url(#gsph)" stroke="#5b4b7a" stroke-width="1.6"/>
<path d="M817.38,785.41 A29.07,25.88 0 0 1 866.62,785.41 A32.49,27.6 0 0 0 817.38,785.41Z" fill="#fff" fill-opacity="0.75"/>
<ellipse cx="842" cy="799.9" rx="33.4" ry="10.2" fill="#fbf5e8" fill-opacity="0.9" stroke="#c8b8d8" stroke-width="0.8"/>
<ellipse cx="945.9" cy="799.9" rx="34" ry="34.5" fill="url(#gsph)" stroke="#5b4b7a" stroke-width="1.6"/>
<path d="M921.42,785.41 A28.9,25.88 0 0 1 970.38,785.41 A32.3,27.6 0 0 0 921.42,785.41Z" fill="#fff" fill-opacity="0.75"/>
<ellipse cx="945.9" cy="799.9" rx="33.2" ry="10.2" fill="#fbf5e8" fill-opacity="0.9" stroke="#c8b8d8" stroke-width="0.8"/>
<path d="M842,766.4 H946 M842,834 H946" stroke="#4060ff" stroke-width="1.4" stroke-dasharray="5 3" fill="none"/>
<path d="M876.2,778.8 L889.2,766.6 H911.4 L898.4,778.8Z" fill="url(#dotb)" stroke="#2040ff" stroke-width="1.3"/>
<path d="M898.4,778.8 L911.4,766.6 V821.6 L898.4,833.8Z" fill="url(#dotgb)" stroke="#2040ff" stroke-width="1.3"/>
<rect x="876.2" y="778.8" width="22.2" height="55" fill="url(#dotb)" stroke="#2040ff" stroke-width="1.5"/>
<path d="M889.2,766.6 V821.6 H911.4 M876.2,833.8 L889.2,821.6" stroke="#2040ff" stroke-width="0.8" stroke-dasharray="3 2" stroke-opacity="0.6" fill="none"/>
<path d="M794.8,747.8 L811.1,732.2 H1015.4 V830.1 L999.8,845.8 M999.8,747.8 L1015.4,732.2" stroke="#a0a0a0" stroke-width="1.3" fill="none"/>
<rect x="794.8" y="747.8" width="205" height="98" fill="none" stroke="#a0a0a0" stroke-width="1.6"/>
<text transform="translate(828.68,805.5) scale(0.8220,1)" font-size="24" fill="#000">P</text>
<text transform="translate(842.69,794.7) scale(1.1379,1)" font-size="17" font-family="Liberation Serif" fill="#000">i</text>
<text transform="translate(841.43,811.6) scale(1.3868,1)" font-size="17" font-family="Liberation Serif" fill="#000">1</text>
<text transform="translate(933.45,805.3) scale(0.8377,1)" font-size="24" fill="#000">P</text>
<text transform="translate(947.16,810.7) scale(1.0662,1)" font-size="17.5" fill="#000">2</text>
<path d="M826.63,958.01V870.59M822.73,958.01h7.8M822.73,870.59h7.8M851.71,1017.7V941.09M847.81,1017.7h7.8M847.81,941.09h7.8M876.79,951.43V818.89M872.89,951.43h7.8M872.89,818.89h7.8M901.87,998.2V960.36M897.97,998.2h7.8M897.97,960.36h7.8M926.95,1004.77V895.5M923.05,1004.77h7.8M923.05,895.5h7.8M952.03,962V923.7M948.13,962h7.8M948.13,923.7h7.8M977.11,958.01V870.59M973.21,958.01h7.8M973.21,870.59h7.8M1002.19,887.27V824.06M998.29,887.27h7.8M998.29,824.06h7.8M1027.27,879.52V803.85M1023.37,879.52h7.8M1023.37,803.85h7.8M1052.35,918.29V880.46M1048.45,918.29h7.8M1048.45,880.46h7.8M1077.43,972.11V870.59M1073.53,972.11h7.8M1073.53,870.59h7.8M1102.51,929.81V825M1098.61,929.81h7.8M1098.61,825h7.8M1127.59,1000.31V886.1M1123.69,1000.31h7.8M1123.69,886.1h7.8M1152.67,896.21V758.03M1148.77,896.21h7.8M1148.77,758.03h7.8M1177.75,810.19V785.29M1173.85,810.19h7.8M1173.85,785.29h7.8M1202.83,896.21V815.6M1198.93,896.21h7.8M1198.93,815.6h7.8M1227.91,897.14V858.84M1224.01,897.14h7.8M1224.01,858.84h7.8M1252.99,982.92V843.8M1249.09,982.92h7.8M1249.09,843.8h7.8M1278.07,878.82V817.71M1274.17,878.82h7.8M1274.17,817.71h7.8M1303.15,991.62V863.77M1299.25,991.62h7.8M1299.25,863.77h7.8M1328.23,1000.31V972.11M1324.33,1000.31h7.8M1324.33,972.11h7.8" stroke="#ff9090" stroke-width="1" fill="none"/>
<path d="M790.89,854.38V841.21M786.99,854.38h7.8M786.99,841.21h7.8M815.97,877.88V864.95M812.07,877.88h7.8M812.07,864.95h7.8M866.13,870.36V856.25M862.23,870.36h7.8M862.23,856.25h7.8M891.21,871.06V847.8M887.31,871.06h7.8M887.31,847.8h7.8M916.29,958.01V942.03M912.39,958.01h7.8M912.39,942.03h7.8M1217.25,869.65V855.55M1213.35,869.65h7.8M1213.35,855.55h7.8M1242.33,877.88V863.77M1238.43,877.88h7.8M1238.43,863.77h7.8M1267.41,888.45V854.38M1263.51,888.45h7.8M1263.51,854.38h7.8M1292.49,933.1V921.35M1288.59,933.1h7.8M1288.59,921.35h7.8M1317.57,863.77V846.15M1313.67,863.77h7.8M1313.67,846.15h7.8" stroke="#8080ff" stroke-width="1" fill="none"/>
<polyline points="826.63,914.3 851.71,979.39 876.79,885.39 901.87,979.39 926.95,950.49 952.03,943.21 977.11,914.3 1002.19,856.25 1027.27,842.15 1052.35,899.97 1077.43,921.59 1102.51,877.64 1127.59,950.73 1152.67,827.12 1177.75,798.21 1202.83,856.49 1227.91,877.64 1252.99,913.6 1278.07,848.97 1303.15,928.4 1328.23,986.91" fill="none" stroke="#ff0000" stroke-width="2" stroke-dasharray="2 3"/>
<rect x="821.53" y="909.2" width="10.2" height="10.2" fill="#ff0000"/>
<rect x="846.61" y="974.29" width="10.2" height="10.2" fill="#ff0000"/>
<rect x="871.69" y="880.29" width="10.2" height="10.2" fill="#ff0000"/>
<rect x="896.77" y="974.29" width="10.2" height="10.2" fill="#ff0000"/>
<rect x="921.85" y="945.39" width="10.2" height="10.2" fill="#ff0000"/>
<rect x="946.93" y="938.11" width="10.2" height="10.2" fill="#ff0000"/>
<rect x="972.01" y="909.2" width="10.2" height="10.2" fill="#ff0000"/>
<rect x="997.09" y="851.15" width="10.2" height="10.2" fill="#ff0000"/>
<rect x="1022.17" y="837.05" width="10.2" height="10.2" fill="#ff0000"/>
<rect x="1047.25" y="894.87" width="10.2" height="10.2" fill="#ff0000"/>
<rect x="1072.33" y="916.49" width="10.2" height="10.2" fill="#ff0000"/>
<rect x="1097.41" y="872.54" width="10.2" height="10.2" fill="#ff0000"/>
<rect x="1122.49" y="945.62" width="10.2" height="10.2" fill="#ff0000"/>
<rect x="1147.57" y="822.01" width="10.2" height="10.2" fill="#ff0000"/>
<rect x="1172.65" y="793.11" width="10.2" height="10.2" fill="#ff0000"/>
<rect x="1197.73" y="851.39" width="10.2" height="10.2" fill="#ff0000"/>
<rect x="1222.81" y="872.54" width="10.2" height="10.2" fill="#ff0000"/>
<rect x="1247.89" y="908.5" width="10.2" height="10.2" fill="#ff0000"/>
<rect x="1272.97" y="843.87" width="10.2" height="10.2" fill="#ff0000"/>
<rect x="1298.05" y="923.3" width="10.2" height="10.2" fill="#ff0000"/>
<rect x="1323.13" y="981.81" width="10.2" height="10.2" fill="#ff0000"/>
<polyline points="790.89,847.8 815.97,871.53 841.05,938.74 866.13,863.31 891.21,860.01 916.29,950.49 941.37,982.22 966.45,997.73 991.53,1001.72 1016.61,977.75 1041.69,973.99 1066.77,982.22 1091.85,997.96 1116.93,985.98 1142.01,989.5 1167.09,958.25 1192.17,954.25 1217.25,862.84 1242.33,871.29 1267.41,871.29 1292.49,926.99 1317.57,855.32 1342.65,867.3" fill="none" stroke="#0000ff" stroke-width="2"/>
<circle cx="790.89" cy="847.8" r="5.8" fill="#0000ff"/>
<circle cx="815.97" cy="871.53" r="5.8" fill="#0000ff"/>
<circle cx="841.05" cy="938.74" r="5.8" fill="#0000ff"/>
<circle cx="866.13" cy="863.31" r="5.8" fill="#0000ff"/>
<circle cx="891.21" cy="860.01" r="5.8" fill="#0000ff"/>
<circle cx="916.29" cy="950.49" r="5.8" fill="#0000ff"/>
<circle cx="941.37" cy="982.22" r="5.8" fill="#0000ff"/>
<circle cx="966.45" cy="997.73" r="5.8" fill="#0000ff"/>
<circle cx="991.53" cy="1001.72" r="5.8" fill="#0000ff"/>
<circle cx="1016.61" cy="977.75" r="5.8" fill="#0000ff"/>
<circle cx="1041.69" cy="973.99" r="5.8" fill="#0000ff"/>
<circle cx="1066.77" cy="982.22" r="5.8" fill="#0000ff"/>
<circle cx="1091.85" cy="997.96" r="5.8" fill="#0000ff"/>
<circle cx="1116.93" cy="985.98" r="5.8" fill="#0000ff"/>
<circle cx="1142.01" cy="989.5" r="5.8" fill="#0000ff"/>
<circle cx="1167.09" cy="958.25" r="5.8" fill="#0000ff"/>
<circle cx="1192.17" cy="954.25" r="5.8" fill="#0000ff"/>
<circle cx="1217.25" cy="862.84" r="5.8" fill="#0000ff"/>
<circle cx="1242.33" cy="871.29" r="5.8" fill="#0000ff"/>
<circle cx="1267.41" cy="871.29" r="5.8" fill="#0000ff"/>
<circle cx="1292.49" cy="926.99" r="5.8" fill="#0000ff"/>
<circle cx="1317.57" cy="855.32" r="5.8" fill="#0000ff"/>
<circle cx="1342.65" cy="867.3" r="5.8" fill="#0000ff"/>
<rect x="785.2" y="730.6" width="564.5999999999999" height="306.4" fill="none" stroke="#000" stroke-width="2.5"/>
<path d="M785.2,1036.5h-6.5 M785.2,989.5h-6.5 M785.2,942.5h-6.5 M785.2,895.5h-6.5 M785.2,848.5h-6.5 M785.2,801.5h-6.5 M785.2,754.5h-6.5 M816.6,1037.0v6.2 M879.3,1037.0v6.2 M942,1037.0v6.2 M1004.7,1037.0v6.2 M1067.4,1037.0v6.2 M1130.1,1037.0v6.2 M1192.8,1037.0v6.2 M1255.5,1037.0v6.2 M1318.2,1037.0v6.2" stroke="#000" stroke-width="2.3" fill="none"/>
<text transform="translate(760.16,1045.4) scale(1.0400,1)" font-size="25" fill="#000">0</text>
<text transform="translate(760.45,998.4) scale(1.0400,1)" font-size="25" fill="#000">2</text>
<text transform="translate(759.9,951.4) scale(1.0400,1)" font-size="25" fill="#000">4</text>
<text transform="translate(760.28,904.4) scale(1.0400,1)" font-size="25" fill="#000">6</text>
<text transform="translate(760.27,857.4) scale(1.0400,1)" font-size="25" fill="#000">8</text>
<text transform="translate(745.7,810.4) scale(1.0400,1)" font-size="25" fill="#000">10</text>
<text transform="translate(745.99,763.4) scale(1.0400,1)" font-size="25" fill="#000">12</text>
<text transform="translate(804.04,1067.8) scale(1.0400,1)" font-size="25" fill="#000">-4</text>
<text transform="translate(866.93,1067.8) scale(1.0400,1)" font-size="25" fill="#000">-3</text>
<text transform="translate(929.72,1067.8) scale(1.0400,1)" font-size="25" fill="#000">-2</text>
<text transform="translate(992.4,1067.8) scale(1.0400,1)" font-size="25" fill="#000">-1</text>
<text transform="translate(1060.17,1067.8) scale(1.0400,1)" font-size="25" fill="#000">0</text>
<text transform="translate(1122.51,1067.8) scale(1.0400,1)" font-size="25" fill="#000">1</text>
<text transform="translate(1185.57,1067.8) scale(1.0400,1)" font-size="25" fill="#000">2</text>
<text transform="translate(1248.35,1067.8) scale(1.0400,1)" font-size="25" fill="#000">3</text>
<text transform="translate(1311.05,1067.8) scale(1.0400,1)" font-size="25" fill="#000">4</text>
<text transform="translate(908.32,1099.1) scale(0.9565,1)" font-size="26.5" fill="#000">Distance from the center (nm)</text>
<text transform="translate(731,1048.4) rotate(-90) scale(1.065,1)" font-size="24.5">Number density (nm<tspan font-size="15" dy="-10">-3</tspan><tspan dy="10">, </tspan><tspan font-size="21">×10</tspan><tspan font-size="13.5" dy="-10">-3</tspan><tspan dy="10">)</tspan></text>
<text transform="translate(1223.04,725.7) scale(0.9429,1)" font-size="27" font-style="italic" fill="#000">t</text>
<text transform="translate(1238.15,725.7) scale(1.0221,1)" font-size="27" fill="#000">= 120 ns</text>
<text transform="translate(1071,742.09) rotate(90) scale(1.0144,1)" font-size="25.5">Center</text>
<text transform="translate(791.89,1030.2) scale(1.0144,1)" font-size="26.5" fill="#000">left region</text>
<text transform="translate(1204.01,1030) scale(1.0147,1)" font-size="26.5" fill="#000">right region</text>
<path d="M1216.2,757.3 H1278" stroke="#ff0000" stroke-width="1.8" stroke-dasharray="2 3"/>
<rect x="1242.2" y="752.2" width="10.2" height="10.2" fill="#ff0000"/>
<path d="M1216.5,794.2 H1278" stroke="#0000ff" stroke-width="2"/>
<circle cx="1247" cy="794.2" r="5.7" fill="#0000ff"/>
<text transform="translate(1285.19,765.9) scale(1.0454,1)" font-size="26.5" fill="#000">Cl</text>
<path d="M1311.5,749.5 h4.6" stroke="#000" stroke-width="1.6"/>
<text transform="translate(1284.84,803.1) scale(0.9936,1)" font-size="26.5" fill="#000">Na</text>
<text transform="translate(1317.72,788) scale(1.3765,1)" font-size="16" fill="#000">+</text>
</svg>
</body></html>
